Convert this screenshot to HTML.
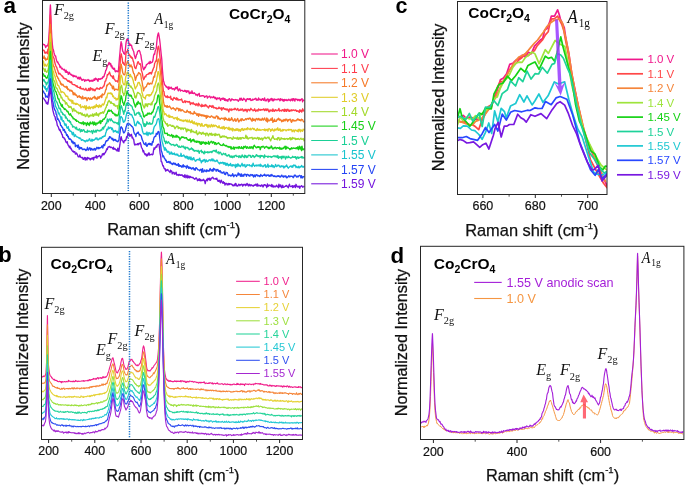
<!DOCTYPE html>
<html><head><meta charset="utf-8"><style>
html,body{margin:0;padding:0;background:#fff;}
body{width:685px;height:485px;overflow:hidden;}
svg{display:block;will-change:transform;}
</style></head><body>
<svg width="685" height="485" viewBox="0 0 685 485">
<rect width="685" height="485" fill="#fff"/>
<polyline points="43,44.5 43.5,44.3 44.1,44.9 44.6,44.7 45.2,46 45.7,47.5 46.3,46.1 46.8,45.7 47.4,46 47.9,44.9 48.5,42.5 49,35.3 49.6,24.5 50.1,9.1 50.4,5 50.7,10.2 51.2,25.8 51.8,37.6 52.3,43.8 52.9,48.8 53.4,49.9 54,52.7 54.5,54.5 55.1,56.1 55.6,55.9 56.2,59.1 56.7,60.8 57.3,62.2 57.8,61.9 58.4,63.8 58.9,64.2 59.5,65.1 60,67.4 60.6,66.4 61.1,67.6 61.7,68.9 62.2,68.2 62.8,69 63.3,69.6 63.9,70 64.4,69.3 65,70.7 65.5,72.2 66.1,70.1 66.6,72.4 67.2,72.1 67.7,71.8 68.3,74.4 68.8,73.7 69.4,72.3 69.9,73.7 70.5,74.5 71,74.1 71.6,75.2 72.1,74.9 72.7,75.8 73.2,76.8 73.8,75.3 74.3,76.3 74.9,76.1 75.4,76.8 76,76 76.5,76.8 77.1,77.3 77.6,78.5 78.2,78.9 78.7,77.1 79.3,77.7 79.8,79.2 80.4,77.1 80.9,78.6 81.5,79.1 82,80.4 82.6,80.1 83.1,79.4 83.7,79.5 84.2,79.8 84.8,81.4 85.3,79.9 85.9,80 86.4,80.6 87,80.3 87.5,80.2 88.1,79.5 88.6,80.5 89.2,80.1 89.7,81.5 90.3,81.1 90.8,80.5 91.4,81 91.9,80.1 92.5,81.2 93,80.3 93.6,80.7 94.1,79 94.7,80.3 95.2,78.5 95.8,78.2 96.3,79.5 96.9,79 97.4,79.8 98,81.4 98.5,78.7 99.1,78.7 99.6,79.3 100.2,79.4 100.7,78.6 101.3,78.3 101.8,78.8 102.4,78.4 102.9,76.6 103.5,77 104,76.5 104.6,74.2 105.1,73.3 105.7,70.3 106.2,70.1 106.8,67.8 107.3,66.3 107.9,64.9 108.4,64.5 109,62.4 109.5,63.1 110.1,64.8 110.6,63.4 111.2,66.7 111.7,65.4 112.3,68.2 112.8,67.4 113.4,69.3 113.9,69.2 114.5,68.3 115,71.1 115.6,71.7 116.1,70.8 116.7,71 117.2,71.6 117.8,71.1 118.3,71.7 118.9,64.8 119.4,58.6 120,52.3 120.5,46.2 121.1,41.6 121.3,43.4 121.6,43.2 122.2,48.1 122.7,51.1 123.3,52 123.8,53.5 124.4,54 124.9,54.3 125.5,48.2 126,43.1 126.6,40 127.1,39 127.6,40.6 127.7,38.7 128.2,39.6 128.8,42.9 129.3,45.5 129.9,43.8 130.4,45.3 131,45.4 131.5,45.1 132.1,48.2 132.6,48.9 133.2,50.5 133.7,51.5 134.3,54.9 134.8,56.6 135.4,58.6 135.9,57.3 136.5,54.6 137,54.2 137.6,51.5 138.1,51.2 138.7,50.6 139.2,50.5 139.8,51.3 140.3,53.4 140.9,55.1 141.4,58.8 142,61.9 142.5,65.9 143.1,68.3 143.6,69.8 144.2,69 144.7,67.2 145.3,67.7 145.8,66.5 146.4,64.7 146.9,64.5 147.5,64 148,63.5 148.6,63.4 149.1,62.1 149.7,63.7 150.2,61.3 150.8,63 151.3,62.5 151.9,62.3 152.4,62 153,60 153.5,56 154.1,53.9 154.6,54.3 155.2,50.9 155.7,49.7 156.3,48 156.8,42.1 157.4,37 157.9,34.4 158.4,33 158.5,33.1 159,35.6 159.6,39.4 160.1,43.5 160.7,49.6 161.2,54.4 161.8,59.6 162.3,68.2 162.9,75.2 163.4,80.6 164,82.3 164.5,84.6 165.1,85.2 165.6,85.7 166.2,87 166.7,86.4 167.3,87.6 167.8,87.7 168.4,89.3 168.9,86.6 169.5,88.6 170,87.9 170.6,88.2 171.1,87.1 171.7,88.1 172.2,89.2 172.8,88.6 173.3,88.9 173.9,88.7 174.4,90 175,89.1 175.5,87.4 176.1,88.7 176.6,87.8 177.2,86.8 177.7,89.2 178.3,90.9 178.8,89.9 179.4,88.9 179.9,89.2 180.5,91.1 181,90.4 181.6,90.4 182.1,90.4 182.7,90.6 183.2,91.4 183.8,91.3 184.3,91.1 184.9,90.2 185.4,91.6 186,90.8 186.5,92.4 187.1,90.6 187.6,91.7 188.2,91.9 188.7,90.9 189.3,93.7 189.8,93.6 190.4,92.1 190.9,93.3 191.5,93.2 192,90.8 192.6,93.4 193.1,93.3 193.7,93.5 194.2,92.7 194.8,93.5 195.3,93.8 195.9,95.1 196.4,94.5 197,94.4 197.5,95.8 198.1,94.2 198.6,94.5 199.2,93.4 199.7,96.4 200.3,96 200.8,96.1 201.4,96 201.9,95.7 202.5,95.9 203,95.6 203.6,95.8 204.1,96.1 204.7,97.4 205.2,96.7 205.8,96.3 206.3,95.9 206.9,96 207.4,98 208,97.2 208.5,96.9 209.1,96.6 209.6,96.1 210.2,97.1 210.7,98 211.3,97 211.8,97.2 212.4,97.3 212.9,97.7 213.5,96.4 214,97.6 214.6,97.2 215.1,98.7 215.7,97.4 216.2,98.7 216.8,99.6 217.3,98.1 217.9,97.9 218.4,98.7 219,98.6 219.5,97.8 220.1,99.2 220.6,100.6 221.2,98.7 221.7,98.8 222.3,98.2 222.8,99.4 223.4,98.1 223.9,98.3 224.5,100.4 225,98.6 225.6,100.3 226.1,100.8 226.7,99.7 227.2,100 227.8,101.3 228.3,99.5 228.9,99.2 229.4,98.6 230,99.8 230.5,101 231.1,100.6 231.6,99 232.2,99.1 232.7,99.4 233.3,100 233.8,99.6 234.4,100 234.9,100 235.5,99.5 236,99.8 236.6,100 237.1,99.7 237.7,100.2 238.2,101.3 238.8,100.3 239.3,99.8 239.9,98.3 240.4,100 241,98.1 241.5,98.5 242.1,100.4 242.6,100.3 243.2,99.5 243.7,98.2 244.3,99.3 244.8,99.1 245.4,100.2 245.9,101.5 246.5,99.8 247,98.9 247.6,98.6 248.1,99.5 248.7,99.4 249.2,98.6 249.8,99.6 250.3,98.6 250.9,100.5 251.4,100.4 252,100.4 252.5,99.1 253.1,99.9 253.6,99.4 254.2,99.2 254.7,99.2 255.3,98.4 255.8,98.3 256.4,100.2 256.9,99.3 257.5,99.7 258,100.4 258.6,98 259.1,98.9 259.7,99.7 260.2,99.9 260.8,99.2 261.3,100.4 261.9,99.8 262.4,98.6 263,98.8 263.5,100.3 264.1,100 264.6,98 265.2,100.8 265.7,100.2 266.3,100.8 266.8,99.4 267.4,99.5 267.9,98.8 268.5,101.9 269,99.6 269.6,101.1 270.1,99.2 270.7,99.9 271.2,98.4 271.8,99.5 272.3,100.7 272.9,98.8 273.4,100.8 274,100.2 274.5,99 275.1,99.5 275.6,99.5 276.2,99.9 276.7,99.5 277.3,99.3 277.8,99.7 278.4,99.1 278.9,98.9 279.5,100 280,100.8 280.6,98.7 281.1,100 281.7,99.5 282.2,99.2 282.8,100.8 283.3,99.6 283.9,101.3 284.4,99.4 285,100.4 285.5,99.9 286.1,99.4 286.6,100.6 287.2,99.9 287.7,100.6 288.3,100 288.8,99.2 289.4,100 289.9,100.2 290.5,100.9 291,99.3 291.6,100.1 292.1,98.7 292.7,100.7 293.2,99.2 293.8,98.6 294.3,100.1 294.9,101.1 295.4,98.9 296,99.2 296.5,99.5 297.1,99.2 297.6,100.5 298.2,99.5 298.7,99.6 299.3,100.7 299.8,99.5 300.4,100.6 300.9,99.4 301.5,99.2 302,98.6 302.6,101.8 303.1,99.9 303.7,100.4 304.2,100.2" fill="none" stroke="#f0188a" stroke-width="1.35" stroke-linejoin="round" />
<polyline points="43,49.6 43.5,50.4 44.1,50.5 44.6,52.7 45.2,53.2 45.7,52.1 46.3,52 46.8,52.8 47.4,53.7 47.9,49.1 48.5,49.9 49,42.5 49.6,33.3 50.1,18.3 50.4,14.9 50.7,19.6 51.2,34.8 51.8,47.5 52.3,53.3 52.9,55.9 53.4,57.5 54,58.2 54.5,61.3 55.1,63.5 55.6,65.2 56.2,66.7 56.7,67.2 57.3,69.4 57.8,70.6 58.4,72.7 58.9,74.1 59.5,73.3 60,73.5 60.6,74.7 61.1,74.9 61.7,75.4 62.2,76.5 62.8,76.2 63.3,78.1 63.9,78 64.4,78.7 65,78.8 65.5,78.7 66.1,78.9 66.6,79.9 67.2,80.1 67.7,81.1 68.3,81.3 68.8,80.5 69.4,82.1 69.9,81.3 70.5,82.3 71,82.9 71.6,81.8 72.1,84 72.7,84.4 73.2,84.5 73.8,84.6 74.3,84.9 74.9,84.7 75.4,85.7 76,85.7 76.5,86.5 77.1,85.7 77.6,87.2 78.2,87.3 78.7,87.3 79.3,87.3 79.8,88.3 80.4,86.7 80.9,88.7 81.5,88.7 82,88.9 82.6,89.1 83.1,88.4 83.7,88.9 84.2,89.8 84.8,89.8 85.3,89.7 85.9,88.3 86.4,90.1 87,90.6 87.5,90.5 88.1,89.9 88.6,88.4 89.2,90.6 89.7,89.6 90.3,87.6 90.8,90.1 91.4,88.4 91.9,88.5 92.5,89 93,90.6 93.6,89.1 94.1,89.6 94.7,90.8 95.2,90.6 95.8,89 96.3,88.8 96.9,87.9 97.4,88.3 98,89.1 98.5,88.9 99.1,88.6 99.6,89.2 100.2,87.5 100.7,87.9 101.3,88.3 101.8,87.9 102.4,88 102.9,87.1 103.5,86 104,86 104.6,83.6 105.1,81.2 105.7,81.1 106.2,78.9 106.8,77.7 107.3,74.7 107.9,75 108.4,74 109,73.3 109.5,72 110.1,74 110.6,75.6 111.2,76 111.7,75.9 112.3,77.1 112.8,78.3 113.4,75.8 113.9,78.5 114.5,79.6 115,80.1 115.6,81.3 116.1,81.2 116.7,80.9 117.2,81.3 117.8,82 118.3,79.7 118.9,75.2 119.4,70 120,65.4 120.5,57.7 121.1,54 121.3,53.9 121.6,55.8 122.2,58.2 122.7,63.1 123.3,62.5 123.8,64.2 124.4,64.8 124.9,65.2 125.5,60.2 126,53.3 126.6,51.8 127.1,51.4 127.6,50.1 127.7,49.4 128.2,52.6 128.8,54 129.3,55.4 129.9,55.2 130.4,57 131,56.4 131.5,58.1 132.1,57.4 132.6,58.7 133.2,61.2 133.7,62.1 134.3,65.6 134.8,67.7 135.4,68.2 135.9,68.6 136.5,65.9 137,64.7 137.6,62.3 138.1,61.6 138.7,62.7 139.2,63.9 139.8,64.4 140.3,63.8 140.9,66.2 141.4,70.6 142,72.1 142.5,74.2 143.1,77.8 143.6,79.7 144.2,78.7 144.7,77.1 145.3,76.1 145.8,76.9 146.4,74.9 146.9,74.7 147.5,74.3 148,74.3 148.6,73.3 149.1,73.9 149.7,72.6 150.2,73 150.8,72.4 151.3,74.1 151.9,72.6 152.4,70.9 153,69.6 153.5,68 154.1,67.1 154.6,63.5 155.2,62.3 155.7,60.9 156.3,61.2 156.8,56.4 157.4,51 157.9,47.6 158.4,46.2 158.5,46.3 159,48.4 159.6,54.1 160.1,58.1 160.7,63 161.2,67.3 161.8,74.8 162.3,80.8 162.9,86.5 163.4,91.2 164,91.5 164.5,95.6 165.1,95.8 165.6,96.7 166.2,97.3 166.7,96.7 167.3,95.8 167.8,97.7 168.4,96.9 168.9,97.4 169.5,97.3 170,97.7 170.6,96.2 171.1,99.4 171.7,98.7 172.2,99.5 172.8,100.4 173.3,98.9 173.9,97.4 174.4,98.3 175,98.2 175.5,98.9 176.1,99.5 176.6,97.8 177.2,99.9 177.7,98.4 178.3,100.1 178.8,99.8 179.4,99.7 179.9,100 180.5,99.7 181,99.8 181.6,99 182.1,100.5 182.7,102.2 183.2,102.5 183.8,102 184.3,101.6 184.9,100.6 185.4,102.5 186,101.4 186.5,101.5 187.1,101.5 187.6,102 188.2,101.7 188.7,102.1 189.3,101.4 189.8,102.2 190.4,104.6 190.9,102.8 191.5,102.8 192,103.6 192.6,103.9 193.1,102.5 193.7,103.4 194.2,104.5 194.8,104.1 195.3,104.1 195.9,105.5 196.4,103.8 197,104.6 197.5,104.2 198.1,106 198.6,103.2 199.2,104.5 199.7,104.7 200.3,105.9 200.8,105.9 201.4,106.7 201.9,104.3 202.5,106.4 203,105.6 203.6,105.4 204.1,106.5 204.7,105.4 205.2,104.5 205.8,106 206.3,105.1 206.9,105.9 207.4,106.9 208,106.9 208.5,108 209.1,106.6 209.6,105.5 210.2,106.2 210.7,106.2 211.3,106 211.8,107.4 212.4,106.6 212.9,105.5 213.5,107.9 214,107.3 214.6,107.8 215.1,107.7 215.7,108.2 216.2,107.8 216.8,109 217.3,108.4 217.9,108.5 218.4,108.6 219,107.1 219.5,108.3 220.1,108.3 220.6,108.8 221.2,107.6 221.7,110.2 222.3,109 222.8,108 223.4,107.6 223.9,108.9 224.5,109.2 225,108.7 225.6,109.5 226.1,108.9 226.7,110 227.2,109 227.8,109.6 228.3,110.6 228.9,112 229.4,109 230,109.5 230.5,109.2 231.1,110.6 231.6,109 232.2,109.6 232.7,109.9 233.3,109.1 233.8,109.2 234.4,109.6 234.9,108.2 235.5,108.7 236,109.6 236.6,110.1 237.1,109.8 237.7,108.4 238.2,109.5 238.8,110.6 239.3,110.4 239.9,109.8 240.4,109.1 241,110.4 241.5,109.4 242.1,108.9 242.6,109.2 243.2,111.1 243.7,110 244.3,110.8 244.8,109.4 245.4,110.6 245.9,109.3 246.5,109.7 247,111.9 247.6,110.4 248.1,109.3 248.7,109.7 249.2,110 249.8,110.8 250.3,109.3 250.9,108.3 251.4,109.5 252,109.7 252.5,109.8 253.1,110.8 253.6,110 254.2,110.4 254.7,108.8 255.3,110.4 255.8,111.5 256.4,110.4 256.9,109.9 257.5,109.9 258,111.2 258.6,108.9 259.1,109.6 259.7,110.1 260.2,110.4 260.8,109.4 261.3,110 261.9,109.6 262.4,109.9 263,109.7 263.5,108.9 264.1,109.8 264.6,110.6 265.2,109 265.7,109.7 266.3,110.5 266.8,109 267.4,110.1 267.9,109 268.5,110.9 269,111.9 269.6,111.7 270.1,109.8 270.7,110.7 271.2,110.1 271.8,110.1 272.3,111.4 272.9,109 273.4,111 274,110.1 274.5,111.3 275.1,110.3 275.6,109.6 276.2,110.4 276.7,110.8 277.3,110.2 277.8,110.6 278.4,109.8 278.9,108.4 279.5,111 280,110.8 280.6,110.4 281.1,110.3 281.7,111.1 282.2,109.9 282.8,109.7 283.3,110.1 283.9,111.3 284.4,109.1 285,111.3 285.5,109.8 286.1,109.4 286.6,111.4 287.2,110.2 287.7,109.2 288.3,110 288.8,111.1 289.4,111.4 289.9,110 290.5,110.7 291,111 291.6,109.8 292.1,110.7 292.7,110.4 293.2,109.9 293.8,110 294.3,110.5 294.9,110.4 295.4,109.9 296,110.1 296.5,111.4 297.1,110.6 297.6,111.2 298.2,111.5 298.7,111 299.3,112.4 299.8,109.8 300.4,111.2 300.9,110.2 301.5,112 302,111.9 302.6,108.8 303.1,109.7 303.7,111.1 304.2,111.2" fill="none" stroke="#ff3c4c" stroke-width="1.35" stroke-linejoin="round" />
<polyline points="43,56.9 43.5,58.3 44.1,55.9 44.6,58.8 45.2,57.9 45.7,60.2 46.3,59.5 46.8,58.9 47.4,59.4 47.9,57.4 48.5,55.4 49,49.2 49.6,40.6 50.1,27.7 50.4,24.5 50.7,29.2 51.2,44.1 51.8,53.6 52.3,59.6 52.9,63.7 53.4,66.1 54,66.5 54.5,68.4 55.1,70.4 55.6,72.4 56.2,73.1 56.7,76.2 57.3,76.3 57.8,78.2 58.4,78.2 58.9,80.1 59.5,81 60,81.1 60.6,84 61.1,83.3 61.7,85.1 62.2,85 62.8,84.2 63.3,85 63.9,86.3 64.4,86.5 65,86.9 65.5,87.1 66.1,86.3 66.6,88.1 67.2,86.8 67.7,89.5 68.3,89 68.8,89.4 69.4,90.3 69.9,91.1 70.5,90.1 71,90.2 71.6,91.2 72.1,90.8 72.7,92.1 73.2,94.7 73.8,92.8 74.3,94.6 74.9,93.2 75.4,95 76,94.8 76.5,95.3 77.1,96.1 77.6,97.4 78.2,96.3 78.7,96.5 79.3,95.8 79.8,97.3 80.4,96.8 80.9,97.9 81.5,97.4 82,99.1 82.6,96.1 83.1,97.7 83.7,98.9 84.2,98 84.8,97.7 85.3,98.3 85.9,97.4 86.4,98.7 87,100.7 87.5,99.6 88.1,97.7 88.6,97.9 89.2,98.4 89.7,99.6 90.3,98 90.8,98.1 91.4,99.4 91.9,99.3 92.5,98.2 93,97.5 93.6,97.1 94.1,97.7 94.7,96.3 95.2,98.8 95.8,97.5 96.3,98.4 96.9,99.5 97.4,98.8 98,96.7 98.5,98.2 99.1,98.3 99.6,96.6 100.2,96.2 100.7,96.7 101.3,95.2 101.8,97.6 102.4,93.9 102.9,94.7 103.5,94.9 104,94.4 104.6,93.6 105.1,92 105.7,89.8 106.2,89.4 106.8,85.1 107.3,85.7 107.9,84.2 108.4,84.2 109,83.8 109.5,82.7 110.1,83.2 110.6,85 111.2,85.3 111.7,85.1 112.3,88.1 112.8,88.8 113.4,86.1 113.9,88.1 114.5,90.4 115,89.3 115.6,89.2 116.1,89.2 116.7,89.3 117.2,89.9 117.8,89.8 118.3,90 118.9,84.7 119.4,79 120,73 120.5,68.4 121.1,64.2 121.3,64.5 121.6,66.5 122.2,69.2 122.7,72.6 123.3,74 123.8,74.6 124.4,74.9 124.9,74.3 125.5,70.4 126,64.6 126.6,64.7 127.1,62.2 127.6,61.1 127.7,61.3 128.2,62 128.8,64.2 129.3,64.7 129.9,66.9 130.4,65.7 131,64.9 131.5,66.9 132.1,66.7 132.6,69.6 133.2,72.1 133.7,73.5 134.3,74.1 134.8,76.9 135.4,80.4 135.9,78.7 136.5,76.4 137,75.2 137.6,75.4 138.1,73.7 138.7,72.5 139.2,73 139.8,73.9 140.3,73.8 140.9,75.5 141.4,79.4 142,81.3 142.5,84.8 143.1,87.4 143.6,90.9 144.2,88.3 144.7,88.2 145.3,87.2 145.8,86.9 146.4,86.7 146.9,84.8 147.5,84 148,82.9 148.6,83.3 149.1,84.5 149.7,84 150.2,83.1 150.8,83.6 151.3,83.8 151.9,83.8 152.4,81.8 153,80.5 153.5,77.4 154.1,76.3 154.6,77.1 155.2,72.3 155.7,72.1 156.3,70.6 156.8,67 157.4,62.8 157.9,60.1 158.4,59 158.5,59.1 159,60.3 159.6,65.5 160.1,69.4 160.7,74.3 161.2,80 161.8,85.4 162.3,91.2 162.9,96 163.4,101.3 164,103.9 164.5,105.6 165.1,106.6 165.6,105.8 166.2,106.1 166.7,107.2 167.3,105.6 167.8,107.2 168.4,106.7 168.9,107 169.5,106 170,106.9 170.6,107.8 171.1,108.8 171.7,109 172.2,108.2 172.8,108.3 173.3,107.8 173.9,109 174.4,108.6 175,109.4 175.5,110.5 176.1,109.1 176.6,108 177.2,108.6 177.7,108.2 178.3,108.5 178.8,110.8 179.4,109.9 179.9,108.6 180.5,110.5 181,111.1 181.6,109.9 182.1,109.7 182.7,110.1 183.2,110.8 183.8,111.2 184.3,111.8 184.9,112 185.4,112.1 186,112.4 186.5,111.9 187.1,110.2 187.6,111.6 188.2,112.1 188.7,111.6 189.3,112.9 189.8,112 190.4,111.6 190.9,113.8 191.5,113.3 192,113.1 192.6,113.8 193.1,114.1 193.7,113.7 194.2,111.4 194.8,113.1 195.3,113.4 195.9,113.1 196.4,114.3 197,115.3 197.5,114 198.1,113.6 198.6,116.4 199.2,114.4 199.7,113.9 200.3,115.2 200.8,115.5 201.4,114.7 201.9,116.1 202.5,115.1 203,114.8 203.6,115.8 204.1,116.4 204.7,115.3 205.2,116.2 205.8,115.9 206.3,118.4 206.9,115.5 207.4,117.3 208,116.1 208.5,116.1 209.1,116.8 209.6,117 210.2,117.4 210.7,116.6 211.3,115.9 211.8,116 212.4,116.9 212.9,117 213.5,117.8 214,117 214.6,117.7 215.1,118.2 215.7,117.1 216.2,115.9 216.8,116.3 217.3,116.2 217.9,118.9 218.4,116.9 219,118.8 219.5,118.4 220.1,119.5 220.6,119 221.2,118.1 221.7,118.2 222.3,118.5 222.8,118.7 223.4,118.2 223.9,118.7 224.5,120.2 225,117.5 225.6,119.3 226.1,118.4 226.7,119.4 227.2,120 227.8,119.4 228.3,120.1 228.9,118.2 229.4,120.6 230,119.2 230.5,120.2 231.1,119.9 231.6,117.6 232.2,119.2 232.7,120 233.3,121.1 233.8,120.1 234.4,120 234.9,118.6 235.5,121 236,121.3 236.6,119.8 237.1,119.6 237.7,118.4 238.2,120.5 238.8,122.1 239.3,120.4 239.9,120.8 240.4,120.2 241,118.9 241.5,120.9 242.1,118.7 242.6,119.5 243.2,119.9 243.7,120.4 244.3,120 244.8,120 245.4,119 245.9,118.6 246.5,119.7 247,119 247.6,118.5 248.1,118.6 248.7,119.2 249.2,118 249.8,118.5 250.3,118.2 250.9,119.8 251.4,119.9 252,121.3 252.5,118.3 253.1,119 253.6,120.4 254.2,119.4 254.7,119.3 255.3,121 255.8,119.3 256.4,118.6 256.9,118.5 257.5,119.9 258,119.9 258.6,118.4 259.1,118.8 259.7,120.1 260.2,120.1 260.8,119.1 261.3,120.2 261.9,120.1 262.4,118.2 263,119.4 263.5,120 264.1,119.2 264.6,117.9 265.2,119.5 265.7,120.4 266.3,121.1 266.8,117.9 267.4,122 267.9,118.9 268.5,120.6 269,120.9 269.6,120.7 270.1,120 270.7,118.9 271.2,120.4 271.8,119.3 272.3,117.8 272.9,122.4 273.4,120.6 274,121.5 274.5,119.2 275.1,121.3 275.6,121.4 276.2,121.4 276.7,120 277.3,119.1 277.8,119.9 278.4,118.2 278.9,118.7 279.5,120.2 280,119.3 280.6,120 281.1,120 281.7,121.8 282.2,121.3 282.8,120.1 283.3,121.2 283.9,119.5 284.4,119.9 285,121 285.5,119.2 286.1,120 286.6,119.1 287.2,120.3 287.7,121.6 288.3,119.6 288.8,120.4 289.4,119.5 289.9,119.3 290.5,119.2 291,121.5 291.6,122.3 292.1,120.7 292.7,119.7 293.2,120.9 293.8,120 294.3,121 294.9,120.6 295.4,120.6 296,120.9 296.5,119.9 297.1,120 297.6,118.9 298.2,120 298.7,119.2 299.3,120.3 299.8,119.6 300.4,120.5 300.9,120.8 301.5,119.2 302,119.7 302.6,119.6 303.1,121.1 303.7,121.9 304.2,121.2" fill="none" stroke="#f57a28" stroke-width="1.35" stroke-linejoin="round" />
<polyline points="43,62.3 43.5,61 44.1,66.1 44.6,65.7 45.2,64.1 45.7,65.8 46.3,65.9 46.8,66.2 47.4,64.4 47.9,64.1 48.5,63.2 49,57.6 49.6,49 50.1,36.6 50.4,33.9 50.7,38.2 51.2,51.6 51.8,59.2 52.3,65.5 52.9,71.1 53.4,71.3 54,74.2 54.5,75.5 55.1,76.5 55.6,78.9 56.2,80.4 56.7,81.8 57.3,84.3 57.8,85.4 58.4,85.5 58.9,86.2 59.5,88.1 60,88.7 60.6,90.4 61.1,92.6 61.7,91.8 62.2,91.7 62.8,92.2 63.3,92.3 63.9,92.8 64.4,93.3 65,94.4 65.5,94.9 66.1,96.4 66.6,96 67.2,96.6 67.7,96.3 68.3,99.2 68.8,98.7 69.4,100.3 69.9,99.9 70.5,101 71,99.9 71.6,101.2 72.1,103.4 72.7,100.5 73.2,102.9 73.8,103.8 74.3,103.1 74.9,103.7 75.4,104.5 76,103.2 76.5,104.4 77.1,103.6 77.6,104 78.2,104.4 78.7,105 79.3,105.5 79.8,106 80.4,104.6 80.9,107.8 81.5,107.2 82,107.1 82.6,106.3 83.1,106.8 83.7,107.5 84.2,107.5 84.8,105.8 85.3,108 85.9,109.9 86.4,105.8 87,108.3 87.5,107.8 88.1,107.4 88.6,108.7 89.2,106.5 89.7,107.6 90.3,108.8 90.8,107.3 91.4,107.1 91.9,107.5 92.5,106.9 93,108.6 93.6,106.4 94.1,107.9 94.7,105.9 95.2,107.5 95.8,106.7 96.3,104.5 96.9,106.6 97.4,105.6 98,106 98.5,107.6 99.1,105.1 99.6,105 100.2,107 100.7,105.7 101.3,106.7 101.8,105.3 102.4,104 102.9,104.3 103.5,105 104,104.2 104.6,102.4 105.1,100.9 105.7,99 106.2,97.1 106.8,97.9 107.3,95 107.9,93.2 108.4,93.1 109,93.6 109.5,93.4 110.1,92.9 110.6,92.9 111.2,94.2 111.7,93.3 112.3,94.3 112.8,96.6 113.4,96 113.9,97.2 114.5,98.4 115,98.2 115.6,98 116.1,100.1 116.7,99.2 117.2,98.6 117.8,99.8 118.3,98.7 118.9,93.8 119.4,89.4 120,84.1 120.5,77.2 121.1,75.6 121.3,75.3 121.6,75.9 122.2,78 122.7,82.1 123.3,83.8 123.8,84.7 124.4,83.9 124.9,84.8 125.5,78.9 126,76 126.6,75.5 127.1,72.5 127.6,72.1 127.7,73.5 128.2,72.8 128.8,74.2 129.3,75.7 129.9,77 130.4,74.5 131,76.2 131.5,76.7 132.1,77.5 132.6,78.9 133.2,80.5 133.7,83.3 134.3,84.5 134.8,87.5 135.4,88.9 135.9,87.6 136.5,86.5 137,86 137.6,84 138.1,82.5 138.7,82.8 139.2,82.4 139.8,84.1 140.3,85.5 140.9,85.9 141.4,89.1 142,92.8 142.5,94 143.1,97 143.6,97.4 144.2,97.8 144.7,97.5 145.3,99 145.8,96.2 146.4,95.5 146.9,95 147.5,94.8 148,95.2 148.6,94.7 149.1,96.2 149.7,94.6 150.2,95.6 150.8,94.5 151.3,94.7 151.9,92.6 152.4,92.8 153,91.3 153.5,89.4 154.1,86.1 154.6,87.2 155.2,84.6 155.7,83 156.3,81.3 156.8,78.6 157.4,75.6 157.9,72.1 158.4,71.6 158.5,71.6 159,73.5 159.6,77.6 160.1,81.9 160.7,86.2 161.2,91.6 161.8,97.4 162.3,100.4 162.9,108 163.4,111 164,112.1 164.5,114.7 165.1,113.6 165.6,113.8 166.2,114.5 166.7,115.6 167.3,115.9 167.8,116 168.4,116.7 168.9,115 169.5,117.4 170,116 170.6,116.8 171.1,117.2 171.7,116.7 172.2,116.6 172.8,117.1 173.3,118.1 173.9,118.7 174.4,118.8 175,117.6 175.5,117.9 176.1,117.9 176.6,119.2 177.2,117.2 177.7,120.1 178.3,118.7 178.8,118.6 179.4,119.6 179.9,120.3 180.5,119.8 181,120.6 181.6,119.9 182.1,120.9 182.7,121.1 183.2,120.1 183.8,121.5 184.3,120.5 184.9,120.6 185.4,119.9 186,120.6 186.5,121.6 187.1,120 187.6,121.8 188.2,121.7 188.7,121.8 189.3,119.9 189.8,121.8 190.4,122.6 190.9,121.6 191.5,122.4 192,120.5 192.6,123.2 193.1,122.3 193.7,123.7 194.2,121.6 194.8,123.9 195.3,123.2 195.9,124.3 196.4,122.9 197,123.3 197.5,125.9 198.1,123.4 198.6,123.7 199.2,124.1 199.7,123.6 200.3,125.6 200.8,126.2 201.4,124.2 201.9,123.5 202.5,126 203,126.1 203.6,125.9 204.1,126.3 204.7,124.6 205.2,125.3 205.8,124.3 206.3,124.3 206.9,126.3 207.4,125 208,127.5 208.5,125.6 209.1,125 209.6,126.2 210.2,127.1 210.7,126 211.3,124.5 211.8,125.9 212.4,126.8 212.9,125.2 213.5,125 214,126.6 214.6,126 215.1,125.1 215.7,125.8 216.2,125.6 216.8,126.7 217.3,126.7 217.9,127.7 218.4,127.5 219,125.7 219.5,127.5 220.1,128.1 220.6,127.8 221.2,128.4 221.7,127.2 222.3,127 222.8,128.7 223.4,127.2 223.9,126.4 224.5,129.2 225,127.8 225.6,128.3 226.1,127.5 226.7,127.7 227.2,127.9 227.8,128.7 228.3,129.4 228.9,127.2 229.4,129.9 230,128.3 230.5,128.4 231.1,130 231.6,129.4 232.2,128.1 232.7,131 233.3,128.7 233.8,129.7 234.4,129.6 234.9,130.7 235.5,129.1 236,130.3 236.6,128.8 237.1,130.4 237.7,128.8 238.2,129.1 238.8,131 239.3,129.7 239.9,129.5 240.4,131.3 241,129.7 241.5,128.7 242.1,130 242.6,128.4 243.2,130.3 243.7,130.4 244.3,128.9 244.8,128.8 245.4,129.5 245.9,129.4 246.5,128.5 247,129.8 247.6,127.6 248.1,128.9 248.7,129 249.2,129.1 249.8,129.6 250.3,128.3 250.9,129.8 251.4,129.1 252,128.7 252.5,128.1 253.1,128.3 253.6,129.6 254.2,128.5 254.7,129.3 255.3,130.2 255.8,130.2 256.4,130.6 256.9,129 257.5,128.4 258,130.2 258.6,129.6 259.1,130.3 259.7,129.3 260.2,130.3 260.8,130.1 261.3,130 261.9,129.8 262.4,129.7 263,129.6 263.5,129.6 264.1,130.2 264.6,129 265.2,130.9 265.7,129.4 266.3,130.3 266.8,129.4 267.4,129.3 267.9,131.2 268.5,129.3 269,128.5 269.6,129 270.1,129.3 270.7,131.4 271.2,129.8 271.8,130.4 272.3,128.8 272.9,130 273.4,130.3 274,131.2 274.5,129.1 275.1,130.2 275.6,130 276.2,128.9 276.7,129.8 277.3,129.6 277.8,127.8 278.4,130.3 278.9,130.3 279.5,129.5 280,128.7 280.6,131.1 281.1,130.1 281.7,130.7 282.2,131.1 282.8,129.4 283.3,130.6 283.9,129.7 284.4,129.9 285,129.9 285.5,129.9 286.1,130.9 286.6,130.1 287.2,129.8 287.7,129.7 288.3,130.3 288.8,129.2 289.4,129.6 289.9,130 290.5,129.5 291,129.9 291.6,129.5 292.1,131.7 292.7,131.2 293.2,130.4 293.8,130 294.3,131.9 294.9,130.4 295.4,130 296,130.4 296.5,130.4 297.1,131.3 297.6,130.1 298.2,131.9 298.7,129.4 299.3,130.7 299.8,129.3 300.4,131.7 300.9,129.9 301.5,130.1 302,131 302.6,131.3 303.1,129.2 303.7,129.9 304.2,129" fill="none" stroke="#e0cc28" stroke-width="1.35" stroke-linejoin="round" />
<polyline points="43,67.9 43.5,68.2 44.1,69.8 44.6,71.3 45.2,69 45.7,71.3 46.3,71.6 46.8,72.4 47.4,70.8 47.9,70.5 48.5,67.9 49,64.4 49.6,55.5 50.1,44.7 50.4,42.5 50.7,46.6 51.2,57.7 51.8,67.9 52.3,73.1 52.9,76.1 53.4,79.2 54,81.1 54.5,80.9 55.1,83.1 55.6,86.8 56.2,88.3 56.7,88 57.3,89 57.8,90.7 58.4,92 58.9,92.1 59.5,94.5 60,94.3 60.6,95.2 61.1,97.8 61.7,97.3 62.2,98.5 62.8,99.8 63.3,100.6 63.9,100.3 64.4,101.3 65,101.2 65.5,104 66.1,103.6 66.6,102.7 67.2,104.2 67.7,105.3 68.3,105.6 68.8,107.3 69.4,107.4 69.9,106.3 70.5,107.2 71,106.7 71.6,108.5 72.1,108.9 72.7,111.6 73.2,109.8 73.8,108.4 74.3,110 74.9,111.1 75.4,110.3 76,110.9 76.5,111.7 77.1,112.6 77.6,112.5 78.2,112.1 78.7,113.8 79.3,112.9 79.8,113.2 80.4,112.7 80.9,113.4 81.5,114.8 82,113.1 82.6,114.6 83.1,115.5 83.7,114.7 84.2,115.4 84.8,114.3 85.3,116.5 85.9,116.3 86.4,115.6 87,114 87.5,114.6 88.1,116.3 88.6,117 89.2,115.8 89.7,116.6 90.3,115 90.8,115.3 91.4,115.5 91.9,115.8 92.5,114 93,116.1 93.6,116.3 94.1,114.1 94.7,113.9 95.2,115.2 95.8,114.3 96.3,112.7 96.9,115.3 97.4,114.6 98,114 98.5,116 99.1,114.2 99.6,113.3 100.2,113.8 100.7,112.6 101.3,112.6 101.8,113.3 102.4,112.2 102.9,111.9 103.5,113.3 104,112.1 104.6,111.1 105.1,109.5 105.7,107.9 106.2,107.3 106.8,104.7 107.3,105.2 107.9,102 108.4,101.9 109,100.4 109.5,101.1 110.1,102 110.6,103.2 111.2,101.9 111.7,103.1 112.3,103.4 112.8,103.6 113.4,103.7 113.9,105.2 114.5,104.1 115,105.9 115.6,106.2 116.1,105.9 116.7,105.9 117.2,105.8 117.8,108.8 118.3,105.4 118.9,104.6 119.4,98.9 120,93.2 120.5,87.5 121.1,86.4 121.3,86.8 121.6,85.3 122.2,88.7 122.7,92.6 123.3,93.4 123.8,95.5 124.4,93.4 124.9,93.7 125.5,88.3 126,87.7 126.6,83.6 127.1,81.1 127.6,82.4 127.7,82.3 128.2,84.5 128.8,83.6 129.3,84.8 129.9,85.8 130.4,87 131,86.1 131.5,87.7 132.1,88.1 132.6,88.6 133.2,90.5 133.7,92.2 134.3,93.6 134.8,97.4 135.4,96.2 135.9,98.1 136.5,96.3 137,93.8 137.6,92.5 138.1,92.4 138.7,92.9 139.2,93.4 139.8,93.6 140.3,95 140.9,95.4 141.4,98.5 142,99.4 142.5,103.9 143.1,105.6 143.6,106.5 144.2,108.1 144.7,107.4 145.3,103.8 145.8,105.7 146.4,104 146.9,105.7 147.5,106.5 148,103.7 148.6,104.1 149.1,103.7 149.7,104.2 150.2,104.4 150.8,104.9 151.3,102.9 151.9,104.8 152.4,101.8 153,101.3 153.5,100.2 154.1,98.2 154.6,95.4 155.2,94.2 155.7,92.9 156.3,91.6 156.8,90.2 157.4,85.4 157.9,84 158.4,83 158.5,83.1 159,84.9 159.6,90.4 160.1,93.9 160.7,98.6 161.2,103 161.8,108.4 162.3,109.7 162.9,117.1 163.4,119 164,121 164.5,121.8 165.1,121.8 165.6,123.5 166.2,123.6 166.7,124.9 167.3,123.5 167.8,126.3 168.4,125.5 168.9,125.2 169.5,125 170,125.1 170.6,125 171.1,125.7 171.7,126.3 172.2,126.3 172.8,125.4 173.3,126.6 173.9,126.2 174.4,127.2 175,128.8 175.5,127.8 176.1,127.1 176.6,126.1 177.2,126.4 177.7,126.3 178.3,128.5 178.8,127.3 179.4,128.1 179.9,127.6 180.5,128.4 181,129.6 181.6,127.9 182.1,128.3 182.7,128.1 183.2,129.6 183.8,128.1 184.3,128.2 184.9,128.1 185.4,128.2 186,130 186.5,131.9 187.1,129 187.6,130.8 188.2,130.4 188.7,129.4 189.3,130.3 189.8,130.5 190.4,130.2 190.9,132.6 191.5,129.5 192,131.6 192.6,131.7 193.1,131.1 193.7,131.9 194.2,132.6 194.8,132.2 195.3,132.5 195.9,132.9 196.4,130.7 197,133.9 197.5,134.7 198.1,133.7 198.6,133.9 199.2,131.9 199.7,133.1 200.3,132.7 200.8,132.9 201.4,134.4 201.9,133 202.5,133.6 203,132.2 203.6,133.8 204.1,134 204.7,133.4 205.2,133.5 205.8,135.7 206.3,133.1 206.9,133.2 207.4,133.4 208,135.1 208.5,135.9 209.1,134.3 209.6,133.4 210.2,133.6 210.7,134.9 211.3,133.2 211.8,135.2 212.4,135.2 212.9,134 213.5,134.6 214,134.7 214.6,135.5 215.1,133.4 215.7,135.5 216.2,134.3 216.8,134.1 217.3,135.1 217.9,135 218.4,134.5 219,134.1 219.5,134.8 220.1,137 220.6,137.6 221.2,136.6 221.7,137.2 222.3,135.9 222.8,136.4 223.4,136.9 223.9,135.9 224.5,136.1 225,137.1 225.6,136.9 226.1,136.4 226.7,137.8 227.2,137.4 227.8,138.6 228.3,137.8 228.9,137.6 229.4,138.1 230,137.9 230.5,137.6 231.1,137.8 231.6,138.9 232.2,138.8 232.7,139.4 233.3,136.8 233.8,137.9 234.4,137.9 234.9,138.4 235.5,137.9 236,137.8 236.6,138.9 237.1,138.4 237.7,137.3 238.2,139.4 238.8,139.1 239.3,137.8 239.9,138.9 240.4,137.6 241,139.2 241.5,138 242.1,137.5 242.6,137.9 243.2,137.6 243.7,138.4 244.3,138.3 244.8,138.2 245.4,137.7 245.9,135.1 246.5,138.2 247,136.5 247.6,138.4 248.1,139.1 248.7,138.4 249.2,137.8 249.8,138 250.3,138 250.9,137.7 251.4,137.6 252,137.3 252.5,139.1 253.1,138.1 253.6,138.9 254.2,137.9 254.7,138.2 255.3,138 255.8,138.5 256.4,138.8 256.9,138.3 257.5,137.5 258,137.5 258.6,139.5 259.1,137.9 259.7,137.9 260.2,139.4 260.8,139.1 261.3,138.6 261.9,137.9 262.4,140.2 263,138.6 263.5,138.7 264.1,138.1 264.6,137.1 265.2,137.1 265.7,138.6 266.3,138.6 266.8,138.1 267.4,137.3 267.9,137.1 268.5,138.1 269,137.2 269.6,139.2 270.1,139.4 270.7,140.9 271.2,139.2 271.8,138 272.3,137.8 272.9,135.6 273.4,138 274,138.4 274.5,139.4 275.1,139.1 275.6,139.1 276.2,138.8 276.7,139.2 277.3,139.9 277.8,137.7 278.4,138.3 278.9,137.5 279.5,140.1 280,139.8 280.6,139.4 281.1,137.7 281.7,138.9 282.2,138.5 282.8,138.8 283.3,138.6 283.9,139.2 284.4,138.4 285,139.5 285.5,139 286.1,138.6 286.6,138.7 287.2,138.5 287.7,139.5 288.3,138.6 288.8,139.1 289.4,138.5 289.9,137.6 290.5,139.7 291,138 291.6,139.5 292.1,139.3 292.7,137.5 293.2,138.1 293.8,138.5 294.3,138.3 294.9,138 295.4,139.6 296,138.8 296.5,139.3 297.1,138.6 297.6,139.3 298.2,138.4 298.7,139 299.3,139.5 299.8,139.1 300.4,138.7 300.9,138.1 301.5,139.2 302,139.4 302.6,138.9 303.1,138.4 303.7,139.6 304.2,141.2" fill="none" stroke="#a2d92a" stroke-width="1.35" stroke-linejoin="round" />
<polyline points="43,74 43.5,73.9 44.1,76.3 44.6,75.6 45.2,75.9 45.7,77.2 46.3,78.2 46.8,77.7 47.4,77.8 47.9,75.7 48.5,74.9 49,71.1 49.6,63.9 50.1,53.4 50.4,51.4 50.7,55.6 51.2,66.9 51.8,75.7 52.3,80.4 52.9,82.7 53.4,85.1 54,86.8 54.5,88.7 55.1,90.5 55.6,91.4 56.2,92 56.7,94.7 57.3,95 57.8,98.1 58.4,99.2 58.9,98.9 59.5,101.9 60,103.1 60.6,103.3 61.1,105.5 61.7,106.5 62.2,104.7 62.8,107.4 63.3,107.6 63.9,108.3 64.4,109.5 65,108.7 65.5,109.5 66.1,109.9 66.6,110.6 67.2,111.8 67.7,111.2 68.3,112.2 68.8,114.1 69.4,114.1 69.9,115.1 70.5,113.7 71,115.2 71.6,116 72.1,117 72.7,117 73.2,118.8 73.8,118.4 74.3,118.9 74.9,119.3 75.4,120.2 76,119.6 76.5,121.3 77.1,121 77.6,121.1 78.2,121.3 78.7,122 79.3,122.7 79.8,122.8 80.4,122.6 80.9,123.2 81.5,122.8 82,124 82.6,123.1 83.1,121.6 83.7,124.6 84.2,123.7 84.8,122.7 85.3,123.6 85.9,123.1 86.4,125.6 87,124.3 87.5,122.5 88.1,124.4 88.6,123.6 89.2,125.5 89.7,123 90.3,122 90.8,123.9 91.4,123.6 91.9,123.4 92.5,121.9 93,124 93.6,125 94.1,121.9 94.7,124.4 95.2,122.8 95.8,125.2 96.3,123.5 96.9,122.9 97.4,123.8 98,123.2 98.5,122.1 99.1,123 99.6,121.8 100.2,120.5 100.7,123.6 101.3,121.3 101.8,120.8 102.4,121.3 102.9,119.3 103.5,119.1 104,119.3 104.6,118.5 105.1,117.7 105.7,117.2 106.2,114.5 106.8,114 107.3,113 107.9,110.9 108.4,111.3 109,109.8 109.5,111.3 110.1,110.8 110.6,110.8 111.2,110.1 111.7,111.9 112.3,111.7 112.8,113.4 113.4,113.2 113.9,113.1 114.5,114.9 115,115.1 115.6,114.2 116.1,116 116.7,115 117.2,115.2 117.8,115.8 118.3,114.5 118.9,112 119.4,107.8 120,104.5 120.5,99.8 121.1,95.6 121.3,97.1 121.6,96.4 122.2,99.3 122.7,102.3 123.3,103.1 123.8,105.4 124.4,103.5 124.9,101.5 125.5,100.3 126,95.7 126.6,94.2 127.1,90.9 127.6,93.7 127.7,93.5 128.2,93.7 128.8,94.6 129.3,95.9 129.9,94.9 130.4,96.1 131,95.2 131.5,96.1 132.1,98.1 132.6,98.7 133.2,98.8 133.7,102.1 134.3,103.7 134.8,105.1 135.4,107.1 135.9,106 136.5,103.7 137,102.7 137.6,104.5 138.1,101.3 138.7,102.7 139.2,103.3 139.8,103.9 140.3,103.1 140.9,105.3 141.4,107.8 142,110.7 142.5,111.8 143.1,113.5 143.6,116.6 144.2,117.1 144.7,116.3 145.3,115.1 145.8,115.6 146.4,115 146.9,115.3 147.5,113.2 148,114.1 148.6,113.8 149.1,112.9 149.7,114 150.2,113.9 150.8,113.4 151.3,114.1 151.9,112.3 152.4,112.7 153,111.6 153.5,109.7 154.1,108.6 154.6,105.4 155.2,103.8 155.7,104 156.3,102.7 156.8,102 157.4,98.2 157.9,95.4 158.4,95 158.5,95 159,95.8 159.6,103.1 160.1,105.5 160.7,110.1 161.2,114.3 161.8,119.4 162.3,122 162.9,126.8 163.4,127.7 164,129.1 164.5,132.8 165.1,133.6 165.6,133.2 166.2,133.3 166.7,133.6 167.3,133.2 167.8,135.4 168.4,134.8 168.9,134.9 169.5,135 170,135.8 170.6,135.5 171.1,135.9 171.7,134.4 172.2,136 172.8,137.6 173.3,135.4 173.9,135.9 174.4,136.9 175,137.1 175.5,137 176.1,135.2 176.6,137.1 177.2,135.8 177.7,136.2 178.3,137.5 178.8,136.9 179.4,137.9 179.9,140 180.5,138.1 181,138.2 181.6,136.9 182.1,137.3 182.7,137 183.2,137.6 183.8,137.3 184.3,137.8 184.9,138.3 185.4,137.8 186,137.6 186.5,137.7 187.1,139.4 187.6,139.3 188.2,140.2 188.7,140.4 189.3,139.4 189.8,140.4 190.4,138.8 190.9,142.1 191.5,141.3 192,140.3 192.6,139.6 193.1,141.1 193.7,139.3 194.2,140.4 194.8,141.9 195.3,141.4 195.9,141.1 196.4,142.4 197,140.9 197.5,142.1 198.1,141.6 198.6,141.4 199.2,142.7 199.7,141.5 200.3,144.1 200.8,142.1 201.4,144.4 201.9,141.8 202.5,143.4 203,141.9 203.6,141.9 204.1,143.2 204.7,143.7 205.2,142.1 205.8,144.2 206.3,142.5 206.9,143.3 207.4,143.4 208,143.6 208.5,141.5 209.1,144.3 209.6,143.4 210.2,142.5 210.7,141.9 211.3,141.3 211.8,141.6 212.4,143.2 212.9,142.4 213.5,141.8 214,142.3 214.6,144.2 215.1,142.7 215.7,142.7 216.2,144.5 216.8,143.9 217.3,143.8 217.9,143.4 218.4,142.8 219,143.3 219.5,144.1 220.1,144.5 220.6,145.1 221.2,145.4 221.7,145.3 222.3,145.5 222.8,144.6 223.4,143.8 223.9,145.3 224.5,145.1 225,145.6 225.6,146 226.1,145.4 226.7,145.6 227.2,146.6 227.8,146.9 228.3,146.4 228.9,147.5 229.4,147 230,146.4 230.5,147.4 231.1,149 231.6,146.9 232.2,148.5 232.7,148.7 233.3,148.8 233.8,146.8 234.4,149.2 234.9,147.6 235.5,147.3 236,147.3 236.6,148 237.1,147.5 237.7,147.3 238.2,148.6 238.8,146.9 239.3,146.6 239.9,148.2 240.4,148.1 241,148.4 241.5,146.6 242.1,148.4 242.6,147.9 243.2,148.9 243.7,146.4 244.3,147.6 244.8,147.2 245.4,146.1 245.9,146.8 246.5,148.4 247,147 247.6,146.8 248.1,148.1 248.7,148.2 249.2,148.2 249.8,146.7 250.3,147.3 250.9,148.3 251.4,146.8 252,146.7 252.5,148.1 253.1,148.7 253.6,146.4 254.2,145.2 254.7,146.1 255.3,146.5 255.8,147.3 256.4,147.9 256.9,147.3 257.5,146.8 258,147.5 258.6,146.6 259.1,147.4 259.7,146.9 260.2,149.7 260.8,148.1 261.3,146.7 261.9,146.6 262.4,147.1 263,146.1 263.5,146.9 264.1,146.9 264.6,148.3 265.2,147.2 265.7,146.9 266.3,146.4 266.8,146.6 267.4,147.6 267.9,147.4 268.5,148.6 269,147.1 269.6,148.6 270.1,147.9 270.7,147.7 271.2,146 271.8,146.7 272.3,148.4 272.9,149 273.4,148 274,148.5 274.5,147.5 275.1,147.5 275.6,147.3 276.2,148.7 276.7,148.2 277.3,147.7 277.8,147.7 278.4,148.4 278.9,148.2 279.5,147.3 280,149.4 280.6,148.2 281.1,148 281.7,149.3 282.2,148.9 282.8,148 283.3,148.5 283.9,147.2 284.4,147.5 285,146.2 285.5,149.1 286.1,146.5 286.6,148.7 287.2,147.4 287.7,147.3 288.3,148 288.8,148.4 289.4,148.7 289.9,149.7 290.5,148.5 291,149 291.6,147.7 292.1,148.8 292.7,148.4 293.2,147.9 293.8,148.2 294.3,148.2 294.9,148.4 295.4,148.6 296,147.9 296.5,147.7 297.1,149 297.6,146.9 298.2,147.8 298.7,149.7 299.3,146.1 299.8,147.8 300.4,149 300.9,147 301.5,150.6 302,146.2 302.6,149.6 303.1,149.8 303.7,149.2 304.2,148.3" fill="none" stroke="#18d018" stroke-width="1.35" stroke-linejoin="round" />
<polyline points="43,79 43.5,80.9 44.1,79.8 44.6,81.1 45.2,82.5 45.7,82.1 46.3,84.9 46.8,84.4 47.4,82.5 47.9,82.8 48.5,80.5 49,76.3 49.6,70 50.1,61.4 50.4,60.1 50.7,63.6 51.2,74.2 51.8,80.8 52.3,86.5 52.9,88.6 53.4,90.8 54,92.1 54.5,95.3 55.1,97.5 55.6,100.3 56.2,101.2 56.7,101.9 57.3,103 57.8,104.9 58.4,105.7 58.9,108.1 59.5,108.8 60,108.3 60.6,109.4 61.1,112.1 61.7,112.1 62.2,112.5 62.8,114.5 63.3,114 63.9,114.8 64.4,115.4 65,114.9 65.5,118 66.1,116.9 66.6,118.2 67.2,118.7 67.7,120.6 68.3,120.5 68.8,121.2 69.4,120.4 69.9,122.3 70.5,121.8 71,123.9 71.6,124.5 72.1,124.8 72.7,127.1 73.2,126.3 73.8,126.9 74.3,126.9 74.9,127.1 75.4,128.4 76,128.9 76.5,127.2 77.1,129.6 77.6,129.5 78.2,130.1 78.7,130 79.3,128.8 79.8,129.1 80.4,131.9 80.9,130.8 81.5,129.6 82,131.4 82.6,131 83.1,129.9 83.7,129.7 84.2,130.4 84.8,132.1 85.3,131.9 85.9,131.7 86.4,132.2 87,132.5 87.5,130.2 88.1,131.7 88.6,131.3 89.2,131 89.7,131.5 90.3,131.9 90.8,131.8 91.4,130.7 91.9,131.5 92.5,133.5 93,130.9 93.6,130.2 94.1,131.8 94.7,132 95.2,131.8 95.8,130.3 96.3,132 96.9,130.4 97.4,130 98,130.3 98.5,130.6 99.1,131.1 99.6,130.8 100.2,130.1 100.7,130.7 101.3,129.7 101.8,130.1 102.4,127.9 102.9,127.4 103.5,129 104,126.6 104.6,126.8 105.1,125.9 105.7,124.2 106.2,123 106.8,123.3 107.3,119 107.9,121.2 108.4,121.7 109,119.3 109.5,119 110.1,119.6 110.6,120.8 111.2,118.6 111.7,120.2 112.3,120.5 112.8,121.6 113.4,121.8 113.9,122.6 114.5,122.1 115,122.8 115.6,122.4 116.1,122.6 116.7,123.3 117.2,123.5 117.8,122.8 118.3,124.7 118.9,121.1 119.4,116 120,113.5 120.5,107.5 121.1,106.1 121.3,105.6 121.6,106.5 122.2,108.7 122.7,110.4 123.3,112.2 123.8,114.4 124.4,110.5 124.9,111.6 125.5,109 126,105 126.6,103.3 127.1,105.3 127.6,102.6 127.7,104.6 128.2,103.3 128.8,103.4 129.3,104.2 129.9,104.7 130.4,105.6 131,105.5 131.5,105.8 132.1,106.6 132.6,108.7 133.2,109.9 133.7,110.2 134.3,112.6 134.8,115.1 135.4,115.1 135.9,115 136.5,113.4 137,112.9 137.6,112.9 138.1,113.1 138.7,112.2 139.2,114.3 139.8,113 140.3,116.4 140.9,115.8 141.4,117.2 142,118.5 142.5,118.8 143.1,123.1 143.6,124.5 144.2,126.5 144.7,123.7 145.3,126.3 145.8,124.3 146.4,124.9 146.9,121.8 147.5,123.9 148,123.3 148.6,124.1 149.1,123.5 149.7,122.5 150.2,124.2 150.8,124 151.3,123.8 151.9,124 152.4,123.4 153,121 153.5,118 154.1,116.3 154.6,117.4 155.2,115.7 155.7,113.9 156.3,112.2 156.8,110.9 157.4,108.8 157.9,107 158.4,106.6 158.5,106.7 159,108 159.6,111.6 160.1,115.4 160.7,120 161.2,125.4 161.8,129.1 162.3,131.6 162.9,135.2 163.4,137.3 164,138.2 164.5,141.3 165.1,141.2 165.6,143.5 166.2,141.1 166.7,142 167.3,143.2 167.8,142.5 168.4,141.8 168.9,142.4 169.5,143.5 170,143.9 170.6,143.7 171.1,144.9 171.7,145 172.2,144.6 172.8,144.5 173.3,144.4 173.9,145.3 174.4,145.7 175,145.1 175.5,145.6 176.1,145.1 176.6,144.3 177.2,144.7 177.7,146.3 178.3,146.2 178.8,147.3 179.4,146.1 179.9,146.9 180.5,147.4 181,147.2 181.6,146 182.1,146.5 182.7,146.9 183.2,146 183.8,147.4 184.3,148 184.9,146.9 185.4,149.1 186,147.3 186.5,147.6 187.1,147.7 187.6,147.4 188.2,148.6 188.7,148.4 189.3,149.9 189.8,149.2 190.4,149.3 190.9,148.8 191.5,147.9 192,149.2 192.6,148.7 193.1,150.4 193.7,149.7 194.2,151.3 194.8,150.7 195.3,150.9 195.9,150.5 196.4,150.7 197,151.2 197.5,151.5 198.1,150.3 198.6,151.4 199.2,153.3 199.7,151.1 200.3,151.1 200.8,150.8 201.4,150.3 201.9,152.6 202.5,151.7 203,152 203.6,153.3 204.1,153.9 204.7,151.1 205.2,152.8 205.8,152.4 206.3,152.2 206.9,152.2 207.4,151.7 208,153 208.5,152.1 209.1,151.8 209.6,152.5 210.2,152.1 210.7,151.7 211.3,151.5 211.8,152.6 212.4,151.6 212.9,151 213.5,150.4 214,150.9 214.6,150.4 215.1,151.5 215.7,151.8 216.2,150 216.8,152 217.3,152.8 217.9,152.6 218.4,151.8 219,153.9 219.5,152.5 220.1,152.2 220.6,152.5 221.2,153.6 221.7,154.6 222.3,154.9 222.8,154.3 223.4,153.3 223.9,153.9 224.5,153.9 225,154.7 225.6,153.5 226.1,155.3 226.7,155.9 227.2,155.4 227.8,156 228.3,155 228.9,154.7 229.4,155.5 230,157.1 230.5,157.1 231.1,155.9 231.6,157.4 232.2,156.1 232.7,157.7 233.3,156.8 233.8,156 234.4,157.1 234.9,155.7 235.5,155.6 236,155.2 236.6,156.6 237.1,156.3 237.7,156.3 238.2,156 238.8,157.6 239.3,156 239.9,155.8 240.4,157.4 241,157.6 241.5,156.7 242.1,154.9 242.6,155.8 243.2,156.9 243.7,156.4 244.3,157.7 244.8,155.2 245.4,156.9 245.9,155.8 246.5,157.5 247,156.3 247.6,157.2 248.1,155.8 248.7,155.1 249.2,155.4 249.8,155.8 250.3,155.4 250.9,157.3 251.4,157.4 252,156.5 252.5,155.4 253.1,156.2 253.6,155.7 254.2,157.5 254.7,156.6 255.3,156.7 255.8,156 256.4,154.6 256.9,155.7 257.5,155.4 258,156.6 258.6,156.4 259.1,155.7 259.7,156 260.2,157.7 260.8,155.5 261.3,155.6 261.9,156.2 262.4,155.8 263,156 263.5,156.9 264.1,157.9 264.6,154.9 265.2,156.5 265.7,156.5 266.3,156.4 266.8,156.4 267.4,156.3 267.9,157.4 268.5,156.2 269,156.5 269.6,156.6 270.1,156.7 270.7,156.5 271.2,157.5 271.8,156.7 272.3,156.9 272.9,156.7 273.4,155.9 274,156.1 274.5,155.9 275.1,157 275.6,156.2 276.2,155.9 276.7,157.1 277.3,157.3 277.8,155.4 278.4,158.3 278.9,156.9 279.5,156.8 280,157.8 280.6,157 281.1,156.4 281.7,158.8 282.2,156.1 282.8,156.9 283.3,157.7 283.9,156.1 284.4,156.9 285,157.4 285.5,159.1 286.1,156.3 286.6,157 287.2,157.7 287.7,157.2 288.3,156.1 288.8,157.5 289.4,157.2 289.9,157.5 290.5,158.1 291,158 291.6,157.5 292.1,157.5 292.7,156.3 293.2,157.1 293.8,157.4 294.3,156.9 294.9,157.3 295.4,156.6 296,158.6 296.5,159.1 297.1,157 297.6,157.7 298.2,157.1 298.7,158.4 299.3,157.7 299.8,157.4 300.4,157.2 300.9,157.5 301.5,156.5 302,158 302.6,156.8 303.1,157.9 303.7,157.5 304.2,158.4" fill="none" stroke="#1ad096" stroke-width="1.35" stroke-linejoin="round" />
<polyline points="43,84.7 43.5,85.9 44.1,86.6 44.6,88.1 45.2,86.5 45.7,89.5 46.3,88.7 46.8,91.3 47.4,88.3 47.9,88.2 48.5,86.1 49,84.9 49.6,76.7 50.1,70.1 50.4,69.1 50.7,72.1 51.2,81 51.8,88.3 52.3,92.2 52.9,96.4 53.4,97.5 54,99.7 54.5,101.1 55.1,103.6 55.6,106.7 56.2,107.1 56.7,108.5 57.3,109.3 57.8,110.6 58.4,113.8 58.9,112.8 59.5,114.1 60,115.9 60.6,116.6 61.1,119.6 61.7,116.9 62.2,120.2 62.8,121.3 63.3,120.6 63.9,121.9 64.4,123.6 65,125.4 65.5,124 66.1,124.2 66.6,127.1 67.2,128.3 67.7,127.4 68.3,126.5 68.8,130.3 69.4,129.5 69.9,131.3 70.5,131 71,131.4 71.6,131.9 72.1,134.2 72.7,134.7 73.2,132.3 73.8,133.8 74.3,136.6 74.9,135.2 75.4,134.8 76,136.3 76.5,136.6 77.1,137 77.6,137 78.2,137.4 78.7,137.6 79.3,138.6 79.8,137.8 80.4,138.5 80.9,138.9 81.5,140.4 82,139.8 82.6,139.6 83.1,140.4 83.7,140.4 84.2,141.1 84.8,140.7 85.3,141.9 85.9,141.5 86.4,140.3 87,140 87.5,141.1 88.1,140.8 88.6,140.3 89.2,139.1 89.7,138.8 90.3,140.7 90.8,141 91.4,141 91.9,139.2 92.5,141.1 93,139.7 93.6,140.4 94.1,140.3 94.7,139.2 95.2,139.3 95.8,137.9 96.3,138.8 96.9,137.9 97.4,139.7 98,139.2 98.5,139.8 99.1,139.1 99.6,138.1 100.2,138.7 100.7,137.9 101.3,138.5 101.8,138 102.4,136.6 102.9,137.1 103.5,136.7 104,135.9 104.6,136.3 105.1,136.1 105.7,133.1 106.2,131.9 106.8,129.1 107.3,130 107.9,129.1 108.4,127 109,128.5 109.5,128.4 110.1,127.3 110.6,127.7 111.2,127.6 111.7,129.5 112.3,128.1 112.8,129.6 113.4,132 113.9,130.8 114.5,131.5 115,131.2 115.6,130.5 116.1,131.7 116.7,132.3 117.2,131.3 117.8,132.5 118.3,133.1 118.9,131.3 119.4,125.3 120,121.5 120.5,116.8 121.1,116.9 121.3,116.5 121.6,117.2 122.2,117.9 122.7,119.7 123.3,122 123.8,122.3 124.4,121.1 124.9,121 125.5,118.9 126,116.3 126.6,113.9 127.1,112 127.6,113 127.7,113.3 128.2,112.8 128.8,112.8 129.3,113 129.9,114.5 130.4,114.2 131,114.9 131.5,114.5 132.1,115.6 132.6,117.3 133.2,117.9 133.7,119.6 134.3,122.4 134.8,125.3 135.4,125.1 135.9,125.9 136.5,123.7 137,122.6 137.6,121.3 138.1,121.8 138.7,123.5 139.2,122.8 139.8,123.7 140.3,124.2 140.9,124.6 141.4,126.1 142,128.4 142.5,131 143.1,132.7 143.6,133.8 144.2,134 144.7,133.4 145.3,133.9 145.8,133.3 146.4,134.8 146.9,132 147.5,133.4 148,135.5 148.6,133.2 149.1,132.5 149.7,133.4 150.2,134.5 150.8,133.2 151.3,133.9 151.9,133.3 152.4,132.3 153,133.8 153.5,129.4 154.1,127.2 154.6,126 155.2,125.7 155.7,124.7 156.3,123.9 156.8,121.9 157.4,119.3 157.9,119.2 158.4,118.6 158.5,118.6 159,119 159.6,123.4 160.1,127.5 160.7,132.1 161.2,134.9 161.8,139.5 162.3,142.3 162.9,144 163.4,146.4 164,147.5 164.5,150 165.1,147.7 165.6,150 166.2,149.3 166.7,150.8 167.3,152.2 167.8,151.2 168.4,152.1 168.9,151.5 169.5,154.1 170,153.5 170.6,153.9 171.1,152 171.7,152.3 172.2,154.4 172.8,153.5 173.3,153.6 173.9,154.2 174.4,153 175,154.9 175.5,154.4 176.1,154.9 176.6,154 177.2,155.2 177.7,154.2 178.3,155.8 178.8,156 179.4,156 179.9,155.8 180.5,156 181,153.3 181.6,156.4 182.1,155.6 182.7,156 183.2,155.8 183.8,155 184.3,155.9 184.9,157 185.4,157.8 186,156.2 186.5,156.2 187.1,158.3 187.6,156.5 188.2,159.2 188.7,157.6 189.3,157 189.8,158.7 190.4,159.5 190.9,157 191.5,159.7 192,158.3 192.6,159.9 193.1,158.5 193.7,157.6 194.2,159.5 194.8,160 195.3,161.2 195.9,161 196.4,160.2 197,159.6 197.5,159.5 198.1,159.8 198.6,159.4 199.2,160 199.7,158.2 200.3,160.6 200.8,160.5 201.4,162.8 201.9,161.3 202.5,160.4 203,161.3 203.6,159.8 204.1,160.4 204.7,159.4 205.2,162.2 205.8,161.5 206.3,159.9 206.9,160.8 207.4,161.6 208,161.1 208.5,160.9 209.1,159.7 209.6,159.8 210.2,160.3 210.7,160.9 211.3,159.3 211.8,159 212.4,160.8 212.9,159 213.5,160.8 214,160.1 214.6,160.7 215.1,161.6 215.7,160.9 216.2,161.2 216.8,160 217.3,160.4 217.9,161.8 218.4,162.8 219,162.9 219.5,163.9 220.1,162.4 220.6,162.5 221.2,163.3 221.7,162.7 222.3,162.8 222.8,162.2 223.4,164.1 223.9,162.6 224.5,164.1 225,162.7 225.6,165 226.1,163.4 226.7,165.2 227.2,163.3 227.8,164.4 228.3,165.9 228.9,164.4 229.4,165.3 230,164.9 230.5,163.5 231.1,165.8 231.6,165.9 232.2,164.7 232.7,166.1 233.3,165 233.8,164.8 234.4,165.6 234.9,165.1 235.5,167.6 236,164.3 236.6,166.3 237.1,166.5 237.7,163.9 238.2,164.2 238.8,166.1 239.3,165.2 239.9,165.9 240.4,166.6 241,165.3 241.5,164.7 242.1,163.3 242.6,165.8 243.2,164.8 243.7,165.9 244.3,165.8 244.8,164.4 245.4,167.1 245.9,166.5 246.5,166.3 247,164.6 247.6,165.2 248.1,165.1 248.7,165.2 249.2,164.6 249.8,165.9 250.3,165.8 250.9,165.9 251.4,165.1 252,166.7 252.5,165.7 253.1,163.2 253.6,165 254.2,165.5 254.7,166.4 255.3,165.3 255.8,165.4 256.4,165 256.9,166.1 257.5,165.2 258,165.1 258.6,165 259.1,166.1 259.7,165.2 260.2,164.2 260.8,166.2 261.3,165 261.9,166 262.4,166 263,166.7 263.5,166.6 264.1,165.2 264.6,165.6 265.2,164.6 265.7,167.2 266.3,166.2 266.8,167 267.4,165.5 267.9,164.1 268.5,167.2 269,165.9 269.6,166 270.1,166 270.7,166.5 271.2,166.4 271.8,164.6 272.3,166.9 272.9,165.6 273.4,165.6 274,167.5 274.5,166.8 275.1,165.8 275.6,164.5 276.2,166.3 276.7,166.6 277.3,166.1 277.8,165.1 278.4,165.5 278.9,165.1 279.5,166.4 280,166.9 280.6,167.1 281.1,165.6 281.7,166.5 282.2,166.7 282.8,165.9 283.3,166.2 283.9,168.1 284.4,166.5 285,167.1 285.5,166 286.1,166.4 286.6,164.9 287.2,166.4 287.7,167.4 288.3,168.2 288.8,167.4 289.4,167 289.9,166.5 290.5,166 291,166.3 291.6,167 292.1,165.8 292.7,167.3 293.2,165.7 293.8,165 294.3,165.7 294.9,165.2 295.4,165.4 296,167.6 296.5,166.4 297.1,166.8 297.6,167.6 298.2,167.7 298.7,166.2 299.3,167.8 299.8,167 300.4,166.7 300.9,167.1 301.5,165.5 302,166.1 302.6,166.7 303.1,167.3 303.7,166.5 304.2,166.7" fill="none" stroke="#18c4ce" stroke-width="1.35" stroke-linejoin="round" />
<polyline points="43,90.6 43.5,91.6 44.1,93 44.6,93.3 45.2,94.2 45.7,97.1 46.3,96.4 46.8,96.1 47.4,97.1 47.9,97.4 48.5,94.4 49,91.7 49.6,85.1 50.1,79.3 50.4,78.8 50.7,81.8 51.2,90.5 51.8,94.2 52.3,100.9 52.9,101.7 53.4,104.7 54,107.5 54.5,109.1 55.1,110.6 55.6,110.8 56.2,114.2 56.7,114.7 57.3,119.3 57.8,118.3 58.4,120 58.9,120.1 59.5,121.9 60,122.3 60.6,125.3 61.1,125.3 61.7,127.1 62.2,127 62.8,128.1 63.3,130.5 63.9,129.5 64.4,129.7 65,132.4 65.5,132 66.1,133.4 66.6,135.3 67.2,134.6 67.7,136.8 68.3,136.2 68.8,138.8 69.4,139.3 69.9,138.5 70.5,139.4 71,139.6 71.6,141.2 72.1,142.6 72.7,141.1 73.2,143.7 73.8,142.3 74.3,143.2 74.9,142.9 75.4,146.6 76,145.3 76.5,145.8 77.1,145.4 77.6,147.3 78.2,144.9 78.7,147 79.3,149.2 79.8,147.2 80.4,147.8 80.9,148.6 81.5,147.6 82,148.6 82.6,149.6 83.1,149.2 83.7,149.5 84.2,149 84.8,149.6 85.3,149.4 85.9,150.6 86.4,150 87,149.2 87.5,147.3 88.1,150 88.6,150.1 89.2,148.7 89.7,147.7 90.3,148.5 90.8,150.2 91.4,148.5 91.9,148.9 92.5,149.4 93,150.2 93.6,149.1 94.1,148.9 94.7,148.4 95.2,150.2 95.8,149.6 96.3,148.5 96.9,147.3 97.4,147.7 98,148.7 98.5,147.4 99.1,148.6 99.6,147.9 100.2,147.7 100.7,147.7 101.3,147.4 101.8,145.9 102.4,146.1 102.9,148 103.5,144.6 104,144.8 104.6,145.6 105.1,143.7 105.7,142.1 106.2,140.6 106.8,141.1 107.3,140.6 107.9,140.3 108.4,138.5 109,138.8 109.5,136.7 110.1,137.6 110.6,137 111.2,138 111.7,138.8 112.3,139.6 112.8,138.3 113.4,140.7 113.9,139.6 114.5,139.5 115,140.4 115.6,139.5 116.1,140.9 116.7,141.3 117.2,141.1 117.8,141.8 118.3,141 118.9,140.2 119.4,135.7 120,132.8 120.5,128.1 121.1,126.7 121.3,127 121.6,127.8 122.2,127.9 122.7,129.8 123.3,132.1 123.8,133 124.4,132.3 124.9,131.6 125.5,130 126,127.5 126.6,125.8 127.1,124.1 127.6,123.6 127.7,123.9 128.2,124.1 128.8,124 129.3,124 129.9,124.1 130.4,125.2 131,125.3 131.5,126 132.1,126.7 132.6,127 133.2,128.2 133.7,131.4 134.3,133.3 134.8,134.2 135.4,134.5 135.9,136.6 136.5,133.4 137,133.2 137.6,133.3 138.1,132 138.7,133.2 139.2,134.9 139.8,134.6 140.3,134.8 140.9,135.6 141.4,136.5 142,139.1 142.5,140.2 143.1,141.6 143.6,143.1 144.2,144.3 144.7,144.2 145.3,144.8 145.8,142.6 146.4,145.4 146.9,146.3 147.5,145.3 148,143.9 148.6,143.4 149.1,144.3 149.7,143.3 150.2,144.7 150.8,143.6 151.3,144.9 151.9,145.2 152.4,141.7 153,142.3 153.5,139.6 154.1,137.3 154.6,136.9 155.2,136.3 155.7,136.4 156.3,133.3 156.8,134.5 157.4,134 157.9,132 158.4,131.5 158.5,131.5 159,131.8 159.6,137 160.1,141 160.7,145.2 161.2,150.5 161.8,151.9 162.3,153.8 162.9,156.8 163.4,155.9 164,157.1 164.5,158.6 165.1,158.9 165.6,160.5 166.2,160.1 166.7,162.3 167.3,162.4 167.8,162.1 168.4,161.4 168.9,162.5 169.5,162.9 170,161.5 170.6,163 171.1,163.5 171.7,163.2 172.2,164.6 172.8,164.4 173.3,162.9 173.9,163.8 174.4,163.2 175,164.5 175.5,163.4 176.1,165.1 176.6,164.7 177.2,165.4 177.7,164.5 178.3,163.6 178.8,166.4 179.4,164.9 179.9,166.3 180.5,165.6 181,166 181.6,167.1 182.1,165.9 182.7,167 183.2,164.6 183.8,166.8 184.3,166 184.9,166.2 185.4,166.5 186,166.9 186.5,168.2 187.1,165.4 187.6,167.1 188.2,166.6 188.7,168.4 189.3,167.2 189.8,168.1 190.4,167.5 190.9,168.6 191.5,169.1 192,168 192.6,168.6 193.1,167.5 193.7,169.1 194.2,169.7 194.8,168.6 195.3,170.2 195.9,167.6 196.4,167.9 197,168.5 197.5,169.3 198.1,169.9 198.6,169.9 199.2,170 199.7,170.8 200.3,169.9 200.8,169.3 201.4,169.4 201.9,172.3 202.5,168.6 203,170.5 203.6,171.9 204.1,171.1 204.7,170 205.2,170.7 205.8,171.4 206.3,171.7 206.9,169.8 207.4,171.1 208,170.5 208.5,171.1 209.1,171.2 209.6,169.6 210.2,168.5 210.7,169.9 211.3,170.9 211.8,169.9 212.4,169.5 212.9,171.3 213.5,168.3 214,170 214.6,168.9 215.1,169.5 215.7,169.8 216.2,171.2 216.8,169.4 217.3,170 217.9,169.4 218.4,171.4 219,170.8 219.5,171.8 220.1,170.7 220.6,171.5 221.2,172.9 221.7,172.1 222.3,173 222.8,173.1 223.4,172.6 223.9,171.8 224.5,174.2 225,173.7 225.6,174.6 226.1,172.3 226.7,172.8 227.2,172.6 227.8,173.8 228.3,175.7 228.9,175.4 229.4,175 230,175.3 230.5,176 231.1,175.1 231.6,175.8 232.2,175.6 232.7,173.7 233.3,175.2 233.8,176.7 234.4,175.2 234.9,175.4 235.5,175 236,175.1 236.6,176.5 237.1,175.3 237.7,174.7 238.2,172.9 238.8,175.1 239.3,173.9 239.9,174 240.4,176.2 241,176.1 241.5,173.9 242.1,176.3 242.6,175.9 243.2,174.9 243.7,176.2 244.3,174.2 244.8,174.5 245.4,174.3 245.9,174.6 246.5,176.3 247,174.4 247.6,174.5 248.1,174.7 248.7,175.7 249.2,175.2 249.8,176.3 250.3,174.9 250.9,174.4 251.4,175.1 252,175.6 252.5,174.7 253.1,175.8 253.6,177.1 254.2,175 254.7,175.5 255.3,176.7 255.8,175 256.4,174.8 256.9,174.6 257.5,175.9 258,176 258.6,175.4 259.1,175.6 259.7,176.6 260.2,176.3 260.8,174.4 261.3,175.6 261.9,175.7 262.4,176.2 263,175.4 263.5,175.1 264.1,175.3 264.6,174.2 265.2,175.7 265.7,175.2 266.3,176.1 266.8,174.9 267.4,175.4 267.9,174.9 268.5,174.9 269,176.4 269.6,175.4 270.1,176.2 270.7,174.9 271.2,176 271.8,174.5 272.3,175.5 272.9,175.5 273.4,176.5 274,176.1 274.5,175.8 275.1,176.7 275.6,176.2 276.2,176.5 276.7,176.7 277.3,176 277.8,175.8 278.4,176.4 278.9,175.8 279.5,176.5 280,177.1 280.6,176.9 281.1,175.9 281.7,175.1 282.2,176.2 282.8,176.1 283.3,177.2 283.9,175.9 284.4,176.1 285,176.9 285.5,175.9 286.1,176.2 286.6,177.8 287.2,177.6 287.7,176.9 288.3,176.6 288.8,175.6 289.4,176.9 289.9,176.5 290.5,176.6 291,176 291.6,176.4 292.1,176.3 292.7,176.8 293.2,177.7 293.8,176.8 294.3,175.1 294.9,175.7 295.4,175.2 296,175.9 296.5,177.1 297.1,176.9 297.6,176.1 298.2,176.9 298.7,176 299.3,175.4 299.8,175.5 300.4,176 300.9,177.9 301.5,175.6 302,177.8 302.6,177.9 303.1,176.6 303.7,176.7 304.2,176.3" fill="none" stroke="#2444f4" stroke-width="1.35" stroke-linejoin="round" />
<polyline points="43,97.9 43.5,98.1 44.1,99.1 44.6,99.7 45.2,101.1 45.7,101 46.3,103.3 46.8,103.6 47.4,102.5 47.9,104.2 48.5,100.1 49,96.9 49.6,93.3 50.1,88 50.4,88.2 50.7,90.7 51.2,96.8 51.8,102.3 52.3,106.7 52.9,110.4 53.4,112.4 54,114.7 54.5,116 55.1,116.9 55.6,120 56.2,120.4 56.7,122 57.3,125.4 57.8,126.2 58.4,127.1 58.9,128.9 59.5,130.2 60,129.5 60.6,131.8 61.1,132 61.7,134.1 62.2,134.5 62.8,137.3 63.3,137.5 63.9,137.4 64.4,139 65,138.9 65.5,140.9 66.1,142.2 66.6,142.8 67.2,141.7 67.7,143.9 68.3,145.4 68.8,146 69.4,147.5 69.9,146.2 70.5,148.5 71,148.2 71.6,149.7 72.1,150.6 72.7,151.5 73.2,151 73.8,152.2 74.3,151.6 74.9,151.9 75.4,154 76,153.9 76.5,153 77.1,154.1 77.6,155.2 78.2,156.8 78.7,156.7 79.3,156.8 79.8,154.9 80.4,156.6 80.9,157.3 81.5,157.5 82,157.8 82.6,157.4 83.1,159.3 83.7,159.3 84.2,158.1 84.8,157.4 85.3,160 85.9,157.8 86.4,159.3 87,159.9 87.5,157.4 88.1,158.5 88.6,158 89.2,158.7 89.7,158.5 90.3,159.9 90.8,158.7 91.4,158.2 91.9,159.1 92.5,157.8 93,157.7 93.6,159.8 94.1,157.1 94.7,157.3 95.2,157.6 95.8,156.6 96.3,155.6 96.9,158.2 97.4,156.4 98,156.5 98.5,156.5 99.1,155.8 99.6,155.5 100.2,156.3 100.7,158 101.3,156.3 101.8,156.1 102.4,153.8 102.9,154.8 103.5,153.4 104,154.7 104.6,153.3 105.1,152.9 105.7,151.9 106.2,150.5 106.8,148.7 107.3,149.6 107.9,147.3 108.4,146.9 109,147.1 109.5,146.4 110.1,147 110.6,147.6 111.2,147.2 111.7,147.5 112.3,147.8 112.8,148.9 113.4,147.1 113.9,149.4 114.5,148.6 115,148.5 115.6,149.8 116.1,149.6 116.7,150.5 117.2,151.1 117.8,148.2 118.3,150.2 118.9,151.4 119.4,147.7 120,144.2 120.5,139.5 121.1,136.6 121.3,137 121.6,139.1 122.2,140.7 122.7,140.8 123.3,142.3 123.8,142.9 124.4,140.4 124.9,140.4 125.5,140.6 126,139.6 126.6,136.6 127.1,137.5 127.6,134.9 127.7,134.5 128.2,132.7 128.8,135 129.3,133.9 129.9,136.4 130.4,135 131,135.4 131.5,134.3 132.1,137.8 132.6,137.2 133.2,139 133.7,139.3 134.3,143.7 134.8,145.1 135.4,144.1 135.9,144.5 136.5,144.4 137,144.5 137.6,143.6 138.1,144.9 138.7,143.4 139.2,143.4 139.8,143.9 140.3,142.6 140.9,144.6 141.4,147.2 142,148.3 142.5,149.2 143.1,151.8 143.6,150.7 144.2,152.8 144.7,154.1 145.3,154.7 145.8,153.8 146.4,155.3 146.9,156.1 147.5,154.2 148,155.2 148.6,153.2 149.1,152.9 149.7,155.1 150.2,154.6 150.8,154.7 151.3,154.1 151.9,154.3 152.4,154.8 153,154.2 153.5,150.7 154.1,147.8 154.6,149.2 155.2,147.8 155.7,147.1 156.3,146 156.8,147.2 157.4,144.7 157.9,144.5 158.4,144.2 158.5,144.1 159,144.4 159.6,148.8 160.1,153.3 160.7,156.1 161.2,161.7 161.8,161.9 162.3,164.1 162.9,166 163.4,165.8 164,168.2 164.5,168.9 165.1,168.6 165.6,171 166.2,169.9 166.7,170.5 167.3,169.8 167.8,169.5 168.4,170.7 168.9,171.2 169.5,171.4 170,172.6 170.6,170.2 171.1,171.4 171.7,171 172.2,173.9 172.8,172.5 173.3,172.7 173.9,172.4 174.4,174.2 175,173.3 175.5,173.9 176.1,172.2 176.6,175 177.2,174.5 177.7,174.8 178.3,175.5 178.8,174.4 179.4,174.5 179.9,175.4 180.5,175.3 181,174.8 181.6,175.2 182.1,174.8 182.7,176 183.2,176.3 183.8,175.7 184.3,177.4 184.9,174.7 185.4,175.9 186,177.7 186.5,176.1 187.1,175.2 187.6,177.9 188.2,177.4 188.7,176 189.3,177.9 189.8,176.5 190.4,176.4 190.9,177.6 191.5,177.4 192,177.1 192.6,177.9 193.1,177.5 193.7,178.5 194.2,178.6 194.8,179.4 195.3,178.5 195.9,177.9 196.4,178 197,179.1 197.5,180.7 198.1,180.2 198.6,179.1 199.2,180.5 199.7,178.8 200.3,180.8 200.8,179.6 201.4,180.7 201.9,180.6 202.5,179.9 203,180.5 203.6,179.3 204.1,180.2 204.7,181.2 205.2,183.7 205.8,180.8 206.3,180.2 206.9,179.2 207.4,180.8 208,178.3 208.5,178.9 209.1,179.7 209.6,178.1 210.2,180.3 210.7,179.8 211.3,178.2 211.8,178.1 212.4,177.3 212.9,177.2 213.5,178.7 214,178.9 214.6,178.8 215.1,178.9 215.7,178.4 216.2,179.4 216.8,178.1 217.3,179.7 217.9,181.2 218.4,181.4 219,180.1 219.5,180.5 220.1,182.2 220.6,182.7 221.2,180.1 221.7,181.3 222.3,182.1 222.8,183.2 223.4,181.7 223.9,183.2 224.5,182.6 225,185.1 225.6,183.7 226.1,183.4 226.7,183.5 227.2,184.9 227.8,184.8 228.3,183.5 228.9,184.8 229.4,183.6 230,184.2 230.5,183.9 231.1,184 231.6,184.6 232.2,184.4 232.7,185.7 233.3,185.9 233.8,185.1 234.4,184.3 234.9,185.9 235.5,183.5 236,183.6 236.6,185.9 237.1,185.8 237.7,186.1 238.2,185.1 238.8,184.2 239.3,184.8 239.9,185.7 240.4,184.6 241,184.7 241.5,184.1 242.1,184.3 242.6,186 243.2,185.6 243.7,184.3 244.3,184.3 244.8,184.8 245.4,185.7 245.9,184.3 246.5,185.1 247,183.4 247.6,184.2 248.1,185.6 248.7,186 249.2,184.3 249.8,184.6 250.3,185.9 250.9,184.9 251.4,184.8 252,185.7 252.5,185.4 253.1,186.2 253.6,185.9 254.2,184.8 254.7,185.2 255.3,185.2 255.8,184.1 256.4,184.4 256.9,186.1 257.5,183.9 258,186.1 258.6,185.5 259.1,185.2 259.7,185.8 260.2,185.7 260.8,186.4 261.3,185 261.9,185.2 262.4,185.2 263,187 263.5,186.2 264.1,184.6 264.6,185.1 265.2,184.8 265.7,185.5 266.3,185.7 266.8,187.5 267.4,184 267.9,186.4 268.5,185.9 269,185 269.6,185.5 270.1,185.2 270.7,185.7 271.2,186.5 271.8,184.4 272.3,186.8 272.9,185.4 273.4,187 274,186.1 274.5,186.8 275.1,186.3 275.6,186.8 276.2,185.9 276.7,185.2 277.3,186.5 277.8,186.5 278.4,187.7 278.9,184.2 279.5,185.8 280,186.9 280.6,184.9 281.1,185.8 281.7,187.8 282.2,187.2 282.8,185.3 283.3,187.3 283.9,187.1 284.4,186.8 285,186.4 285.5,186.3 286.1,185.4 286.6,185.7 287.2,186.8 287.7,186.3 288.3,187.8 288.8,185.9 289.4,184.2 289.9,186 290.5,186.5 291,186.6 291.6,186.4 292.1,185.6 292.7,187.6 293.2,185.8 293.8,187 294.3,186.1 294.9,185.4 295.4,187.6 296,184.3 296.5,185.7 297.1,186.8 297.6,186.2 298.2,187.1 298.7,186.4 299.3,186.1 299.8,188.4 300.4,186.4 300.9,186.4 301.5,185.7 302,186 302.6,187.2 303.1,187.1 303.7,186.6 304.2,186.1" fill="none" stroke="#7414dc" stroke-width="1.35" stroke-linejoin="round" />
<line x1="128.3" y1="2.5" x2="128.3" y2="191" stroke="#1b76cc" stroke-width="1.5" stroke-dasharray="1.25 1.25"/>
<rect x="42.5" y="0.5" width="262.3" height="193" fill="none" stroke="#262626" stroke-width="1"/>
<line x1="51.3" y1="194" x2="51.3" y2="197" stroke="#262626" stroke-width="1"/>
<text x="51.3" y="209.7" font-family='"Liberation Sans", sans-serif' font-size="12.4" fill="#111" font-weight="normal" font-style="normal" text-anchor="middle" stroke="#111" stroke-width="0.2">200</text>
<line x1="95.3" y1="194" x2="95.3" y2="197" stroke="#262626" stroke-width="1"/>
<text x="95.3" y="209.7" font-family='"Liberation Sans", sans-serif' font-size="12.4" fill="#111" font-weight="normal" font-style="normal" text-anchor="middle" stroke="#111" stroke-width="0.2">400</text>
<line x1="139.3" y1="194" x2="139.3" y2="197" stroke="#262626" stroke-width="1"/>
<text x="139.3" y="209.7" font-family='"Liberation Sans", sans-serif' font-size="12.4" fill="#111" font-weight="normal" font-style="normal" text-anchor="middle" stroke="#111" stroke-width="0.2">600</text>
<line x1="183.3" y1="194" x2="183.3" y2="197" stroke="#262626" stroke-width="1"/>
<text x="183.3" y="209.7" font-family='"Liberation Sans", sans-serif' font-size="12.4" fill="#111" font-weight="normal" font-style="normal" text-anchor="middle" stroke="#111" stroke-width="0.2">800</text>
<line x1="227.3" y1="194" x2="227.3" y2="197" stroke="#262626" stroke-width="1"/>
<text x="227.3" y="209.7" font-family='"Liberation Sans", sans-serif' font-size="12.4" fill="#111" font-weight="normal" font-style="normal" text-anchor="middle" stroke="#111" stroke-width="0.2">1000</text>
<line x1="271.3" y1="194" x2="271.3" y2="197" stroke="#262626" stroke-width="1"/>
<text x="271.3" y="209.7" font-family='"Liberation Sans", sans-serif' font-size="12.4" fill="#111" font-weight="normal" font-style="normal" text-anchor="middle" stroke="#111" stroke-width="0.2">1200</text>
<line x1="73.3" y1="194" x2="73.3" y2="195.7" stroke="#262626" stroke-width="0.8"/>
<line x1="117.3" y1="194" x2="117.3" y2="195.7" stroke="#262626" stroke-width="0.8"/>
<line x1="161.3" y1="194" x2="161.3" y2="195.7" stroke="#262626" stroke-width="0.8"/>
<line x1="205.3" y1="194" x2="205.3" y2="195.7" stroke="#262626" stroke-width="0.8"/>
<line x1="249.3" y1="194" x2="249.3" y2="195.7" stroke="#262626" stroke-width="0.8"/>
<line x1="293.3" y1="194" x2="293.3" y2="195.7" stroke="#262626" stroke-width="0.8"/>
<text x="173.9" y="235" font-family='"Liberation Sans", sans-serif' font-size="16.4" fill="#111" stroke="#111" stroke-width="0.25" text-anchor="middle">Raman shift (cm<tspan dy="-7.2" font-size="9.5">-1</tspan><tspan dy="7.2">)</tspan></text>
<text x="29" y="96" font-family='"Liberation Sans", sans-serif' font-size="16.3" fill="#111" stroke="#111" stroke-width="0.25" text-anchor="middle" transform="rotate(-90 29 96)">Normalized Intensity</text>
<text x="3.6" y="12.6" font-family='"Liberation Sans", sans-serif' font-size="22.5" fill="#000" font-weight="bold" font-style="normal" text-anchor="start" >a</text>
<text x="229" y="19.3" font-family='"Liberation Sans", sans-serif' font-size="15.4" font-weight="bold" fill="#000"><tspan dy="0">CoCr</tspan><tspan font-size="10.5" dy="4">2</tspan><tspan dy="-4">O</tspan><tspan font-size="10.5" dy="4">4</tspan></text>
<text x="53.9" y="14.9" font-family='"Liberation Serif", serif' font-size="16" fill="#111" text-anchor="start"><tspan font-style="italic">F</tspan><tspan font-size="10.3" dx="0" dy="4.4">2g</tspan></text>
<text x="92.5" y="60.7" font-family='"Liberation Serif", serif' font-size="16" fill="#111" text-anchor="start"><tspan font-style="italic">E</tspan><tspan font-size="10.3" dx="0" dy="3.8">g</tspan></text>
<text x="104.7" y="33.9" font-family='"Liberation Serif", serif' font-size="16" fill="#111" text-anchor="start"><tspan font-style="italic">F</tspan><tspan font-size="10.3" dx="0" dy="4.5">2g</tspan></text>
<text x="134.7" y="43.9" font-family='"Liberation Serif", serif' font-size="16" fill="#111" text-anchor="start"><tspan font-style="italic">F</tspan><tspan font-size="10.3" dx="0" dy="4.1">2g</tspan></text>
<text x="0" y="0" transform="translate(154.4 24.4) scale(0.88 1)" font-family='"Liberation Serif", serif' font-size="16" fill="#111" text-anchor="start"><tspan font-style="italic">A</tspan><tspan font-size="10.8" dx="1.0" dy="3.4">1g</tspan></text>
<line x1="311.2" y1="54" x2="337.8" y2="54" stroke="#f0188a" stroke-width="1.05"/>
<text x="341" y="58.2" font-family='"Liberation Sans", sans-serif' font-size="12" fill="#f0188a" font-weight="normal" font-style="normal" text-anchor="start" >1.0 V</text>
<line x1="311.2" y1="68.4" x2="337.8" y2="68.4" stroke="#ff3c4c" stroke-width="1.05"/>
<text x="341" y="72.6" font-family='"Liberation Sans", sans-serif' font-size="12" fill="#ff3c4c" font-weight="normal" font-style="normal" text-anchor="start" >1.1 V</text>
<line x1="311.2" y1="82.8" x2="337.8" y2="82.8" stroke="#f57a28" stroke-width="1.05"/>
<text x="341" y="87" font-family='"Liberation Sans", sans-serif' font-size="12" fill="#f57a28" font-weight="normal" font-style="normal" text-anchor="start" >1.2 V</text>
<line x1="311.2" y1="97.3" x2="337.8" y2="97.3" stroke="#e0cc28" stroke-width="1.05"/>
<text x="341" y="101.5" font-family='"Liberation Sans", sans-serif' font-size="12" fill="#e0cc28" font-weight="normal" font-style="normal" text-anchor="start" >1.3 V</text>
<line x1="311.2" y1="111.7" x2="337.8" y2="111.7" stroke="#a2d92a" stroke-width="1.05"/>
<text x="341" y="115.9" font-family='"Liberation Sans", sans-serif' font-size="12" fill="#a2d92a" font-weight="normal" font-style="normal" text-anchor="start" >1.4 V</text>
<line x1="311.2" y1="126.1" x2="337.8" y2="126.1" stroke="#18d018" stroke-width="1.05"/>
<text x="341" y="130.3" font-family='"Liberation Sans", sans-serif' font-size="12" fill="#18d018" font-weight="normal" font-style="normal" text-anchor="start" >1.45 V</text>
<line x1="311.2" y1="140.5" x2="337.8" y2="140.5" stroke="#1ad096" stroke-width="1.05"/>
<text x="341" y="144.7" font-family='"Liberation Sans", sans-serif' font-size="12" fill="#1ad096" font-weight="normal" font-style="normal" text-anchor="start" >1.5 V</text>
<line x1="311.2" y1="154.9" x2="337.8" y2="154.9" stroke="#18c4ce" stroke-width="1.05"/>
<text x="341" y="159.1" font-family='"Liberation Sans", sans-serif' font-size="12" fill="#18c4ce" font-weight="normal" font-style="normal" text-anchor="start" >1.55 V</text>
<line x1="311.2" y1="169.4" x2="337.8" y2="169.4" stroke="#2444f4" stroke-width="1.05"/>
<text x="341" y="173.6" font-family='"Liberation Sans", sans-serif' font-size="12" fill="#2444f4" font-weight="normal" font-style="normal" text-anchor="start" >1.57 V</text>
<line x1="311.2" y1="183.8" x2="337.8" y2="183.8" stroke="#7414dc" stroke-width="1.05"/>
<text x="341" y="188" font-family='"Liberation Sans", sans-serif' font-size="12" fill="#7414dc" font-weight="normal" font-style="normal" text-anchor="start" >1.59 V</text>
<polyline points="42,376.9 42.5,377 43,376.4 43.5,376 44,376.7 44.5,376 45,375.9 45.5,374.8 46,372.9 46.5,363.3 47,337.3 47.4,315.5 47.5,317.5 48,350 48.5,365.4 49,369.7 49.5,373.5 50,375.2 50.5,376.1 51,376.2 51.5,377.4 52,378.1 52.5,378 53,379.1 53.5,379.7 54,379.5 54.5,379.3 55,380.6 55.5,380.2 56,380.3 56.5,380.7 57,380.6 57.5,381.4 58,381.5 58.5,381.8 59,381.7 59.5,381.2 60,381.6 60.5,382 61,381.5 61.5,382.8 62,381.6 62.5,381.5 63,382.1 63.5,381.9 64,381.6 64.5,381.5 65,381.8 65.5,381.9 66,381.8 66.5,381.4 67,381.7 67.5,381.8 68,381.7 68.5,380.3 69,381.1 69.5,381.1 70,381.3 70.5,381.4 71,381.7 71.5,381.5 72,381.2 72.5,381.3 73,381.9 73.5,381 74,381.4 74.5,381.8 75,381.4 75.5,380.4 76,381.3 76.5,381 77,381.1 77.5,381.6 78,381.3 78.5,381.1 79,381.5 79.5,381.3 80,381.2 80.5,381.2 81,381.2 81.5,381 82,380.9 82.5,381.1 83,380.7 83.5,380.5 84,381.5 84.5,380.9 85,380.9 85.5,380.8 86,380.8 86.5,380.8 87,380.7 87.5,380.3 88,380.8 88.5,380.1 89,380.7 89.5,379.5 90,379.7 90.5,380.3 91,379.8 91.5,379.5 92,379.8 92.5,379.1 93,379.4 93.5,378.4 94,379 94.5,378.8 95,379.1 95.5,379.2 96,378.4 96.5,379.2 97,378.3 97.5,377.7 98,377.5 98.5,378.9 99,378.2 99.5,377.9 100,377.7 100.5,377.5 101,378.4 101.5,377.7 102,378.4 102.5,377.5 103,376.6 103.5,377.7 104,377.1 104.5,377 105,377.6 105.5,376.8 106,377.2 106.5,376.5 107,375.8 107.5,375 108,373 108.5,371.9 109,370.2 109.5,368.2 110,366.6 110.5,364.8 111,362.7 111.5,361.5 112,359.1 112.5,358.2 113,357.8 113.5,359.9 114,362.3 114.5,363.9 115,366.3 115.5,368.7 116,371.4 116.5,372.2 117,372.8 117.5,372.9 118,371.8 118.5,370.3 119,370 119.5,369.2 120,366.8 120.5,364.9 121,362.2 121.5,360 122,358.4 122.5,358.2 123,360.1 123.5,362.9 124,365.5 124.5,366.7 125,367.5 125.5,368.6 126,369.4 126.5,369 127,369.1 127.5,367.9 128,366.4 128.5,364.3 129,362.4 129.5,360.9 130,360.9 130.5,360.3 131,359.2 131.5,359.7 132,359.4 132.5,361.1 133,361 133.5,361.9 134,362.7 134.5,363.1 135,363.7 135.5,364.9 136,364.8 136.5,365.4 137,365.7 137.5,364.9 138,365.8 138.5,365.1 139,364.8 139.5,363.7 140,363.5 140.5,362.1 141,360.1 141.5,359.4 142,355.8 142.5,351.3 143,347.7 143.5,345.9 144,346.9 144.5,349.7 145,353.8 145.5,357.6 146,361.5 146.5,366.5 147,369.1 147.5,370 148,370.9 148.5,370.8 149,370.4 149.5,370.7 150,371.1 150.5,370.1 151,369.7 151.5,369.2 152,367.8 152.5,368.1 153,367.4 153.5,366.8 154,365.6 154.5,365 155,364.3 155.5,363.8 156,363 156.5,362.2 157,361.6 157.5,359.1 158,354.7 158.5,349.1 159,339.8 159.5,324.9 160,302.6 160.5,278.5 161,259.3 161.4,252 161.5,252.5 162,265.8 162.5,288.2 163,323.7 163.5,347.9 164,363 164.5,370 165,373.8 165.5,376.1 166,379.1 166.5,378.8 167,379.9 167.5,380.6 168,380.1 168.5,381.1 169,381.5 169.5,380.7 170,381.2 170.5,380.7 171,381.4 171.5,381.2 172,381.3 172.5,381.8 173,381.4 173.5,381.8 174,381.5 174.5,380.8 175,381.4 175.5,381.5 176,380.8 176.5,381.8 177,381.4 177.5,381.5 178,381 178.5,381.4 179,381.5 179.5,381.3 180,381.4 180.5,380.6 181,381.9 181.5,381 182,380.6 182.5,381.1 183,381.1 183.5,381.7 184,381.1 184.5,381.6 185,381.1 185.5,382.4 186,381.8 186.5,382.3 187,381.2 187.5,381.9 188,381.3 188.5,381.9 189,382 189.5,381.1 190,381.3 190.5,381.3 191,381.2 191.5,381.6 192,381.5 192.5,381.4 193,382 193.5,382.2 194,381.5 194.5,381.8 195,382.1 195.5,382 196,381.9 196.5,382.5 197,382.6 197.5,382.5 198,382.2 198.5,383.1 199,383 199.5,382.3 200,382.4 200.5,382.9 201,382.2 201.5,382.7 202,382.6 202.5,382.4 203,382.6 203.5,382.1 204,382.5 204.5,382 205,383.7 205.5,383.4 206,383.3 206.5,383 207,383.3 207.5,383.5 208,383.4 208.5,383.4 209,382.7 209.5,383.3 210,382.9 210.5,382.7 211,382.8 211.5,383.4 212,383.7 212.5,382.8 213,384 213.5,383.9 214,383.2 214.5,383.2 215,383.4 215.5,383.9 216,383.4 216.5,383.1 217,383.7 217.5,382.8 218,383.7 218.5,384.1 219,383.9 219.5,384.1 220,384 220.5,384.1 221,383.9 221.5,383.6 222,383.9 222.5,383.9 223,384.5 223.5,384.6 224,384.2 224.5,383.8 225,383.8 225.5,384.1 226,384.7 226.5,384.3 227,384.2 227.5,383.9 228,384.6 228.5,384.4 229,384.3 229.5,384.4 230,385 230.5,384.3 231,385 231.5,384.8 232,384.4 232.5,384.7 233,384.3 233.5,384.1 234,384.3 234.5,384.1 235,384.6 235.5,384.4 236,384.6 236.5,384.7 237,383.2 237.5,384.5 238,383.7 238.5,384.5 239,384.1 239.5,384.4 240,384.9 240.5,383.8 241,384.5 241.5,384.4 242,383.7 242.5,384.6 243,384.4 243.5,384.2 244,384.1 244.5,385.6 245,384.3 245.5,383.7 246,384 246.5,384.3 247,384.3 247.5,384.4 248,384 248.5,384.6 249,384.2 249.5,383.9 250,384.1 250.5,384.2 251,384.7 251.5,384.5 252,384.1 252.5,384.2 253,384.2 253.5,384.8 254,383.7 254.5,384 255,384.1 255.5,383.3 256,383.7 256.5,383.6 257,383.4 257.5,383.7 258,383.9 258.5,383.9 259,383.5 259.5,383.7 260,384.6 260.5,383.4 261,384 261.5,384.3 262,384.2 262.5,384.5 263,384.4 263.5,384.8 264,385.1 264.5,384.7 265,384.9 265.5,384.9 266,384.8 266.5,385.1 267,384.7 267.5,385.5 268,385.9 268.5,386 269,385.8 269.5,385 270,386 270.5,385.2 271,385.6 271.5,386.3 272,385.3 272.5,386 273,385.9 273.5,385.8 274,385.5 274.5,386.1 275,385.8 275.5,386.4 276,386.5 276.5,385.5 277,385.9 277.5,386 278,385.7 278.5,385.8 279,386.3 279.5,386.2 280,385.7 280.5,386.1 281,386.6 281.5,385.9 282,386.1 282.5,387.1 283,387 283.5,385.9 284,386 284.5,386.7 285,386.1 285.5,386.5 286,386.5 286.5,386.9 287,385.8 287.5,385.9 288,386.3 288.5,387.2 289,386.8 289.5,386.2 290,387.1 290.5,387.2 291,386.8 291.5,386.8 292,387.1 292.5,387.5 293,387.1 293.5,387.2 294,387 294.5,386.9 295,386.7 295.5,387.2 296,387 296.5,387.1 297,387.5 297.5,387.4 298,387.5 298.5,386.6 299,387.4 299.5,387 300,386.9 300.5,386.9 301,387.7 301.5,387.6 302,387" fill="none" stroke="#f0208c" stroke-width="1.1" stroke-linejoin="round" />
<polyline points="42,383.5 42.5,383.1 43,383.4 43.5,383.2 44,382.9 44.5,382.8 45,382.9 45.5,381.2 46,378.5 46.5,368.8 47,344.9 47.4,324.7 47.5,326.5 48,356.9 48.5,372 49,378.3 49.5,380.9 50,381.8 50.5,382.8 51,383.1 51.5,383.6 52,384.9 52.5,385.7 53,386.5 53.5,386.2 54,386.5 54.5,386.5 55,387.5 55.5,387.6 56,387.4 56.5,388 57,388.1 57.5,387.4 58,388.5 58.5,388.4 59,388.3 59.5,388.4 60,389.3 60.5,389.3 61,389.4 61.5,388.3 62,388.5 62.5,389.1 63,388.3 63.5,388.4 64,388 64.5,389.4 65,389.1 65.5,388.8 66,388.7 66.5,388.5 67,388.5 67.5,388.8 68,388.3 68.5,389 69,388.4 69.5,388.2 70,389 70.5,388.5 71,388.7 71.5,388.4 72,387.7 72.5,388.7 73,388 73.5,388.9 74,387.9 74.5,387.8 75,388.6 75.5,388.7 76,388.5 76.5,388 77,388.8 77.5,387.9 78,388.3 78.5,388.2 79,388.3 79.5,388.8 80,388.2 80.5,388.7 81,388.7 81.5,387.8 82,388 82.5,388.3 83,388.2 83.5,388.5 84,387.6 84.5,388.6 85,388.5 85.5,388.1 86,387.6 86.5,388.1 87,387.8 87.5,388.1 88,387.8 88.5,388 89,387.5 89.5,388.1 90,386.6 90.5,386.9 91,387.4 91.5,386.5 92,387.3 92.5,386.4 93,386.8 93.5,386.3 94,386.4 94.5,386.5 95,386.3 95.5,386.1 96,386.9 96.5,386 97,385.6 97.5,386.2 98,386.1 98.5,386.1 99,386.3 99.5,385.2 100,385.8 100.5,385.8 101,385.2 101.5,385.2 102,383.9 102.5,384.7 103,385.5 103.5,384 104,384.3 104.5,384.5 105,384.4 105.5,384.7 106,383.2 106.5,383.6 107,383.5 107.5,381.5 108,380.3 108.5,379.2 109,377.3 109.5,375.3 110,372.3 110.5,371.4 111,369.8 111.5,367.6 112,365.4 112.5,365 113,363.7 113.5,365.2 114,368 114.5,370 115,372.5 115.5,375.2 116,377.6 116.5,378.7 117,378.4 117.5,378.5 118,378.2 118.5,377.1 119,376.8 119.5,375.5 120,372.9 120.5,371 121,369.1 121.5,366.7 122,364.5 122.5,364.4 123,365.3 123.5,367.6 124,370.9 124.5,372.2 125,373.5 125.5,374.2 126,375 126.5,374.9 127,375 127.5,374 128,372 128.5,370.4 129,367.6 129.5,366.6 130,366.8 130.5,366.6 131,365.7 131.5,365.5 132,365.2 132.5,366.4 133,367.3 133.5,367.2 134,368.7 134.5,369.3 135,369.9 135.5,369.8 136,370.9 136.5,370.5 137,371.9 137.5,371.5 138,371 138.5,371.8 139,371.6 139.5,370.6 140,370.9 140.5,368.4 141,367.1 141.5,365.4 142,361 142.5,358.1 143,353.7 143.5,351.8 144,352.4 144.5,356 145,359.1 145.5,362.9 146,367.9 146.5,372.3 147,376.3 147.5,375.9 148,376.6 148.5,377 149,377.4 149.5,377.7 150,377.6 150.5,376.9 151,376.4 151.5,376 152,375.7 152.5,375 153,374 153.5,372.8 154,373.8 154.5,372.7 155,371.7 155.5,370.9 156,369.7 156.5,368.6 157,367.5 157.5,365.1 158,361 158.5,354.7 159,344.4 159.5,330.3 160,307.4 160.5,284.3 161,265.6 161.4,258.7 161.5,259.2 162,272.5 162.5,294.2 163,328.5 163.5,351.2 164,367.4 164.5,374.8 165,379.8 165.5,382.5 166,384.2 166.5,386 167,386.5 167.5,387.3 168,387.2 168.5,387.5 169,388.2 169.5,388.5 170,388.4 170.5,388.6 171,388.5 171.5,388.6 172,388.7 172.5,388.6 173,388.5 173.5,388.6 174,389.5 174.5,388.6 175,388.5 175.5,388.4 176,388.5 176.5,388.6 177,388.1 177.5,387.7 178,388.6 178.5,387.9 179,388.6 179.5,388.5 180,388.9 180.5,389.1 181,388.6 181.5,388.3 182,388 182.5,388.2 183,388.5 183.5,387.7 184,388.6 184.5,388.6 185,388.8 185.5,388.5 186,388.7 186.5,388.4 187,388.5 187.5,388 188,388.8 188.5,389.3 189,388.8 189.5,389 190,388.5 190.5,389.4 191,388.6 191.5,389.3 192,389 192.5,388.7 193,389.4 193.5,389.1 194,389.2 194.5,389.3 195,389.2 195.5,389.1 196,389.5 196.5,389.2 197,389.4 197.5,389.1 198,388.9 198.5,389.2 199,389.3 199.5,389.6 200,390 200.5,389 201,389.7 201.5,388.9 202,389.4 202.5,389.6 203,389 203.5,389.2 204,390 204.5,390 205,389.9 205.5,389.7 206,390.9 206.5,390 207,389.8 207.5,390.8 208,390.4 208.5,390.1 209,390.7 209.5,390.3 210,390.5 210.5,390.4 211,390 211.5,390.8 212,390.5 212.5,390.1 213,390.2 213.5,390.9 214,390.4 214.5,390.6 215,390.9 215.5,390.7 216,390.1 216.5,391 217,391.1 217.5,391.1 218,391.4 218.5,391 219,391.2 219.5,391.5 220,390.8 220.5,391.6 221,391.7 221.5,391.3 222,391.8 222.5,391.4 223,390.8 223.5,391.6 224,391.3 224.5,391.4 225,391.3 225.5,391.8 226,391.5 226.5,391 227,391.5 227.5,391.6 228,391.1 228.5,391.2 229,391.3 229.5,391.2 230,391.6 230.5,391.8 231,392.2 231.5,391.9 232,391.9 232.5,391.9 233,392 233.5,391.4 234,391.8 234.5,391.6 235,391.4 235.5,391.3 236,391.3 236.5,391.4 237,391 237.5,391.7 238,391.5 238.5,391.5 239,391.6 239.5,391.7 240,391.2 240.5,391.4 241,390.8 241.5,390.6 242,390.7 242.5,392 243,390.7 243.5,391.6 244,391.9 244.5,391.2 245,392 245.5,392.1 246,391.7 246.5,392.2 247,391.6 247.5,391 248,391.5 248.5,391.1 249,390.8 249.5,390.8 250,392.2 250.5,391.1 251,391.2 251.5,390.9 252,391.2 252.5,391 253,390.8 253.5,390.4 254,390.3 254.5,390.4 255,390.8 255.5,391.4 256,390.9 256.5,391.1 257,390.6 257.5,390.3 258,389.9 258.5,390.4 259,389.6 259.5,390.4 260,391.2 260.5,390.8 261,391.2 261.5,390.7 262,390.5 262.5,390.9 263,391.1 263.5,391.8 264,392.2 264.5,391.3 265,391.6 265.5,391.7 266,391.7 266.5,391.5 267,392 267.5,392.2 268,392.3 268.5,391.7 269,392.2 269.5,391.6 270,392.7 270.5,392 271,392.3 271.5,392.3 272,392.3 272.5,392.2 273,392 273.5,393.3 274,392.8 274.5,392.9 275,393.6 275.5,392.8 276,393.1 276.5,392.9 277,393.4 277.5,393.2 278,393.1 278.5,392.9 279,393.2 279.5,393.5 280,392.3 280.5,393.1 281,393 281.5,393.1 282,392.5 282.5,393.5 283,393 283.5,393.2 284,393.1 284.5,392.7 285,393.2 285.5,392.7 286,393.1 286.5,393.3 287,393.5 287.5,393.5 288,393.5 288.5,394.4 289,393.7 289.5,393.1 290,393.4 290.5,393.4 291,393.6 291.5,393.5 292,393.4 292.5,394.4 293,393.8 293.5,393.6 294,393.7 294.5,393.7 295,394.3 295.5,394 296,394.3 296.5,392.7 297,394 297.5,394.3 298,394.7 298.5,393.9 299,393.3 299.5,394.2 300,393.7 300.5,393.3 301,393.7 301.5,394.4 302,394.4" fill="none" stroke="#f5863a" stroke-width="1.1" stroke-linejoin="round" />
<polyline points="42,392 42.5,391.2 43,392 43.5,391.3 44,391.1 44.5,390.5 45,389.9 45.5,389.1 46,385.2 46.5,376.8 47,353.8 47.4,335.3 47.5,337.1 48,364.6 48.5,380.1 49,385.7 49.5,388.8 50,390.2 50.5,390.8 51,391.9 51.5,392.8 52,393.2 52.5,393.8 53,394.5 53.5,394.8 54,395 54.5,395.5 55,395.6 55.5,395.7 56,396.1 56.5,395.4 57,396.7 57.5,395.8 58,396.8 58.5,396.6 59,397.1 59.5,396.8 60,396.5 60.5,397.3 61,397 61.5,397 62,397 62.5,397.3 63,397.2 63.5,397 64,396.3 64.5,396.8 65,397 65.5,397.6 66,397.1 66.5,396.9 67,397.4 67.5,396.9 68,396.9 68.5,397 69,396.3 69.5,397.3 70,397.1 70.5,396.8 71,396.5 71.5,397 72,397.5 72.5,396.7 73,396.6 73.5,397.1 74,396.4 74.5,396.2 75,396.8 75.5,396.8 76,396.9 76.5,396.8 77,397.2 77.5,397 78,396.8 78.5,396.9 79,397.3 79.5,397.4 80,397.4 80.5,397.3 81,395.8 81.5,396.6 82,396.9 82.5,397.1 83,396.3 83.5,397.5 84,397 84.5,396.6 85,396.9 85.5,396.6 86,396.4 86.5,396.8 87,396.4 87.5,395.9 88,396.2 88.5,396.3 89,395.8 89.5,396.6 90,395.6 90.5,396.6 91,396.1 91.5,395.3 92,395.6 92.5,395.9 93,395.3 93.5,394.8 94,395.2 94.5,395.8 95,394.4 95.5,395.1 96,394.8 96.5,394.6 97,394.5 97.5,394.4 98,394.8 98.5,394.6 99,393.9 99.5,394.7 100,393.6 100.5,394.2 101,393.9 101.5,394.2 102,393.7 102.5,393.9 103,393.3 103.5,393.5 104,393.1 104.5,393.6 105,392.4 105.5,392.9 106,392.4 106.5,392 107,391.2 107.5,390.5 108,388.1 108.5,386.2 109,385.2 109.5,382.7 110,382.1 110.5,379.5 111,377.7 111.5,375.4 112,372.9 112.5,370.6 113,370.3 113.5,372.1 114,375.1 114.5,377.5 115,380.2 115.5,382.6 116,384.6 116.5,385.1 117,386.3 117.5,386.2 118,385.3 118.5,385.1 119,384.3 119.5,382.6 120,381.1 120.5,378.6 121,375.3 121.5,373.2 122,371.4 122.5,371 123,371.5 123.5,374.1 124,376.6 124.5,378.7 125,379.9 125.5,381.2 126,381.8 126.5,381.7 127,381.3 127.5,380.1 128,378.5 128.5,377.3 129,374 129.5,373.5 130,373 130.5,373 131,372 131.5,372.5 132,372.9 132.5,372.9 133,373 133.5,374.4 134,374.9 134.5,376.3 135,376.4 135.5,377.9 136,377.7 136.5,377.8 137,378.1 137.5,378.1 138,378.9 138.5,379.5 139,378.9 139.5,379.2 140,377.8 140.5,376.8 141,375.6 141.5,371.9 142,369.8 142.5,365.4 143,360.1 143.5,358.5 144,359.9 144.5,363.6 145,366.7 145.5,370.4 146,375.5 146.5,379.9 147,383.1 147.5,383.9 148,384.9 148.5,384.5 149,385.7 149.5,385.1 150,384.8 150.5,385.1 151,384.6 151.5,383.2 152,383.5 152.5,382.4 153,382.1 153.5,382.1 154,380.9 154.5,380.7 155,379.7 155.5,379.8 156,378.1 156.5,376.6 157,375.2 157.5,372.5 158,368.6 158.5,362.1 159,351.3 159.5,336.1 160,313.9 160.5,291.8 161,273.5 161.4,266.5 161.5,267.1 162,280.8 162.5,302 163,332.8 163.5,355.8 164,372.1 164.5,379.8 165,386 165.5,389.9 166,391.9 166.5,393 167,394.8 167.5,395.3 168,395.2 168.5,396.2 169,396.5 169.5,395.8 170,397.4 170.5,396.1 171,396.5 171.5,396.3 172,396.8 172.5,396.4 173,397 173.5,397.4 174,397.1 174.5,396.9 175,397.6 175.5,396.7 176,397.3 176.5,396.8 177,397 177.5,396.9 178,396.8 178.5,396.7 179,396.4 179.5,396.5 180,396.9 180.5,396.7 181,396.3 181.5,396.5 182,396.5 182.5,396.7 183,396.8 183.5,396.8 184,396.6 184.5,396.8 185,396.3 185.5,395.8 186,396.9 186.5,396.3 187,396.6 187.5,396.5 188,397.2 188.5,396.6 189,397.2 189.5,396.9 190,396.7 190.5,396.6 191,397.4 191.5,397.4 192,397.6 192.5,398 193,397.4 193.5,397.5 194,397.4 194.5,397.5 195,397.4 195.5,397.2 196,398.3 196.5,396.9 197,397.8 197.5,397.9 198,397.8 198.5,397.4 199,397.8 199.5,397.7 200,397.5 200.5,397.9 201,397.9 201.5,397.8 202,398.3 202.5,397.7 203,398.3 203.5,398 204,398.4 204.5,398.3 205,398.4 205.5,398 206,398.1 206.5,398.1 207,398.5 207.5,398.8 208,398.9 208.5,398.4 209,398.6 209.5,398 210,397.8 210.5,398.3 211,398.4 211.5,398.1 212,398.1 212.5,399 213,398.5 213.5,398.2 214,399.8 214.5,399 215,398.8 215.5,399.2 216,398.7 216.5,399.6 217,398.5 217.5,398.6 218,399.1 218.5,398.9 219,399.7 219.5,398.6 220,399 220.5,399.4 221,399.5 221.5,399.7 222,399.5 222.5,400.2 223,399.2 223.5,399.5 224,399.8 224.5,399.4 225,399.4 225.5,399.4 226,399.3 226.5,399.1 227,399.4 227.5,399 228,399.8 228.5,399 229,400.4 229.5,400.3 230,400.1 230.5,399.6 231,399.5 231.5,400.2 232,399.8 232.5,399.9 233,399.5 233.5,400.1 234,399.4 234.5,399.8 235,399.1 235.5,399.5 236,399.9 236.5,399.6 237,399.6 237.5,400 238,399.7 238.5,400.2 239,398.8 239.5,399.9 240,399.8 240.5,399 241,399.1 241.5,399.9 242,399.2 242.5,399.3 243,399.8 243.5,399.4 244,399.7 244.5,399.1 245,399.6 245.5,399.8 246,399.5 246.5,398.6 247,399.6 247.5,399.4 248,399 248.5,399.8 249,398.6 249.5,400 250,399 250.5,399.8 251,399.2 251.5,398.6 252,399.1 252.5,399.1 253,399.1 253.5,399.2 254,398.4 254.5,398.9 255,398.9 255.5,398.4 256,398.1 256.5,398 257,398.6 257.5,398.6 258,398 258.5,397.8 259,398.8 259.5,397.8 260,398.6 260.5,398.3 261,398.1 261.5,398.9 262,398.9 262.5,399.6 263,400.1 263.5,399.3 264,399.8 264.5,400 265,399.5 265.5,399.4 266,400.4 266.5,399.7 267,399.9 267.5,399.9 268,400 268.5,399.9 269,400.5 269.5,400.7 270,400.1 270.5,399.8 271,400.4 271.5,399.9 272,400.2 272.5,401 273,401.4 273.5,400.8 274,400.3 274.5,401 275,399.9 275.5,400.5 276,401.4 276.5,401.1 277,400.4 277.5,400.3 278,401.3 278.5,400.9 279,400.8 279.5,401.2 280,400.8 280.5,400.3 281,401.4 281.5,400.9 282,400.7 282.5,400.6 283,401.3 283.5,400.9 284,401.4 284.5,401.1 285,401.7 285.5,401.1 286,401 286.5,400.6 287,400.9 287.5,401.6 288,402.5 288.5,400.9 289,401 289.5,401.5 290,401.6 290.5,401.2 291,401.5 291.5,400.9 292,401.4 292.5,401.9 293,402.2 293.5,401.5 294,401.5 294.5,401.7 295,402 295.5,401.8 296,401.3 296.5,401.8 297,402 297.5,401.4 298,401.2 298.5,401.9 299,401.8 299.5,402.1 300,401.7 300.5,401.5 301,401.6 301.5,401.3 302,401.4" fill="none" stroke="#e6d236" stroke-width="1.1" stroke-linejoin="round" />
<polyline points="42,399.8 42.5,399.4 43,399.9 43.5,399.1 44,398.4 44.5,398.5 45,397.6 45.5,396.3 46,393.6 46.5,383.8 47,362.7 47.4,345.9 47.5,347.5 48,372.3 48.5,386.6 49,393.4 49.5,396.6 50,398.7 50.5,399.5 51,400.1 51.5,400.6 52,401.8 52.5,402.5 53,402.4 53.5,403 54,403.7 54.5,403.1 55,403.6 55.5,403.5 56,404.5 56.5,404.3 57,404.1 57.5,403.8 58,404.5 58.5,405 59,404.6 59.5,404.7 60,405.1 60.5,404.5 61,405 61.5,405.2 62,404.7 62.5,404.7 63,405.1 63.5,405 64,404.9 64.5,405.1 65,405.1 65.5,404.7 66,404.8 66.5,405.2 67,405.5 67.5,405.6 68,404.7 68.5,405.5 69,405.4 69.5,405.1 70,405.3 70.5,405.5 71,405.8 71.5,404.8 72,405.4 72.5,405.2 73,405.2 73.5,405.7 74,405.6 74.5,404.9 75,405.2 75.5,405.5 76,404.9 76.5,405.7 77,405.4 77.5,405.5 78,405.6 78.5,406.1 79,405.5 79.5,405.3 80,406.1 80.5,405.3 81,405.2 81.5,404.9 82,405.8 82.5,405.5 83,405.5 83.5,405.4 84,405.3 84.5,405 85,404.9 85.5,405.3 86,405.2 86.5,405.7 87,404.7 87.5,404.7 88,404.4 88.5,405.2 89,404.2 89.5,404.8 90,405 90.5,404.3 91,404.5 91.5,403.3 92,403.9 92.5,403.3 93,403.9 93.5,403.8 94,403.4 94.5,403.9 95,403.6 95.5,403.2 96,403.1 96.5,402.6 97,403 97.5,403.8 98,402.6 98.5,403 99,402.5 99.5,402.9 100,402.7 100.5,402.3 101,401.6 101.5,402 102,402.5 102.5,401.8 103,401.9 103.5,401.3 104,400.6 104.5,401.3 105,401 105.5,400.4 106,400.3 106.5,400.2 107,399.3 107.5,398.7 108,396.8 108.5,393.9 109,392.9 109.5,391.1 110,389.2 110.5,387.7 111,385.2 111.5,383.1 112,380.3 112.5,377.5 113,376.3 113.5,378.3 114,381.7 114.5,383.7 115,386.5 115.5,389.6 116,392 116.5,392.9 117,393.4 117.5,392.8 118,392.7 118.5,392 119,391.1 119.5,389 120,387.8 120.5,385.3 121,383.8 121.5,381.2 122,379 122.5,377.6 123,377.8 123.5,380.7 124,383 124.5,385.3 125,386 125.5,387.2 126,388.2 126.5,388.7 127,387.5 127.5,387.2 128,385.9 128.5,382.7 129,381.4 129.5,379.8 130,379.4 130.5,378.9 131,379 131.5,379.4 132,379.6 132.5,379.8 133,380.4 133.5,381.2 134,382.1 134.5,383 135,383.5 135.5,384.3 136,384 136.5,385.2 137,385.9 137.5,385.6 138,385.5 138.5,386.9 139,386.5 139.5,385.5 140,385.9 140.5,384.7 141,382.4 141.5,380.2 142,376.9 142.5,372.2 143,367 143.5,365.8 144,367.6 144.5,370.7 145,373.6 145.5,377.3 146,382.4 146.5,386.1 147,389.4 147.5,391.4 148,392.1 148.5,392.2 149,391.8 149.5,392.8 150,392.3 150.5,392.8 151,392.2 151.5,391.9 152,391.6 152.5,390.7 153,390.7 153.5,390.3 154,389.4 154.5,389.2 155,387.8 155.5,387.5 156,386.2 156.5,384.5 157,383.3 157.5,380.2 158,375.5 158.5,368.9 159,357.5 159.5,341.8 160,320.2 160.5,298.5 161,281 161.4,274.3 161.5,274.8 162,288.5 162.5,309.3 163,338.2 163.5,360.5 164,376.1 164.5,385.8 165,392.9 165.5,396.4 166,399.9 166.5,400.2 167,401.8 167.5,402 168,403.1 168.5,403.2 169,404 169.5,404.1 170,404.2 170.5,404.8 171,405.3 171.5,404.7 172,405.4 172.5,405.2 173,405.3 173.5,406.2 174,404.5 174.5,405.1 175,404.7 175.5,405.2 176,405.2 176.5,406.6 177,405.2 177.5,405.7 178,405.5 178.5,404.7 179,405 179.5,405.5 180,404.9 180.5,404.9 181,405 181.5,404.3 182,404.5 182.5,405 183,405.1 183.5,404.5 184,404.8 184.5,404.9 185,404.9 185.5,405.2 186,405 186.5,405.1 187,404.5 187.5,404.7 188,405.2 188.5,404.6 189,405.3 189.5,405 190,405 190.5,405.5 191,405.1 191.5,405.1 192,405.2 192.5,405.5 193,406.5 193.5,404.8 194,405.6 194.5,405.5 195,406 195.5,405.6 196,404.8 196.5,406.3 197,405.5 197.5,405.9 198,405.4 198.5,405.6 199,405.9 199.5,406.4 200,406.5 200.5,406 201,406.4 201.5,406.1 202,406.4 202.5,406.4 203,406.6 203.5,406.2 204,406.4 204.5,406.6 205,406.6 205.5,406.3 206,407.3 206.5,406.5 207,407 207.5,406.8 208,407.2 208.5,406 209,407.6 209.5,406.8 210,406.4 210.5,406.9 211,407.8 211.5,407.1 212,406.5 212.5,406.8 213,407.5 213.5,406.5 214,407 214.5,407 215,408 215.5,407.1 216,407.7 216.5,407 217,407 217.5,407.7 218,407.6 218.5,406.7 219,407.6 219.5,407.7 220,407.2 220.5,407.6 221,407.6 221.5,407.3 222,407.3 222.5,407.3 223,407.5 223.5,407.1 224,407.6 224.5,407.1 225,407.7 225.5,407.7 226,407.3 226.5,408.1 227,408.5 227.5,408.3 228,407.3 228.5,408.3 229,407.9 229.5,407.8 230,407.6 230.5,407.9 231,408.4 231.5,408.1 232,407.7 232.5,407.6 233,407.7 233.5,408.1 234,408.6 234.5,407.5 235,407.9 235.5,407.8 236,407.6 236.5,408 237,408.1 237.5,407.3 238,407.5 238.5,408.3 239,407.9 239.5,408 240,407.6 240.5,407.6 241,407.9 241.5,407.5 242,407.2 242.5,407.6 243,407.9 243.5,407.2 244,407.9 244.5,407.8 245,407.1 245.5,407.4 246,407.4 246.5,407.6 247,407.6 247.5,406.8 248,406.8 248.5,407.6 249,407.3 249.5,407.4 250,407.3 250.5,407.7 251,406.6 251.5,407.4 252,406.7 252.5,407.2 253,407.3 253.5,406.2 254,406.8 254.5,406.5 255,406.4 255.5,406.4 256,406 256.5,405.9 257,406.5 257.5,406.5 258,406 258.5,405.7 259,407.1 259.5,406.7 260,406.5 260.5,406.1 261,406.4 261.5,406.8 262,406.5 262.5,407.6 263,407.2 263.5,407.4 264,407 264.5,407.1 265,407.3 265.5,407.8 266,407.6 266.5,407.7 267,408 267.5,408 268,408.5 268.5,407.9 269,407.7 269.5,408.1 270,408.7 270.5,408 271,408.3 271.5,408.2 272,408.5 272.5,408.5 273,408.1 273.5,408.4 274,408.9 274.5,409 275,409 275.5,409 276,408.6 276.5,408.6 277,409.1 277.5,408.3 278,408.8 278.5,408.1 279,408.7 279.5,408.6 280,408.4 280.5,409.1 281,408.6 281.5,408.8 282,408.9 282.5,408.7 283,409.5 283.5,408.8 284,409.1 284.5,408.5 285,408.9 285.5,408.9 286,409 286.5,408.9 287,409.2 287.5,409.7 288,409.1 288.5,409.1 289,409 289.5,410.1 290,409.8 290.5,409.4 291,409.5 291.5,409 292,409.2 292.5,409.3 293,409.3 293.5,409 294,409 294.5,409.5 295,409.4 295.5,408.5 296,409.4 296.5,409.8 297,409.1 297.5,409.4 298,408.8 298.5,409.7 299,409 299.5,408.9 300,409.3 300.5,410.3 301,409.2 301.5,408.9 302,409.6" fill="none" stroke="#9ee040" stroke-width="1.1" stroke-linejoin="round" />
<polyline points="42,406.4 42.5,406.5 43,406.2 43.5,406.1 44,404.8 44.5,404.6 45,404.2 45.5,403.2 46,399.3 46.5,389.6 47,369.9 47.4,354.9 47.5,356.4 48,379.4 48.5,393.4 49,400.3 49.5,402.8 50,405.1 50.5,406.3 51,407.4 51.5,407.9 52,408.5 52.5,409.2 53,409.4 53.5,410.2 54,410.2 54.5,410.5 55,411.3 55.5,411.1 56,411.1 56.5,411.2 57,411.3 57.5,411.6 58,411.2 58.5,412 59,412.3 59.5,412.2 60,411.6 60.5,411.3 61,411.7 61.5,412 62,412.2 62.5,411.9 63,411.8 63.5,412.5 64,411.7 64.5,412.4 65,412.3 65.5,411.5 66,412.1 66.5,411.8 67,411.7 67.5,411.4 68,411.5 68.5,412.3 69,412 69.5,412.3 70,411.8 70.5,412.1 71,412.2 71.5,411.7 72,411.7 72.5,412.5 73,412.5 73.5,412.1 74,412.4 74.5,412.8 75,413.2 75.5,412.2 76,412.8 76.5,413.4 77,412.7 77.5,413.2 78,411.7 78.5,413.2 79,412.7 79.5,412 80,413 80.5,413.1 81,413.1 81.5,413.1 82,412.6 82.5,412.4 83,412.4 83.5,412.6 84,412.7 84.5,412.3 85,412.5 85.5,412.7 86,412.5 86.5,413.1 87,413 87.5,411.7 88,411.8 88.5,411.5 89,411.4 89.5,412 90,411.3 90.5,411.2 91,411.4 91.5,411.7 92,411.2 92.5,411.1 93,411.5 93.5,411.2 94,411.1 94.5,411.2 95,410.4 95.5,410.8 96,410.3 96.5,410.9 97,410.7 97.5,409.9 98,410.7 98.5,409.7 99,410.4 99.5,410 100,409.5 100.5,409.3 101,409.4 101.5,409.4 102,409 102.5,409.3 103,408.4 103.5,408.7 104,408.5 104.5,407.5 105,408.1 105.5,407.3 106,406.5 106.5,406.9 107,406.5 107.5,406 108,403.7 108.5,402.2 109,400.4 109.5,398.6 110,396.9 110.5,394.5 111,391.9 111.5,389.6 112,386.4 112.5,383.4 113,382.3 113.5,383.5 114,387.3 114.5,389.8 115,392.3 115.5,395.9 116,398.2 116.5,398.8 117,399.5 117.5,399.5 118,398.5 118.5,398.3 119,397.5 119.5,396.3 120,394.7 120.5,391.5 121,389.6 121.5,387.1 122,384.8 122.5,383.6 123,382.9 123.5,385.3 124,387.9 124.5,390.9 125,391.4 125.5,393.4 126,393.9 126.5,393.7 127,392 127.5,391.4 128,390.6 128.5,388.2 129,387 129.5,385.7 130,385.3 130.5,384.9 131,384.8 131.5,384.6 132,385 132.5,385.4 133,386.3 133.5,386.8 134,388.1 134.5,388 135,389.8 135.5,389.9 136,390.8 136.5,390.8 137,391.5 137.5,392.2 138,392 138.5,392.8 139,393.2 139.5,393.4 140,392.1 140.5,391.1 141,388.7 141.5,385.8 142,382.8 142.5,377.7 143,374.3 143.5,372.5 144,374.5 144.5,376.4 145,379.7 145.5,383.8 146,387.6 146.5,392.9 147,396 147.5,397.7 148,398.5 148.5,398.8 149,399.8 149.5,399.5 150,398.8 150.5,399.5 151,398.4 151.5,398.6 152,397.7 152.5,397.4 153,397.7 153.5,396.5 154,396 154.5,395.5 155,394.9 155.5,394.6 156,392.5 156.5,391.2 157,390.2 157.5,386.2 158,381.8 158.5,375.1 159,362.5 159.5,346.7 160,325.2 160.5,304.9 161,287.4 161.4,280.9 161.5,281.4 162,295.3 162.5,315.5 163,342.6 163.5,364.6 164,379.9 164.5,390.9 165,398 165.5,402.3 166,404.9 166.5,407.1 167,407.4 167.5,408.6 168,409.5 168.5,410.4 169,410.3 169.5,411.5 170,411.2 170.5,411.5 171,411.7 171.5,411.7 172,411.8 172.5,412.7 173,412.5 173.5,412.4 174,412.9 174.5,412.2 175,412.7 175.5,412.4 176,412 176.5,412.5 177,411.6 177.5,412.3 178,411.6 178.5,412 179,412.3 179.5,412 180,411.5 180.5,411.8 181,411.6 181.5,411.3 182,411.4 182.5,411.8 183,412 183.5,411.2 184,411.8 184.5,412.1 185,411.9 185.5,411.6 186,412.3 186.5,411.5 187,412.3 187.5,412.6 188,411.3 188.5,412.2 189,412.3 189.5,412.3 190,411.9 190.5,412.2 191,411.8 191.5,412.4 192,412.6 192.5,412.2 193,412.1 193.5,412.4 194,412.6 194.5,412.7 195,412.6 195.5,412.7 196,412.3 196.5,411.8 197,413.1 197.5,413.4 198,412.4 198.5,412.8 199,413.2 199.5,413.5 200,413.4 200.5,413.7 201,413.2 201.5,413.4 202,413.5 202.5,413.2 203,413.9 203.5,413.7 204,413.9 204.5,413.4 205,414 205.5,413.2 206,413.8 206.5,412.7 207,413.4 207.5,414 208,413.6 208.5,413.9 209,413.3 209.5,414.5 210,414.1 210.5,413.9 211,414.1 211.5,414.1 212,414.5 212.5,414.1 213,413.5 213.5,414 214,414.6 214.5,414.4 215,414 215.5,414.4 216,414.3 216.5,414.5 217,413.7 217.5,414 218,414.6 218.5,414.3 219,414.5 219.5,415.1 220,414.3 220.5,414.6 221,414.3 221.5,414.3 222,414.5 222.5,414 223,413.8 223.5,415.1 224,414.6 224.5,415.1 225,414.7 225.5,414.8 226,415 226.5,415 227,414.3 227.5,415.2 228,414.4 228.5,414.9 229,415.8 229.5,414.9 230,415.5 230.5,414.7 231,415.1 231.5,414.9 232,415 232.5,414.6 233,414.5 233.5,415 234,414.3 234.5,414.6 235,415.1 235.5,414.6 236,414.5 236.5,414.4 237,414.9 237.5,414.7 238,414.8 238.5,414.7 239,415.4 239.5,414.6 240,414 240.5,414.7 241,414.6 241.5,414.6 242,414 242.5,414.9 243,414.5 243.5,414.4 244,413.8 244.5,414.5 245,414.3 245.5,414.8 246,414.1 246.5,413.7 247,414.2 247.5,413.8 248,414.2 248.5,413.6 249,413.9 249.5,413.9 250,413.9 250.5,413.7 251,413.5 251.5,413.7 252,413.5 252.5,413.7 253,413.4 253.5,412.6 254,413.3 254.5,413.8 255,413.3 255.5,413.4 256,413.3 256.5,412.9 257,412.5 257.5,413.3 258,413.3 258.5,413.2 259,413.2 259.5,413.2 260,413.1 260.5,413.3 261,413.4 261.5,413.6 262,413.2 262.5,413.5 263,414.1 263.5,413.9 264,413.2 264.5,414.3 265,413.5 265.5,415.1 266,414.7 266.5,414.8 267,414.3 267.5,414.2 268,414.6 268.5,414.7 269,414.5 269.5,414.9 270,415.2 270.5,415.2 271,414.6 271.5,414.3 272,415.1 272.5,414.9 273,415.3 273.5,415.8 274,415.9 274.5,415.4 275,415.7 275.5,416 276,415.4 276.5,415.5 277,415.8 277.5,415.5 278,415.3 278.5,415.3 279,415.6 279.5,415.3 280,415.9 280.5,415.5 281,416.1 281.5,416.1 282,415.2 282.5,416 283,415.5 283.5,416.2 284,415.9 284.5,415.7 285,416 285.5,415.5 286,415.8 286.5,415.9 287,415.7 287.5,415.9 288,415.4 288.5,416 289,415.4 289.5,416 290,416 290.5,416.1 291,415.6 291.5,416.9 292,415.8 292.5,415.9 293,415.6 293.5,416.4 294,415.7 294.5,416.3 295,415.6 295.5,416 296,415.8 296.5,416.3 297,415.8 297.5,415.6 298,416.1 298.5,415.5 299,415.6 299.5,416.2 300,415.3 300.5,416.3 301,415.8 301.5,415.7 302,416.1" fill="none" stroke="#26d49a" stroke-width="1.1" stroke-linejoin="round" />
<polyline points="42,413.7 42.5,413.3 43,412.7 43.5,412.3 44,412 44.5,412 45,411.2 45.5,409.6 46,405.9 46.5,395.9 47,377.7 47.4,364.2 47.5,365.6 48,385.3 48.5,400.2 49,406.6 49.5,410.2 50,413.3 50.5,414.3 51,415.1 51.5,415.2 52,416.2 52.5,416.4 53,416.9 53.5,417.3 54,417.4 54.5,418 55,418.6 55.5,418.6 56,418.4 56.5,417.7 57,418.9 57.5,419 58,418.6 58.5,418.6 59,419.1 59.5,418.6 60,419.2 60.5,418.6 61,418.7 61.5,419 62,418.5 62.5,419.1 63,419.3 63.5,418.6 64,419.5 64.5,418.9 65,419.4 65.5,419.3 66,419 66.5,419.1 67,418.7 67.5,419.1 68,419.1 68.5,420 69,419.8 69.5,419 70,419.8 70.5,419.6 71,419.4 71.5,419.8 72,420 72.5,419.5 73,419.7 73.5,419.9 74,419.5 74.5,420 75,419.9 75.5,419.7 76,419.7 76.5,420.1 77,420.4 77.5,420.2 78,419.8 78.5,420.4 79,420.2 79.5,420.4 80,420.6 80.5,419.8 81,420.1 81.5,419.9 82,419.8 82.5,420.8 83,420.4 83.5,419.4 84,420.1 84.5,419.8 85,420.3 85.5,419.9 86,419.7 86.5,419.8 87,419.8 87.5,419.6 88,419.4 88.5,419.4 89,419.5 89.5,418.8 90,419.2 90.5,419 91,418.8 91.5,419.2 92,418.3 92.5,418.6 93,418.3 93.5,418.7 94,418.3 94.5,418.4 95,418.4 95.5,417.6 96,418.3 96.5,417.8 97,417.8 97.5,417.8 98,418 98.5,417.9 99,418.2 99.5,417.5 100,417.1 100.5,417 101,417.3 101.5,417.5 102,416.9 102.5,416.4 103,416.4 103.5,416.2 104,415.9 104.5,415.3 105,414.4 105.5,414.8 106,415.1 106.5,414.4 107,413 107.5,412.9 108,410.5 108.5,409.5 109,407 109.5,404.8 110,403.8 110.5,401.2 111,399.2 111.5,396.1 112,392 112.5,389.5 113,387.7 113.5,390.3 114,392.9 114.5,395.4 115,398.4 115.5,402.8 116,404.8 116.5,404.7 117,406.1 117.5,405.6 118,405.4 118.5,404.8 119,403.7 119.5,402.9 120,400.7 120.5,398.1 121,396.9 121.5,393.5 122,390.1 122.5,388.6 123,388.4 123.5,390.8 124,393.9 124.5,396.3 125,397.5 125.5,398.5 126,399.6 126.5,399.1 127,399.2 127.5,397 128,396.3 128.5,394.5 129,392.6 129.5,392 130,390.8 130.5,390.2 131,390.5 131.5,391.1 132,390.5 132.5,391.9 133,392.2 133.5,392.6 134,394.1 134.5,395.2 135,395.6 135.5,396.1 136,397.1 136.5,397.4 137,396.9 137.5,397.8 138,398.5 138.5,399.3 139,399.5 139.5,400.6 140,399.8 140.5,398 141,396 141.5,392.4 142,389.3 142.5,384.8 143,379.8 143.5,378.6 144,380.5 144.5,383.2 145,387 145.5,389.7 146,394.5 146.5,398.5 147,402.6 147.5,404.2 148,405.5 148.5,405.8 149,406 149.5,406.7 150,406.6 150.5,406.2 151,405.5 151.5,405 152,405.1 152.5,404.6 153,404.1 153.5,403.8 154,402.8 154.5,403.4 155,401.8 155.5,401 156,400.3 156.5,398.1 157,397.2 157.5,393.8 158,388.2 158.5,380.3 159,367.9 159.5,351.5 160,331.5 160.5,311.6 161,294 161.4,287.7 161.5,288.2 162,302.3 162.5,321.7 163,347.2 163.5,367.7 164,385 164.5,396.1 165,404.6 165.5,408.8 166,411.5 166.5,413.1 167,414.9 167.5,415.1 168,416.8 168.5,417.4 169,417.6 169.5,417.9 170,418.9 170.5,419.4 171,418.9 171.5,419.5 172,420.1 172.5,419.4 173,419.7 173.5,419.4 174,419.9 174.5,419.9 175,419.7 175.5,419.5 176,419.1 176.5,419.1 177,419.1 177.5,419.6 178,419 178.5,418.8 179,419.3 179.5,419.2 180,418.7 180.5,418.7 181,419.2 181.5,419.1 182,418.7 182.5,419.1 183,419 183.5,419.4 184,418.8 184.5,419.4 185,419.3 185.5,418.8 186,419.5 186.5,419.5 187,418.8 187.5,420 188,418.9 188.5,419 189,419.3 189.5,419.7 190,419.7 190.5,419.5 191,420 191.5,419.7 192,420.1 192.5,420.7 193,419.8 193.5,418.8 194,419.7 194.5,419.5 195,420 195.5,420 196,419.6 196.5,419.7 197,420 197.5,420.1 198,419.3 198.5,420.6 199,420.4 199.5,420.4 200,420.5 200.5,420.1 201,420.5 201.5,421 202,421 202.5,420.8 203,420.6 203.5,420.5 204,421.3 204.5,421 205,420.7 205.5,420.1 206,420.7 206.5,420.3 207,421.5 207.5,421.1 208,420.8 208.5,421 209,422.1 209.5,421.6 210,420.7 210.5,421.2 211,420.8 211.5,420.7 212,421.4 212.5,422.2 213,421.9 213.5,421.4 214,421.3 214.5,421.5 215,421.9 215.5,421 216,420.8 216.5,422.2 217,421.7 217.5,422.2 218,421.7 218.5,422.2 219,421.4 219.5,421.9 220,422.3 220.5,422.1 221,421.6 221.5,422.1 222,421.6 222.5,421.3 223,422.1 223.5,422.4 224,422.2 224.5,421.4 225,422.3 225.5,422.2 226,421.8 226.5,421.1 227,422.4 227.5,422.3 228,422.2 228.5,421.4 229,421.5 229.5,422.4 230,422.4 230.5,422.3 231,422 231.5,422.3 232,421.9 232.5,422 233,421.8 233.5,422.2 234,422 234.5,422.5 235,422.4 235.5,421.8 236,422.8 236.5,421.7 237,422.2 237.5,422.4 238,422.5 238.5,421.1 239,422.3 239.5,422.4 240,422.4 240.5,421 241,421.5 241.5,421.7 242,421.5 242.5,422.2 243,421.4 243.5,422 244,421.7 244.5,420.9 245,421 245.5,421.2 246,421.3 246.5,421.6 247,421.1 247.5,421.5 248,420.5 248.5,419.9 249,420.9 249.5,421.1 250,420.8 250.5,420.5 251,421 251.5,421.5 252,420.6 252.5,420.3 253,420.2 253.5,421.2 254,420.3 254.5,420.5 255,420.7 255.5,420.5 256,419.7 256.5,420.4 257,420.3 257.5,420.2 258,420.3 258.5,419.8 259,420 259.5,419.9 260,420.4 260.5,420 261,420.5 261.5,420.1 262,420.5 262.5,420.6 263,420.8 263.5,421 264,421 264.5,421.1 265,420.5 265.5,421.8 266,421.2 266.5,421.4 267,421.3 267.5,422 268,421.3 268.5,421.9 269,422.2 269.5,422.5 270,422.3 270.5,422.2 271,421.5 271.5,422.5 272,422.5 272.5,422.4 273,422.5 273.5,422.2 274,422 274.5,422.7 275,422.8 275.5,422 276,422.7 276.5,422.5 277,422.8 277.5,422.6 278,422.9 278.5,422.9 279,422.9 279.5,422 280,422.8 280.5,422.6 281,422.1 281.5,422.8 282,422.1 282.5,422.9 283,423.2 283.5,422.4 284,422.9 284.5,422.8 285,422.9 285.5,422.1 286,422.9 286.5,422.7 287,422.9 287.5,422.7 288,423.1 288.5,422.8 289,422.9 289.5,423.2 290,422.8 290.5,423.1 291,422.8 291.5,422.9 292,422.5 292.5,423 293,423.2 293.5,422.7 294,423 294.5,422.9 295,422.3 295.5,422.9 296,423.3 296.5,422.6 297,422.1 297.5,422.8 298,422.5 298.5,423.5 299,422.8 299.5,422.8 300,422.6 300.5,422.9 301,422.6 301.5,422.5 302,422.8" fill="none" stroke="#26c8d4" stroke-width="1.1" stroke-linejoin="round" />
<polyline points="42,419.3 42.5,418.9 43,419.8 43.5,418 44,418.9 44.5,417.3 45,417 45.5,416.2 46,410.1 46.5,401.2 47,384.8 47.4,372.4 47.5,373.5 48,391.7 48.5,405.6 49,412.4 49.5,416.9 50,418.6 50.5,420.3 51,421.8 51.5,422.8 52,422.3 52.5,423.1 53,423.2 53.5,423.5 54,423.8 54.5,424 55,423.8 55.5,423.8 56,424.4 56.5,424.8 57,425.3 57.5,424.7 58,424.9 58.5,425.3 59,425.4 59.5,425.1 60,425.2 60.5,426 61,425.2 61.5,425.1 62,424.7 62.5,425.5 63,425.3 63.5,426.1 64,425.3 64.5,425.8 65,425.8 65.5,426.1 66,425.1 66.5,426.2 67,425.6 67.5,425.6 68,425.6 68.5,425.6 69,425.7 69.5,425 70,426.1 70.5,426 71,425.7 71.5,426.1 72,427 72.5,426.3 73,426.1 73.5,426.9 74,426.1 74.5,426.3 75,426.2 75.5,426.4 76,426.8 76.5,426.8 77,426.3 77.5,426.6 78,426.7 78.5,426.5 79,426.7 79.5,426.5 80,426.5 80.5,426.8 81,426.3 81.5,426.9 82,426.6 82.5,426.3 83,426.4 83.5,426.4 84,426.5 84.5,426.6 85,426.4 85.5,426.1 86,426.9 86.5,426.6 87,426.2 87.5,426.5 88,426.2 88.5,425.9 89,425.9 89.5,426.8 90,426.1 90.5,426 91,425.4 91.5,425.7 92,426.2 92.5,425.5 93,425.6 93.5,425.6 94,425.3 94.5,425.6 95,425 95.5,425 96,424.5 96.5,425.6 97,424.7 97.5,424.5 98,424.9 98.5,424.1 99,424.1 99.5,423.7 100,423.9 100.5,423.6 101,423.8 101.5,423.4 102,423.1 102.5,423 103,422.9 103.5,422.5 104,422.7 104.5,422.3 105,421.8 105.5,421 106,421.3 106.5,420.2 107,420.2 107.5,419.3 108,417.3 108.5,414.8 109,412.9 109.5,412.3 110,409.7 110.5,407.6 111,405.5 111.5,402.1 112,398.3 112.5,394.1 113,392.8 113.5,396.1 114,398.1 114.5,400.9 115,404.6 115.5,408.2 116,409.5 116.5,410.7 117,411 117.5,411.4 118,411.2 118.5,410.4 119,409.2 119.5,407.2 120,406.7 120.5,404 121,401.8 121.5,399.4 122,395.7 122.5,394.1 123,393.5 123.5,395.8 124,398.6 124.5,401.1 125,403.2 125.5,403.8 126,403.9 126.5,404 127,403.5 127.5,401.7 128,401.3 128.5,399.8 129,398.8 129.5,396.4 130,396.1 130.5,395.1 131,395.6 131.5,396 132,396.4 132.5,396.6 133,397.1 133.5,397.7 134,398.7 134.5,400 135,401 135.5,401.6 136,402.2 136.5,402.6 137,402 137.5,403.1 138,404.2 138.5,405 139,406.4 139.5,406.7 140,405.8 140.5,404.1 141,401.9 141.5,398.2 142,394.9 142.5,390.6 143,385.5 143.5,384.8 144,386 144.5,389.1 145,391.9 145.5,395.1 146,399.9 146.5,403.5 147,408.4 147.5,410.6 148,410.9 148.5,411.3 149,412.1 149.5,412 150,412.4 150.5,412.8 151,412.1 151.5,411.9 152,411.5 152.5,411.1 153,410.7 153.5,410.2 154,410.1 154.5,408.6 155,408.4 155.5,407.8 156,406 156.5,404.8 157,402.7 157.5,399.5 158,394.2 158.5,386.4 159,373.1 159.5,356.4 160,335.9 160.5,317.4 161,300.1 161.4,293.7 161.5,294.2 162,307.7 162.5,328 163,351.6 163.5,372 164,388.7 164.5,400.6 165,408.6 165.5,414.4 166,417.7 166.5,419 167,420.4 167.5,421.2 168,423 168.5,423.3 169,423.8 169.5,424.3 170,424.5 170.5,425 171,425.9 171.5,426 172,426.4 172.5,426.6 173,425.9 173.5,426.5 174,426.9 174.5,427.2 175,425.8 175.5,425.8 176,426.3 176.5,425.9 177,425.5 177.5,425.9 178,425.3 178.5,424.7 179,425.4 179.5,425.4 180,425.5 180.5,425.6 181,425.4 181.5,425.2 182,425.1 182.5,424.7 183,425.2 183.5,425.7 184,425.6 184.5,426.2 185,425.4 185.5,424.8 186,425.8 186.5,425.9 187,425.1 187.5,425 188,425.7 188.5,425.9 189,425.3 189.5,425.6 190,425.5 190.5,425.4 191,425.4 191.5,426 192,425.9 192.5,425.8 193,425.1 193.5,426.8 194,425.9 194.5,426.2 195,425.9 195.5,426.5 196,425.9 196.5,426.5 197,426.4 197.5,426.9 198,426.2 198.5,426.4 199,426.6 199.5,427.5 200,426.3 200.5,427 201,426.7 201.5,427.1 202,427.3 202.5,427.1 203,427.2 203.5,427.3 204,427 204.5,427.2 205,426.7 205.5,427.2 206,427.1 206.5,427.3 207,427.7 207.5,427.6 208,427.7 208.5,427.9 209,426.7 209.5,427.8 210,427.6 210.5,427.6 211,427.2 211.5,427.9 212,428.1 212.5,428.1 213,427.7 213.5,428 214,428.1 214.5,428.5 215,428.3 215.5,427.9 216,427.9 216.5,428 217,428 217.5,427.8 218,428.3 218.5,427.8 219,427.8 219.5,428.2 220,427.9 220.5,428 221,427.4 221.5,428.4 222,428.2 222.5,428.2 223,428.4 223.5,428.3 224,428 224.5,429 225,428.1 225.5,428.7 226,429 226.5,428.1 227,428.4 227.5,428.1 228,428.8 228.5,428.3 229,428 229.5,428.9 230,428.8 230.5,428.1 231,428.9 231.5,428.5 232,429.4 232.5,429.1 233,428.3 233.5,428.4 234,428.1 234.5,428.5 235,428.5 235.5,428.7 236,428.5 236.5,427.9 237,428.1 237.5,428.9 238,428.7 238.5,428.2 239,428.2 239.5,428.2 240,428.2 240.5,427.5 241,428.4 241.5,427.8 242,428 242.5,427 243,427.9 243.5,428.3 244,426.9 244.5,428.2 245,427.8 245.5,427.3 246,426.9 246.5,427.9 247,427.5 247.5,427.6 248,427.2 248.5,426.9 249,427.5 249.5,426.8 250,427.4 250.5,426.4 251,426.6 251.5,426.4 252,427.3 252.5,426.1 253,426.2 253.5,426.8 254,426.6 254.5,427.2 255,427 255.5,426.5 256,426.4 256.5,425.5 257,425.8 257.5,426 258,426 258.5,425.6 259,425.8 259.5,425.9 260,426.7 260.5,426.5 261,426.4 261.5,426.5 262,426.8 262.5,426.6 263,426.9 263.5,426.5 264,427.5 264.5,427.7 265,427.6 265.5,427.7 266,427.7 266.5,428.4 267,427.8 267.5,427.3 268,427.4 268.5,428.1 269,428.3 269.5,428.2 270,428.3 270.5,428.1 271,427.6 271.5,427.9 272,427.5 272.5,428.1 273,427.8 273.5,428.4 274,428.3 274.5,427.7 275,428.7 275.5,428.7 276,428 276.5,428.6 277,428.8 277.5,428.5 278,428.9 278.5,428.7 279,429 279.5,428.7 280,428.6 280.5,428.8 281,428.9 281.5,428.7 282,428.5 282.5,428.3 283,428.5 283.5,428.4 284,428.7 284.5,428.7 285,428.6 285.5,428.7 286,428.7 286.5,429.2 287,429.1 287.5,428.5 288,428.8 288.5,428.6 289,428.6 289.5,428.6 290,428.5 290.5,428.2 291,427.8 291.5,428.8 292,429.1 292.5,428.4 293,428.9 293.5,428.6 294,428.8 294.5,428.4 295,428.6 295.5,428.7 296,427.9 296.5,428.8 297,428.7 297.5,427.8 298,429 298.5,428.7 299,428.8 299.5,428.9 300,428.6 300.5,428.3 301,428.6 301.5,428.6 302,429.6" fill="none" stroke="#3050f0" stroke-width="1.1" stroke-linejoin="round" />
<polyline points="42,426.2 42.5,425.5 43,425.1 43.5,425.9 44,425.1 44.5,423.6 45,422.6 45.5,421.2 46,416.8 46.5,407.5 47,391.7 47.4,381 47.5,382 48,398.1 48.5,412 49,418.4 49.5,422.9 50,425.2 50.5,426.5 51,428.1 51.5,428.3 52,429.6 52.5,429.9 53,429.7 53.5,430.5 54,431.2 54.5,430.1 55,431 55.5,431.8 56,430.7 56.5,431.3 57,430.9 57.5,431.5 58,430.7 58.5,431 59,431.5 59.5,431.8 60,431.9 60.5,432 61,432.3 61.5,432.1 62,432.2 62.5,431.6 63,431.9 63.5,433.2 64,432.9 64.5,432.4 65,432.4 65.5,432.5 66,432 66.5,432.9 67,432.1 67.5,432.3 68,433.2 68.5,431.6 69,432.6 69.5,431.9 70,432.4 70.5,432.6 71,432.6 71.5,432.9 72,432.6 72.5,432.9 73,432.6 73.5,432.9 74,432.6 74.5,433.4 75,432.8 75.5,433.6 76,433.2 76.5,433.3 77,433.9 77.5,433.5 78,432.8 78.5,433.7 79,432.5 79.5,433.7 80,433.4 80.5,433.1 81,433.6 81.5,433.5 82,434.3 82.5,433.4 83,434.2 83.5,434 84,433.2 84.5,433.1 85,433.8 85.5,433.2 86,433.2 86.5,433 87,432.6 87.5,432.8 88,432.5 88.5,432.3 89,432.6 89.5,433.3 90,433.2 90.5,432.5 91,432.5 91.5,432.6 92,432.8 92.5,432.3 93,431.9 93.5,431.9 94,432.4 94.5,432.9 95,431.6 95.5,431 96,432 96.5,431.5 97,431.5 97.5,431.8 98,431.3 98.5,430.7 99,430.3 99.5,430.9 100,430.4 100.5,430.8 101,430 101.5,430.2 102,429.6 102.5,429.8 103,429.6 103.5,429.7 104,429.7 104.5,428.8 105,428.2 105.5,428.9 106,427.9 106.5,427.6 107,427 107.5,426.5 108,424.6 108.5,421.9 109,420 109.5,417.7 110,416.1 110.5,414.1 111,411.5 111.5,408.1 112,403.9 112.5,400.1 113,398.3 113.5,399.5 114,403.8 114.5,406.8 115,409.9 115.5,413.8 116,415.9 116.5,416.4 117,416.1 117.5,416.6 118,416.8 118.5,417.2 119,415.1 119.5,413.8 120,411.8 120.5,410.3 121,408.1 121.5,403.9 122,400.4 122.5,399.4 123,398.6 123.5,400.2 124,403.9 124.5,406.8 125,407.2 125.5,409.1 126,410.1 126.5,409 127,408.2 127.5,407.6 128,406.1 128.5,404.4 129,403.1 129.5,401.5 130,401.4 130.5,400.3 131,401.5 131.5,400.7 132,401.7 132.5,401.5 133,402.4 133.5,403.7 134,404.7 134.5,405.9 135,406.3 135.5,407 136,407.5 136.5,408 137,408.1 137.5,409.5 138,410.3 138.5,411.7 139,412.5 139.5,413 140,412 140.5,410.3 141,407.1 141.5,404.2 142,400.9 142.5,396.4 143,390.6 143.5,391.3 144,391.8 144.5,395.2 145,398.3 145.5,400.3 146,405.5 146.5,410.8 147,413.1 147.5,416.6 148,416.6 148.5,417.3 149,418 149.5,417.5 150,418.4 150.5,418 151,417.9 151.5,418.3 152,419.1 152.5,417.6 153,417.3 153.5,416.7 154,416 154.5,415.9 155,415.7 155.5,414.2 156,413.2 156.5,411.2 157,410.2 157.5,404.8 158,400 158.5,391.6 159,378.1 159.5,361 160,340.5 160.5,323 161,306.1 161.4,300 161.5,300.5 162,314.5 162.5,334 163,355.3 163.5,375.2 164,391.8 164.5,405.9 165,414.2 165.5,420 166,423.4 166.5,425.9 167,426.9 167.5,427.3 168,428.9 168.5,429.7 169,430.4 169.5,430.5 170,431.2 170.5,431.3 171,432.2 171.5,432.4 172,432.1 172.5,432.2 173,432.8 173.5,433.4 174,433.4 174.5,433.1 175,431.9 175.5,432.8 176,432.6 176.5,432.6 177,432.1 177.5,432.2 178,432 178.5,433.1 179,432.3 179.5,431.8 180,431.9 180.5,431.8 181,432 181.5,431.7 182,431.9 182.5,432.3 183,432.3 183.5,432.1 184,432.5 184.5,432.1 185,431.7 185.5,431.4 186,431.8 186.5,432.1 187,432.3 187.5,432.6 188,432 188.5,432 189,432.6 189.5,432.8 190,432.2 190.5,432.6 191,433 191.5,432.7 192,432.6 192.5,431.9 193,433.2 193.5,433 194,432.9 194.5,432.7 195,432.5 195.5,433 196,433 196.5,433.5 197,432.7 197.5,433.8 198,433.3 198.5,433.8 199,433 199.5,433.6 200,434 200.5,433.6 201,433 201.5,433.5 202,433.9 202.5,433.2 203,433.3 203.5,433.9 204,433.5 204.5,434.2 205,433.5 205.5,433.3 206,433.8 206.5,434.7 207,433.8 207.5,434.2 208,434.3 208.5,433.9 209,434.7 209.5,434.4 210,434.5 210.5,433.7 211,433.7 211.5,433.3 212,434.3 212.5,434.3 213,434.7 213.5,435 214,434.4 214.5,434.4 215,434.7 215.5,435.1 216,434.3 216.5,434.8 217,434.5 217.5,434.5 218,435 218.5,434.4 219,434.3 219.5,435 220,434.7 220.5,434.7 221,434.7 221.5,435 222,434.7 222.5,435.1 223,435 223.5,435.4 224,435.4 224.5,435.2 225,434.9 225.5,435 226,434.7 226.5,436.1 227,434.9 227.5,435.2 228,435.5 228.5,434.5 229,434.7 229.5,434.9 230,434.7 230.5,434.6 231,434.9 231.5,435.6 232,435.4 232.5,435.1 233,435.1 233.5,434.5 234,435.4 234.5,435.2 235,434.7 235.5,435.1 236,435 236.5,434.8 237,434.6 237.5,434.7 238,434.6 238.5,435.1 239,435 239.5,434.9 240,434.7 240.5,434.5 241,435.4 241.5,433.9 242,435 242.5,434.6 243,434.4 243.5,434.1 244,434.2 244.5,433.8 245,433.6 245.5,434 246,433.4 246.5,434.3 247,434.3 247.5,432.5 248,433.1 248.5,433.8 249,433.7 249.5,433.6 250,433.6 250.5,433.7 251,433.7 251.5,434 252,433.2 252.5,433.5 253,432.4 253.5,432.9 254,432.4 254.5,433.3 255,433.6 255.5,432.9 256,432.1 256.5,432.5 257,432.5 257.5,432.6 258,432.9 258.5,432.9 259,431.5 259.5,433.1 260,432.5 260.5,432.6 261,433.4 261.5,432.9 262,432.6 262.5,432.8 263,433.4 263.5,433.9 264,434.2 264.5,433.7 265,433.7 265.5,434.5 266,433.8 266.5,434.6 267,434.2 267.5,434.2 268,434.1 268.5,434.4 269,434.1 269.5,434.1 270,434.4 270.5,434.2 271,434.6 271.5,434.6 272,434.5 272.5,434.6 273,434.6 273.5,435.4 274,434.8 274.5,434.6 275,434.7 275.5,435.1 276,434.8 276.5,434.8 277,434.8 277.5,435 278,435.1 278.5,435.1 279,434.4 279.5,434.6 280,434 280.5,435.3 281,435.4 281.5,435.5 282,435 282.5,435.4 283,435 283.5,434.9 284,434.4 284.5,434.7 285,434.8 285.5,435.3 286,435.6 286.5,434.8 287,435.1 287.5,435.1 288,434.7 288.5,434.3 289,434.7 289.5,434.4 290,434.9 290.5,434.9 291,434.9 291.5,434.9 292,435.2 292.5,434.6 293,435.3 293.5,434.4 294,435 294.5,435.1 295,434.7 295.5,434.4 296,435.2 296.5,434.7 297,435.3 297.5,435.3 298,435 298.5,435 299,435.4 299.5,435.1 300,434.6 300.5,435.1 301,435.2 301.5,435.1 302,435.1" fill="none" stroke="#a428d0" stroke-width="1.1" stroke-linejoin="round" />
<line x1="129.5" y1="251" x2="129.5" y2="438.5" stroke="#1b76cc" stroke-width="1.5" stroke-dasharray="1.25 1.25"/>
<rect x="41.5" y="247.3" width="261" height="192.2" fill="none" stroke="#262626" stroke-width="1"/>
<line x1="48.6" y1="440" x2="48.6" y2="443" stroke="#262626" stroke-width="1"/>
<text x="48.6" y="455.4" font-family='"Liberation Sans", sans-serif' font-size="12.4" fill="#111" font-weight="normal" font-style="normal" text-anchor="middle" stroke="#111" stroke-width="0.2">200</text>
<line x1="94.8" y1="440" x2="94.8" y2="443" stroke="#262626" stroke-width="1"/>
<text x="94.8" y="455.4" font-family='"Liberation Sans", sans-serif' font-size="12.4" fill="#111" font-weight="normal" font-style="normal" text-anchor="middle" stroke="#111" stroke-width="0.2">400</text>
<line x1="141" y1="440" x2="141" y2="443" stroke="#262626" stroke-width="1"/>
<text x="141" y="455.4" font-family='"Liberation Sans", sans-serif' font-size="12.4" fill="#111" font-weight="normal" font-style="normal" text-anchor="middle" stroke="#111" stroke-width="0.2">600</text>
<line x1="187.2" y1="440" x2="187.2" y2="443" stroke="#262626" stroke-width="1"/>
<text x="187.2" y="455.4" font-family='"Liberation Sans", sans-serif' font-size="12.4" fill="#111" font-weight="normal" font-style="normal" text-anchor="middle" stroke="#111" stroke-width="0.2">800</text>
<line x1="233.4" y1="440" x2="233.4" y2="443" stroke="#262626" stroke-width="1"/>
<text x="233.4" y="455.4" font-family='"Liberation Sans", sans-serif' font-size="12.4" fill="#111" font-weight="normal" font-style="normal" text-anchor="middle" stroke="#111" stroke-width="0.2">1000</text>
<line x1="279.6" y1="440" x2="279.6" y2="443" stroke="#262626" stroke-width="1"/>
<text x="279.6" y="455.4" font-family='"Liberation Sans", sans-serif' font-size="12.4" fill="#111" font-weight="normal" font-style="normal" text-anchor="middle" stroke="#111" stroke-width="0.2">1200</text>
<line x1="71.7" y1="440" x2="71.7" y2="441.7" stroke="#262626" stroke-width="0.8"/>
<line x1="117.9" y1="440" x2="117.9" y2="441.7" stroke="#262626" stroke-width="0.8"/>
<line x1="164.1" y1="440" x2="164.1" y2="441.7" stroke="#262626" stroke-width="0.8"/>
<line x1="210.3" y1="440" x2="210.3" y2="441.7" stroke="#262626" stroke-width="0.8"/>
<line x1="256.5" y1="440" x2="256.5" y2="441.7" stroke="#262626" stroke-width="0.8"/>
<text x="172.9" y="480.5" font-family='"Liberation Sans", sans-serif' font-size="16.4" fill="#111" stroke="#111" stroke-width="0.25" text-anchor="middle">Raman shift (cm<tspan dy="-7.2" font-size="9.5">-1</tspan><tspan dy="7.2">)</tspan></text>
<text x="28.3" y="342.4" font-family='"Liberation Sans", sans-serif' font-size="16.3" fill="#111" stroke="#111" stroke-width="0.25" text-anchor="middle" transform="rotate(-90 28.3 342.4)">Normalized Intensity</text>
<text x="-1.6" y="262.1" font-family='"Liberation Sans", sans-serif' font-size="21.5" fill="#000" font-weight="bold" font-style="normal" text-anchor="start" >b</text>
<text x="50.6" y="269.2" font-family='"Liberation Sans", sans-serif' font-size="15.5" font-weight="bold" fill="#000"><tspan dy="0">Co</tspan><tspan font-size="10.5" dy="4">2</tspan><tspan dy="-4">CrO</tspan><tspan font-size="10.5" dy="4">4</tspan></text>
<text x="44.5" y="308.8" font-family='"Liberation Serif", serif' font-size="16" fill="#111" text-anchor="start"><tspan font-style="italic">F</tspan><tspan font-size="10.3" dx="0" dy="4.4">2g</tspan></text>
<text x="95.9" y="355.1" font-family='"Liberation Serif", serif' font-size="16" fill="#111" text-anchor="start"><tspan font-style="italic">E</tspan><tspan font-size="10.3" dx="0" dy="4.0">g</tspan></text>
<text x="107.5" y="344.4" font-family='"Liberation Serif", serif' font-size="16" fill="#111" text-anchor="start"><tspan font-style="italic">F</tspan><tspan font-size="10.3" dx="0" dy="4.2">2g</tspan></text>
<text x="134.6" y="336.2" font-family='"Liberation Serif", serif' font-size="16" fill="#111" text-anchor="start"><tspan font-style="italic">F</tspan><tspan font-size="10.3" dx="0" dy="4.2">2g</tspan></text>
<text x="0" y="0" transform="translate(166.2 264.3) scale(0.88 1)" font-family='"Liberation Serif", serif' font-size="16" fill="#111" text-anchor="start"><tspan font-style="italic">A</tspan><tspan font-size="10.8" dx="1.0" dy="3.6">1g</tspan></text>
<line x1="236.1" y1="281.3" x2="259.8" y2="281.3" stroke="#f0208c" stroke-width="1.05"/>
<text x="263.6" y="285.1" font-family='"Liberation Sans", sans-serif' font-size="11" fill="#f0208c" font-weight="normal" font-style="normal" text-anchor="start" >1.0 V</text>
<line x1="236.1" y1="294.5" x2="259.8" y2="294.5" stroke="#f5863a" stroke-width="1.05"/>
<text x="263.6" y="298.3" font-family='"Liberation Sans", sans-serif' font-size="11" fill="#f5863a" font-weight="normal" font-style="normal" text-anchor="start" >1.1 V</text>
<line x1="236.1" y1="307.6" x2="259.8" y2="307.6" stroke="#e6d236" stroke-width="1.05"/>
<text x="263.6" y="311.4" font-family='"Liberation Sans", sans-serif' font-size="11" fill="#e6d236" font-weight="normal" font-style="normal" text-anchor="start" >1.2 V</text>
<line x1="236.1" y1="320.8" x2="259.8" y2="320.8" stroke="#9ee040" stroke-width="1.05"/>
<text x="263.6" y="324.6" font-family='"Liberation Sans", sans-serif' font-size="11" fill="#9ee040" font-weight="normal" font-style="normal" text-anchor="start" >1.3 V</text>
<line x1="236.1" y1="334" x2="259.8" y2="334" stroke="#26d49a" stroke-width="1.05"/>
<text x="263.6" y="337.8" font-family='"Liberation Sans", sans-serif' font-size="11" fill="#26d49a" font-weight="normal" font-style="normal" text-anchor="start" >1.4 V</text>
<line x1="236.1" y1="347.1" x2="259.8" y2="347.1" stroke="#26c8d4" stroke-width="1.05"/>
<text x="263.6" y="350.9" font-family='"Liberation Sans", sans-serif' font-size="11" fill="#26c8d4" font-weight="normal" font-style="normal" text-anchor="start" >1.45 V</text>
<line x1="236.1" y1="360.3" x2="259.8" y2="360.3" stroke="#3050f0" stroke-width="1.05"/>
<text x="263.6" y="364.1" font-family='"Liberation Sans", sans-serif' font-size="11" fill="#3050f0" font-weight="normal" font-style="normal" text-anchor="start" >1.5 V</text>
<line x1="236.1" y1="373.5" x2="259.8" y2="373.5" stroke="#a428d0" stroke-width="1.05"/>
<text x="263.6" y="377.3" font-family='"Liberation Sans", sans-serif' font-size="11" fill="#a428d0" font-weight="normal" font-style="normal" text-anchor="start" >1.55 V</text>
<defs><clipPath id="clipc"><rect x="457.5" y="1.5" width="149.5" height="193"/></clipPath></defs>
<g clip-path="url(#clipc)">
<polyline points="457,117 460.1,117.5 463.2,115.4 466.3,118.4 469.4,117.2 472.5,117.9 475.6,119.2 478.7,119.2 481.8,119.3 484.9,112.4 488,109.4 491.1,107.9 494.2,97.4 497.3,89.9 500.4,79.8 503.5,78 506.6,73.7 509.7,64.4 512.8,63.3 515.9,60.2 519,58.8 522.1,55.2 525.2,56.8 528.3,52.2 531.4,53.6 534.5,46.1 536.5,44 540.3,40 542.7,38.5 544.7,30 547.1,28.5 549.8,21.6 551.3,16.1 554.5,16.1 557.6,9.8 559.2,14.5 560.3,18.8 562.5,23.5 564.3,27.9 565.8,38 568.8,53.2 572,75 578,105 585,135 595,160 601,172 607,186" fill="none" stroke="#f0188c" stroke-width="1.7" stroke-linejoin="round" />
<polyline points="457,119.5 460.1,121.8 463.2,121.4 466.3,122.6 469.4,124.7 472.5,124.8 475.6,126.8 478.7,129.6 481.8,120.8 484.9,114.9 488,106.7 491.1,105 494.2,100.5 497.3,87.4 500.4,81.4 503.5,81.8 506.6,75.6 509.7,69.6 512.8,66.5 515.9,63.5 519,59.8 522.1,57.5 525.2,53.8 528.3,55.7 531.4,52.9 534.5,50.6 537,46 542.7,39.6 545.4,34.9 548.2,31.8 550.1,22.4 551.7,18.8 554.1,18.8 557.6,16.1 558.8,18.5 561.9,24.7 563.9,31 565.4,39.6 568,52 572,77 578,106 584,133 590.5,160 597,172 603.7,183.5 607.5,188.1" fill="none" stroke="#ff4848" stroke-width="1.7" stroke-linejoin="round" />
<polyline points="457,120.9 460.1,121.6 463.2,122.7 466.3,123.9 469.4,124.6 472.5,124.9 475.6,121.4 478.7,120.1 481.8,118.3 484.9,114.7 488,110.5 491.1,105.1 494.2,99.6 497.3,93.8 500.4,87 503.5,80.6 506.6,75.4 509.7,70.1 512.8,64.6 515.9,60.4 519,56.9 522.1,55.5 525.2,53.9 528.3,50.4 531.4,46.6 534.5,43 537.6,40 540.7,35.7 543.8,31.7 546.9,26.5 550,23.3 553.1,21 556.2,19.7 559.3,18.7 562.4,22.9 565.5,37.3 568.6,52.6 571.7,72.7 574.8,89.5 577.9,103.7 581,117.3 584.1,130.1 587.2,139.6 590.3,146.7 593.4,154.4 596.5,161.5 599.6,168.6 602.7,175.7 605.8,182" fill="none" stroke="#f5853a" stroke-width="1.7" stroke-linejoin="round" />
<polyline points="457,126.3 460.1,117.3 463.2,120.8 466.3,117.3 469.4,118.9 472.5,118.8 475.6,115.7 478.7,118.7 481.8,113.4 484.9,111.5 488,108.7 491.1,105.8 494.2,98.5 497.3,97.1 500.4,88 503.5,81.9 506.6,78.7 509.7,74.2 512.8,67.5 515.9,63.2 519,62.2 522.1,62.4 525.2,57.7 528.3,55.3 532,52 535,53.9 539.1,63.7 545.3,49.7 548.4,53.4 555.1,40.5 559.7,44.1 564.9,46.6 567.5,60 572,86 578,110 585,135 595,155 601,165 607,170" fill="none" stroke="#9ee43c" stroke-width="1.7" stroke-linejoin="round" />
<polyline points="457.7,117 460,108.7 462,116.8 469.9,126.2 473.2,121.7 479.3,113 482.2,114.4 485.5,108 491.3,108.9 494,93.9 499,84.5 503,83 507.4,76.2 511.5,80.6 515.6,75.7 520.8,68.3 525,72 528,65.4 532.7,63.1 535,61.9 539.1,69.4 545.3,56.2 548.4,58.4 551.5,57.3 554.6,61.3 557.2,52.3 560.8,36.9 562.8,46 565.9,57.6 571.9,80 575.5,104.2 579.3,120.8 584.3,131.6 590.5,150.6 595.1,154.2 599.8,167.1 602.9,169.9 605.2,166.2 607.5,166.5" fill="none" stroke="#14d214" stroke-width="1.7" stroke-linejoin="round" />
<polyline points="457.7,117.9 460,116.1 465.7,119.6 469.4,113.5 472.7,121.2 478.9,113.5 482.2,126.5 485.5,107.2 489.7,107.4 493.8,100.5 497.9,105.5 502.2,93.6 507.4,89.7 510.5,80.9 515.6,86 518.7,77.7 522.8,81.7 527,71.1 531.1,79.1 535,73.7 538.6,74 542.2,67.3 547.4,73.2 552,64.4 554.6,63.4 557.2,53.6 560.8,55 563.4,58.3 567,67.3 570.1,74.1 573.9,91.2 577,106.9 581.2,124.8 589.7,153 595,160 601.3,170.1 604.4,173 607.5,171" fill="none" stroke="#1ed29a" stroke-width="1.7" stroke-linejoin="round" />
<polyline points="457.7,127.9 460.4,128.3 463.3,125.8 467.4,126.2 471.5,130 474.8,130.7 478.9,134.5 482.1,139.4 485.5,132.4 488.8,123 491.7,133.4 494.6,110.8 497.9,122.1 501.2,108.3 504.5,111.7 506.3,117.8 510.5,106.1 515.6,103.6 519.7,94.7 523.9,102 527,95.8 532.1,104.9 535,100.7 538.9,94 543,102.3 548.1,95.8 554.3,81.9 558.5,84 564.6,81.8 568.8,99.3 572.9,114.3 578,129.5 582.2,136.9 588,155.2 593.6,172.3 596.7,174.1 602,175 607.5,172.4" fill="none" stroke="#1ec8d2" stroke-width="1.7" stroke-linejoin="round" />
<polyline points="457.3,137.7 462,137.7 466.3,136.5 470,138.6 477.6,140.3 482.2,133.7 485.5,127.4 489,132.5 494.6,124.4 497.9,131 502.2,114.1 506.3,120.1 510.5,112.3 514.6,110.5 521.8,111.8 527.4,110.2 530,110.5 535,107.8 537.6,108.4 542,108.5 545.5,101.4 551.2,104.7 556,97.9 560.1,96.5 566.9,99.2 572.6,114.7 575.5,125.5 579.6,141.7 585.8,157.9 590.5,169.7 595.1,175.3 598.2,169.6 602.1,178.7 607.5,173.4" fill="none" stroke="#2848ff" stroke-width="1.7" stroke-linejoin="round" />
<polyline points="457.3,140.7 459.9,139.5 463,140.4 466.8,143 469.8,142.7 473.6,141.9 476.7,144.6 479.7,147.3 482.8,144.7 485.9,143.2 488.9,149 491.5,141 493.4,135.3 495,128.7 498.1,122.3 501.2,137 504.3,126.1 507,126.1 509.4,124.5 513.8,124.5 517.7,114.2 520.8,117.7 524,119.6 526.3,122.1 530.8,114.7 535,116.3 541,113.6 546.7,118.6 552,109.9 556.8,103.5 560.1,101.7 564.7,105.1 568.1,112.8 572.6,125.5 576.5,133.7 581.2,147.2 587.4,162.1 592,169.9 594.4,169.4 598.2,165.4 602.1,181 605.2,177.3 607.8,174" fill="none" stroke="#7818e0" stroke-width="1.7" stroke-linejoin="round" />
</g>
<path d="M555,19.5 L558.1,19.5 L561.6,86.2 L565.4,81.3 L560.7,95.5 L554.1,82 L558.2,86.6 Z" fill="#9638ff" fill-opacity="0.85"/>
<rect x="457.5" y="1.5" width="149.5" height="193" fill="none" stroke="#262626" stroke-width="1"/>
<line x1="482.9" y1="195" x2="482.9" y2="198" stroke="#262626" stroke-width="1"/>
<text x="482.9" y="210.4" font-family='"Liberation Sans", sans-serif' font-size="12.5" fill="#111" font-weight="normal" font-style="normal" text-anchor="middle" stroke="#111" stroke-width="0.2">660</text>
<line x1="535.3" y1="195" x2="535.3" y2="198" stroke="#262626" stroke-width="1"/>
<text x="535.3" y="210.4" font-family='"Liberation Sans", sans-serif' font-size="12.5" fill="#111" font-weight="normal" font-style="normal" text-anchor="middle" stroke="#111" stroke-width="0.2">680</text>
<line x1="587.7" y1="195" x2="587.7" y2="198" stroke="#262626" stroke-width="1"/>
<text x="587.7" y="210.4" font-family='"Liberation Sans", sans-serif' font-size="12.5" fill="#111" font-weight="normal" font-style="normal" text-anchor="middle" stroke="#111" stroke-width="0.2">700</text>
<line x1="509.1" y1="195" x2="509.1" y2="196.7" stroke="#262626" stroke-width="0.8"/>
<line x1="561.5" y1="195" x2="561.5" y2="196.7" stroke="#262626" stroke-width="0.8"/>
<text x="531.8" y="235.9" font-family='"Liberation Sans", sans-serif' font-size="16.4" fill="#111" stroke="#111" stroke-width="0.25" text-anchor="middle">Raman shift (cm<tspan dy="-7.2" font-size="9.5">-1</tspan><tspan dy="7.2">)</tspan></text>
<text x="443.8" y="97.4" font-family='"Liberation Sans", sans-serif' font-size="16.3" fill="#111" stroke="#111" stroke-width="0.25" text-anchor="middle" transform="rotate(-90 443.8 97.4)">Normalized Intensity</text>
<text x="395.5" y="12.7" font-family='"Liberation Sans", sans-serif' font-size="21.5" fill="#000" font-weight="bold" font-style="normal" text-anchor="start" >c</text>
<text x="468.3" y="18.2" font-family='"Liberation Sans", sans-serif' font-size="15.5" font-weight="bold" fill="#000"><tspan dy="0">CoCr</tspan><tspan font-size="10.5" dy="4">2</tspan><tspan dy="-4">O</tspan><tspan font-size="10.5" dy="4">4</tspan></text>
<text x="0" y="0" transform="translate(567.4 22.5) scale(0.88 1)" font-family='"Liberation Serif", serif' font-size="19" fill="#111" text-anchor="start"><tspan font-style="italic">A</tspan><tspan font-size="12.8" dx="1.2" dy="4.0">1g</tspan></text>
<line x1="617" y1="59.4" x2="643" y2="59.4" stroke="#f0188c" stroke-width="1.7"/>
<text x="647.4" y="63.4" font-family='"Liberation Sans", sans-serif' font-size="11.5" fill="#f0188c" font-weight="normal" font-style="normal" text-anchor="start" >1.0 V</text>
<line x1="617" y1="73.8" x2="643" y2="73.8" stroke="#ff4848" stroke-width="1.7"/>
<text x="647.4" y="77.8" font-family='"Liberation Sans", sans-serif' font-size="11.5" fill="#ff4848" font-weight="normal" font-style="normal" text-anchor="start" >1.1 V</text>
<line x1="617" y1="88.2" x2="643" y2="88.2" stroke="#f5853a" stroke-width="1.7"/>
<text x="647.4" y="92.2" font-family='"Liberation Sans", sans-serif' font-size="11.5" fill="#f5853a" font-weight="normal" font-style="normal" text-anchor="start" >1.2 V</text>
<line x1="617" y1="102.7" x2="643" y2="102.7" stroke="#9ee43c" stroke-width="1.7"/>
<text x="647.4" y="106.7" font-family='"Liberation Sans", sans-serif' font-size="11.5" fill="#9ee43c" font-weight="normal" font-style="normal" text-anchor="start" >1.4 V</text>
<line x1="617" y1="117.1" x2="643" y2="117.1" stroke="#14d214" stroke-width="1.7"/>
<text x="647.4" y="121.1" font-family='"Liberation Sans", sans-serif' font-size="11.5" fill="#14d214" font-weight="normal" font-style="normal" text-anchor="start" >1.45 V</text>
<line x1="617" y1="131.5" x2="643" y2="131.5" stroke="#1ed29a" stroke-width="1.7"/>
<text x="647.4" y="135.5" font-family='"Liberation Sans", sans-serif' font-size="11.5" fill="#1ed29a" font-weight="normal" font-style="normal" text-anchor="start" >1.5 V</text>
<line x1="617" y1="145.9" x2="643" y2="145.9" stroke="#1ec8d2" stroke-width="1.7"/>
<text x="647.4" y="149.9" font-family='"Liberation Sans", sans-serif' font-size="11.5" fill="#1ec8d2" font-weight="normal" font-style="normal" text-anchor="start" >1.55 V</text>
<line x1="617" y1="160.3" x2="643" y2="160.3" stroke="#2848ff" stroke-width="1.7"/>
<text x="647.4" y="164.3" font-family='"Liberation Sans", sans-serif' font-size="11.5" fill="#2848ff" font-weight="normal" font-style="normal" text-anchor="start" >1.57 V</text>
<line x1="617" y1="174.8" x2="643" y2="174.8" stroke="#7818e0" stroke-width="1.7"/>
<text x="647.4" y="178.8" font-family='"Liberation Sans", sans-serif' font-size="11.5" fill="#7818e0" font-weight="normal" font-style="normal" text-anchor="start" >1.59 V</text>
<polyline points="421,427.4 421.5,426.7 422,427 422.5,426.3 423,426.9 423.5,426.5 424,427.9 424.5,426.2 425,426.1 425.5,426.7 426,426.6 426.5,425.1 427,425.8 427.5,425.8 428,424.1 428.5,422.9 429,419.8 429.5,414.9 430,407.8 430.5,396.4 431,381.4 431.5,365.8 432,350.5 432.4,343.5 432.5,344.1 433,356 433.5,372.6 434,387.8 434.5,402.2 435,410.7 435.5,415.9 436,419.1 436.5,421.5 437,423.7 437.5,423.5 438,424.2 438.5,424.8 439,425.6 439.5,425.9 440,426.4 440.5,426 441,427.1 441.5,427.4 442,427.8 442.5,428.4 443,428 443.5,429.3 444,429.6 444.5,429.3 445,430 445.5,430.9 446,430.3 446.5,430.9 447,430.8 447.5,430.7 448,430.8 448.5,431.2 449,432 449.5,432 450,431.5 450.5,432.4 451,432 451.5,431.9 452,432.5 452.5,432.1 453,431.9 453.5,433.1 454,432 454.5,433 455,432.2 455.5,432.9 456,432.9 456.5,432.8 457,432.1 457.5,433 458,433 458.5,432.7 459,433 459.5,433.5 460,432.8 460.5,433.2 461,432.6 461.5,433.3 462,433.4 462.5,434.1 463,433.5 463.5,433.3 464,433.7 464.5,432.8 465,433.6 465.5,433 466,433 466.5,433.7 467,433.3 467.5,433.8 468,432.7 468.5,433.4 469,433.1 469.5,433.2 470,432.5 470.5,433.7 471,433.4 471.5,432.9 472,432.8 472.5,433 473,433.9 473.5,433.3 474,433.2 474.5,433.6 475,433.4 475.5,433.5 476,433.7 476.5,433.5 477,433.7 477.5,432.9 478,433.4 478.5,433.3 479,433.5 479.5,433.4 480,433.2 480.5,433.3 481,433.8 481.5,433.2 482,433 482.5,433.7 483,433.8 483.5,433.4 484,433.5 484.5,433.1 485,433.4 485.5,433.9 486,433.8 486.5,433.5 487,433.4 487.5,432.8 488,433.6 488.5,433.7 489,433.9 489.5,434.3 490,433.6 490.5,433.9 491,433.1 491.5,434 492,433.8 492.5,434 493,433.8 493.5,433.7 494,434.1 494.5,433.2 495,433.7 495.5,433.9 496,433.1 496.5,433 497,433.5 497.5,433.4 498,433.5 498.5,433.4 499,432.8 499.5,433.2 500,433.4 500.5,432.7 501,432.7 501.5,432.2 502,432.9 502.5,433.2 503,431.8 503.5,432.5 504,432.5 504.5,431.8 505,431.8 505.5,431.4 506,431.4 506.5,431.7 507,431.7 507.5,431.4 508,431.6 508.5,431.3 509,430.6 509.5,431.6 510,431.4 510.5,430.5 511,431.4 511.5,430.8 512,430.6 512.5,431.3 513,429.5 513.5,429.7 514,430.6 514.5,430.1 515,429.8 515.5,430.7 516,430.2 516.5,429.5 517,429.6 517.5,430.2 518,430.5 518.5,428.9 519,429.7 519.5,429.4 520,428.8 520.5,429.4 521,428.7 521.5,429.1 522,429.9 522.5,429.4 523,429.4 523.5,429.2 524,429.1 524.5,429.2 525,428.3 525.5,428.5 526,428.9 526.5,428.2 527,428.2 527.5,428.8 528,428.8 528.5,427.8 529,427.7 529.5,428.1 530,427.8 530.5,427.4 531,427.7 531.5,427.6 532,427.2 532.5,428.2 533,427.5 533.5,427.1 534,427 534.5,427.5 535,426.5 535.5,425.6 536,425.7 536.5,425.3 537,424.7 537.5,424.7 538,424.4 538.5,423.8 539,423.3 539.5,423.3 540,421.9 540.5,422.2 541,421.2 541.5,420.5 542,418.6 542.5,419.2 543,416.9 543.5,416.2 544,415.7 544.5,414.1 545,413.1 545.5,411.2 546,410.5 546.5,409.3 547,408 547.5,406.2 548,405.1 548.5,403.9 549,402.2 549.5,401 550,401.3 550.5,400 551,401.6 551.5,402.6 552,404.9 552.5,405.8 553,407.9 553.5,409.7 554,411.3 554.5,413.1 555,414.3 555.5,416.3 556,417.8 556.5,419.6 557,420.2 557.5,420.2 558,420.5 558.5,420.5 559,420 559.5,420.6 560,419.9 560.5,419.7 561,418.7 561.5,418.3 562,418.1 562.5,416.2 563,415.9 563.5,414.5 564,412.7 564.5,411 565,408.5 565.5,407.1 566,404.9 566.5,403 567,402.3 567.5,400.3 568,399.6 568.5,401.6 569,402.4 569.5,403 570,406 570.5,408.1 571,409.6 571.5,411.5 572,412 572.5,413.5 573,413.7 573.5,414.5 574,414.9 574.5,414.2 575,413.7 575.5,412.3 576,412.3 576.5,411.3 577,411.5 577.5,410.3 578,410.2 578.5,409.1 579,409.7 579.5,407.9 580,407.8 580.5,408.2 581,406.7 581.5,405.7 582,405.8 582.5,405.6 583,405.3 583.5,404.1 584,404.9 584.5,404.2 585,406.1 585.5,405.8 586,406 586.5,406.9 587,407.2 587.5,406.9 588,408.3 588.5,407.9 589,407.7 589.5,409.3 590,409.7 590.5,409.9 591,410 591.5,409.9 592,411.2 592.5,412.1 593,412.2 593.5,413.1 594,412.6 594.5,413.9 595,414.3 595.5,413.7 596,414 596.5,414.6 597,415 597.5,415.1 598,414.3 598.5,413.4 599,412 599.5,410.4 600,408.8 600.5,406.9 601,405 601.5,403.4 602,401.2 602.5,399.7 603,397 603.5,395.7 604,392.2 604.5,388.9 605,385.4 605.5,383.8 606,384.1 606.5,385.6 607,387.9 607.5,390.8 608,394.6 608.5,397.6 609,400.3 609.5,403.4 610,405.5 610.5,407.3 611,410 611.5,411 612,412.9 612.5,415.4 613,416.6 613.5,417.2 614,417.9 614.5,418.4 615,417.7 615.5,418.5 616,418.1 616.5,418.8 617,417.5 617.5,418.1 618,417.3 618.5,417.7 619,416.5 619.5,416.7 620,415.7 620.5,415 621,414.7 621.5,414.4 622,413.8 622.5,413.7 623,412.9 623.5,411 624,411.4 624.5,410.2 625,410.3 625.5,410.1 626,408.7 626.5,408.1 627,407.9 627.5,407 628,406.9 628.5,405.5 629,404.4 629.5,403.2 630,399 630.5,394.3 631,388.6 631.5,383.9 632,378.5 632.5,372.6 633,366.1 633.5,359.3 634,350.5 634.5,339.5 635,327.4 635.5,316.4 636,305.7 636.5,293.3 637,276.5 637.5,256.9 637.6,256 638,267.2 638.5,286.7 639,302.3 639.5,316.2 640,332.1 640.5,349.4 641,366.3 641.5,379.6 642,390.4 642.5,399.8 643,410.5 643.5,417.6 644,420.3 644.5,422.5 645,423.9 645.5,425.7 646,426.5 646.5,427.4 647,427.9 647.5,428.7 648,428.4 648.5,430 649,429.9 649.5,430.3 650,430.7 650.5,431.1 651,431.2 651.5,431.2 652,431.3 652.5,430.9 653,431.8 653.5,431.7 654,431.9 654.5,433.2 655,431.6 655.5,432.5 656,433.1 656.5,433.1 657,433.3 657.5,432.4 658,432.6 658.5,433.3 659,432.9 659.5,433.7 660,433.1 660.5,433.1 661,433.1 661.5,432.8 662,432.9 662.5,432.5 663,432.6 663.5,432.4 664,432.6 664.5,431.8 665,431.7 665.5,432.4 666,432.3 666.5,431.7 667,432 667.5,431.6 668,432.8 668.5,431.4 669,432.7 669.5,431.7 670,432.2 670.5,432 671,431.9 671.5,432.5 672,432.5 672.5,432.1 673,431.8 673.5,433.1 674,432.8 674.5,432.4 675,432.3 675.5,432.5 676,432.5 676.5,433 677,432.2 677.5,432.7 678,432.5 678.5,433.4 679,433.7 679.5,433 680,433.3 680.5,433.8 681,433.2 681.5,433.1 682,434 682.5,433.9 683,433.7" fill="none" stroke="#f59642" stroke-width="1.0" stroke-linejoin="round" />
<polyline points="421,422 421.5,422.9 422,422 422.5,421.8 423,422.1 423.5,421.9 424,421.1 424.5,421.7 425,421.4 425.5,422 426,422.3 426.5,420.4 427,420.1 427.5,419.7 428,418.7 428.5,416.6 429,414.1 429.5,409.1 430,399.5 430.5,385.7 431,369.2 431.5,354.7 432,340.8 432.4,333.6 432.5,334.1 433,346.1 433.5,361.1 434,376.9 434.5,392.9 435,403.8 435.5,410.4 436,414.2 436.5,418.2 437,419 437.5,419.2 438,419.9 438.5,419.8 439,421 439.5,422 440,421.4 440.5,423 441,424.2 441.5,424.1 442,424.2 442.5,425.2 443,426.2 443.5,426.6 444,427.5 444.5,428.6 445,429 445.5,429.7 446,429.1 446.5,430.8 447,430.6 447.5,430.7 448,430.2 448.5,431.5 449,430.7 449.5,431.8 450,431.5 450.5,430.7 451,431 451.5,432.2 452,431.9 452.5,431.4 453,431.7 453.5,431.7 454,431.4 454.5,431.7 455,431.5 455.5,431.7 456,432.1 456.5,431.5 457,432.3 457.5,432 458,432.3 458.5,432.4 459,432.5 459.5,432.3 460,432.3 460.5,431.9 461,432.2 461.5,431.6 462,431.9 462.5,432.3 463,432 463.5,432.2 464,431.5 464.5,432.6 465,431.7 465.5,432.2 466,432 466.5,432.4 467,431.8 467.5,431.6 468,431.1 468.5,431.9 469,431.5 469.5,432.3 470,432.7 470.5,431 471,431.4 471.5,432.2 472,432.6 472.5,432.2 473,432.2 473.5,432.3 474,432.3 474.5,432.8 475,432.3 475.5,431.5 476,431.8 476.5,432.2 477,431.7 477.5,432 478,431.9 478.5,431.8 479,432.4 479.5,432 480,431.7 480.5,431.9 481,432.2 481.5,433.2 482,432.4 482.5,432.9 483,432.5 483.5,431.3 484,432.5 484.5,432 485,431.8 485.5,431.9 486,433.2 486.5,431.7 487,432.2 487.5,433 488,432.8 488.5,431.7 489,432.5 489.5,432.3 490,432.5 490.5,432.9 491,432.3 491.5,432.5 492,433.3 492.5,431.8 493,432.5 493.5,432.9 494,432.1 494.5,432.4 495,432 495.5,432.7 496,432.3 496.5,432.9 497,432.9 497.5,432.4 498,432.2 498.5,432.4 499,432.2 499.5,431.6 500,432.5 500.5,432 501,432.2 501.5,431.1 502,432 502.5,432.4 503,431.6 503.5,430.6 504,431.1 504.5,431 505,431 505.5,430.6 506,430.9 506.5,430.3 507,430.5 507.5,430 508,430.2 508.5,430.6 509,429.8 509.5,430.2 510,429.4 510.5,429.6 511,429.6 511.5,430.2 512,429.2 512.5,430 513,428.8 513.5,429.3 514,429.7 514.5,429.6 515,428.7 515.5,428.6 516,429.5 516.5,428.4 517,429.2 517.5,428.6 518,428.8 518.5,429.7 519,429.3 519.5,428.9 520,427.8 520.5,428.5 521,428.2 521.5,428 522,428.6 522.5,427 523,427.8 523.5,427.6 524,427.1 524.5,428.1 525,426.6 525.5,427.1 526,427 526.5,425.9 527,426.1 527.5,426.2 528,426.9 528.5,426.9 529,426.6 529.5,426.4 530,425.1 530.5,426.1 531,425.6 531.5,426.2 532,426.1 532.5,426.3 533,425.4 533.5,425.3 534,424.1 534.5,424.4 535,423.4 535.5,424.1 536,422.7 536.5,422.7 537,422 537.5,421.7 538,421.6 538.5,420.6 539,420.4 539.5,419.2 540,419.5 540.5,417.7 541,417.5 541.5,416.8 542,413.5 542.5,412.7 543,411.6 543.5,410.7 544,408.3 544.5,407.1 545,404.8 545.5,403.6 546,400.5 546.5,399 547,394.8 547.5,393.2 548,392.7 548.5,389.6 549,387 549.5,386.8 550,385.4 550.5,385.9 551,386.6 551.5,389.1 552,391.4 552.5,392.9 553,397.6 553.5,401.1 554,404.7 554.5,406.2 555,406.4 555.5,407.4 556,408.6 556.5,409.5 557,409.5 557.5,409.8 558,410 558.5,409.7 559,409.6 559.5,408.7 560,407.6 560.5,406.7 561,407.2 561.5,406 562,405.1 562.5,404.2 563,402.6 563.5,401.9 564,399.2 564.5,398.1 565,395.7 565.5,394.9 566,392.1 566.5,389.3 567,387.4 567.5,386.2 568,385.5 568.5,387.3 569,389.6 569.5,393.2 570,394 570.5,395 571,397.9 571.5,399.9 572,399.5 572.5,402.7 573,402 573.5,403.4 574,403.2 574.5,403.6 575,403 575.5,402.4 576,400.9 576.5,401.2 577,398.9 577.5,398.3 578,397.2 578.5,395.6 579,394.7 579.5,393.3 580,391.8 580.5,390.8 581,389.7 581.5,388.3 582,387.5 582.5,387.4 583,387.9 583.5,388.7 584,389 584.5,388.8 585,389.5 585.5,389.5 586,390.4 586.5,390.4 587,391.1 587.5,391.4 588,392.2 588.5,393.8 589,393.2 589.5,394.7 590,395.1 590.5,396.1 591,396.8 591.5,396.1 592,395.2 592.5,397 593,397.4 593.5,396.7 594,397.8 594.5,398.4 595,397.9 595.5,399.9 596,400.5 596.5,401.5 597,402.1 597.5,403.4 598,404.3 598.5,405 599,403.6 599.5,403.2 600,400.6 600.5,397.1 601,396.8 601.5,394 602,391.5 602.5,389.4 603,385.9 603.5,383.4 604,377.8 604.5,374 605,371.5 605.5,369.3 606,368.7 606.5,370.1 607,373.7 607.5,376.7 608,380.4 608.5,384.1 609,386.6 609.5,391.3 610,393.3 610.5,397.4 611,398.4 611.5,401.1 612,403.2 612.5,405.7 613,407.4 613.5,408.5 614,409.5 614.5,409.9 615,409.9 615.5,409.2 616,409.2 616.5,409.3 617,410.4 617.5,410.4 618,410.5 618.5,410.6 619,410.3 619.5,409.9 620,409.5 620.5,409.2 621,410.5 621.5,410.2 622,408.9 622.5,409 623,408.8 623.5,408.5 624,406.6 624.5,406 625,405.6 625.5,403.4 626,403.1 626.5,402.7 627,401.6 627.5,402.1 628,400.5 628.5,399.1 629,397.1 629.5,396 630,393.4 630.5,389.6 631,384.8 631.5,378.5 632,373.8 632.5,369.8 633,365.2 633.5,358.8 634,349.4 634.5,337.4 635,324.6 635.5,314.5 636,304.8 636.5,291 637,274.3 637.5,254.3 637.6,253.3 638,265 638.5,284.4 639,300.2 639.5,314.9 640,329.8 640.5,347 641,364.1 641.5,377.2 642,392 642.5,400.6 643,408 643.5,412.7 644,416.6 644.5,419.6 645,420.6 645.5,422 646,424.1 646.5,424.9 647,425.9 647.5,426.3 648,427.5 648.5,427.9 649,427.3 649.5,428.6 650,429.2 650.5,429.8 651,429.3 651.5,429.4 652,430.5 652.5,429.9 653,430.5 653.5,430.8 654,431.1 654.5,430.9 655,430.4 655.5,431.5 656,430.8 656.5,430.8 657,431.9 657.5,431.4 658,430.5 658.5,430.7 659,430.8 659.5,430.6 660,430 660.5,431.2 661,431.2 661.5,430.9 662,430.6 662.5,430.8 663,431 663.5,430.2 664,430.5 664.5,430.4 665,430.9 665.5,430.7 666,429.9 666.5,430.2 667,431.3 667.5,430.1 668,430.6 668.5,430.2 669,431.1 669.5,430.5 670,430.3 670.5,430 671,430.5 671.5,431 672,431 672.5,430.1 673,431.5 673.5,430.7 674,430.4 674.5,431 675,430.7 675.5,430.8 676,430.9 676.5,431.2 677,431.1 677.5,430.6 678,431.8 678.5,431.4 679,432.3 679.5,432.1 680,432.2 680.5,432.1 681,432.7 681.5,432.1 682,431.9 682.5,432.6 683,431.3" fill="none" stroke="#a41ed8" stroke-width="1.1" stroke-linejoin="round" />
<path d="M582.9,418.5 L586,418.5 L586,402.2 L588.1,402.2 L583.6,394.6 L580.3,402.2 L582.9,402.2 Z" fill="#ff4858" fill-opacity="0.82"/>
<rect x="420.5" y="246.3" width="263.4" height="193.2" fill="none" stroke="#262626" stroke-width="1"/>
<line x1="433.4" y1="440" x2="433.4" y2="443" stroke="#262626" stroke-width="1"/>
<text x="433.4" y="456.2" font-family='"Liberation Sans", sans-serif' font-size="12.4" fill="#111" font-weight="normal" font-style="normal" text-anchor="middle" stroke="#111" stroke-width="0.2">200</text>
<line x1="517" y1="440" x2="517" y2="443" stroke="#262626" stroke-width="1"/>
<text x="517" y="456.2" font-family='"Liberation Sans", sans-serif' font-size="12.4" fill="#111" font-weight="normal" font-style="normal" text-anchor="middle" stroke="#111" stroke-width="0.2">400</text>
<line x1="600.6" y1="440" x2="600.6" y2="443" stroke="#262626" stroke-width="1"/>
<text x="600.6" y="456.2" font-family='"Liberation Sans", sans-serif' font-size="12.4" fill="#111" font-weight="normal" font-style="normal" text-anchor="middle" stroke="#111" stroke-width="0.2">600</text>
<line x1="475.2" y1="440" x2="475.2" y2="441.7" stroke="#262626" stroke-width="0.8"/>
<line x1="558.8" y1="440" x2="558.8" y2="441.7" stroke="#262626" stroke-width="0.8"/>
<line x1="642.4" y1="440" x2="642.4" y2="441.7" stroke="#262626" stroke-width="0.8"/>
<text x="552.5" y="480.6" font-family='"Liberation Sans", sans-serif' font-size="16.4" fill="#111" stroke="#111" stroke-width="0.25" text-anchor="middle">Raman shift (cm<tspan dy="-7.2" font-size="9.5">-1</tspan><tspan dy="7.2">)</tspan></text>
<text x="406.9" y="342.5" font-family='"Liberation Sans", sans-serif' font-size="16.3" fill="#111" stroke="#111" stroke-width="0.25" text-anchor="middle" transform="rotate(-90 406.9 342.5)">Normalized Intensity</text>
<text x="390.6" y="262.6" font-family='"Liberation Sans", sans-serif' font-size="22.3" fill="#000" font-weight="bold" font-style="normal" text-anchor="start" >d</text>
<text x="433.8" y="268.5" font-family='"Liberation Sans", sans-serif' font-size="15.5" font-weight="bold" fill="#000"><tspan dy="0">Co</tspan><tspan font-size="10.5" dy="4">2</tspan><tspan dy="-4">CrO</tspan><tspan font-size="10.5" dy="4">4</tspan></text>
<text x="434" y="320.2" font-family='"Liberation Serif", serif' font-size="16" fill="#111" text-anchor="start"><tspan font-style="italic">F</tspan><tspan font-size="10.3" dx="0" dy="4.2">2g</tspan></text>
<text x="536.3" y="375.4" font-family='"Liberation Serif", serif' font-size="16" fill="#111" text-anchor="start"><tspan font-style="italic">E</tspan><tspan font-size="10.3" dx="0" dy="4.0">g</tspan></text>
<text x="560" y="375.4" font-family='"Liberation Serif", serif' font-size="16" fill="#111" text-anchor="start"><tspan font-style="italic">F</tspan><tspan font-size="10.3" dx="0" dy="4.2">2g</tspan></text>
<text x="597.5" y="359.2" font-family='"Liberation Serif", serif' font-size="16" fill="#111" text-anchor="start"><tspan font-style="italic">F</tspan><tspan font-size="10.3" dx="0" dy="4.2">2g</tspan></text>
<text x="0" y="0" transform="translate(641.8 262.7) scale(0.88 1)" font-family='"Liberation Serif", serif' font-size="16" fill="#111" text-anchor="start"><tspan font-style="italic">A</tspan><tspan font-size="10.8" dx="1.0" dy="3.6">1g</tspan></text>
<line x1="474.2" y1="282.4" x2="501.7" y2="282.4" stroke="#a41ed8" stroke-width="1.1"/>
<text x="506.5" y="286.9" font-family='"Liberation Sans", sans-serif' font-size="12.6" fill="#a41ed8" font-weight="normal" font-style="normal" text-anchor="start" >1.55 V anodic scan</text>
<line x1="474.2" y1="298.5" x2="501.7" y2="298.5" stroke="#f59642" stroke-width="1.1"/>
<text x="506.5" y="302.8" font-family='"Liberation Sans", sans-serif' font-size="12.6" fill="#f59642" font-weight="normal" font-style="normal" text-anchor="start" >1.0 V</text>
</svg>
</body></html>
